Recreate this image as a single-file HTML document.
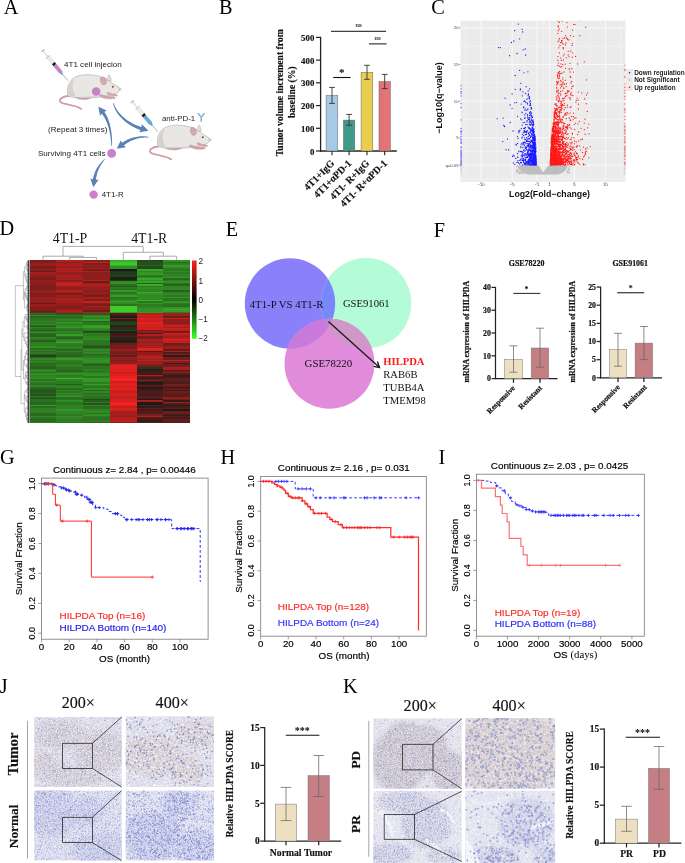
<!DOCTYPE html>
<html><head><meta charset="utf-8"><style>
html,body{margin:0;padding:0;background:#fff;overflow:hidden;}
svg{display:block;will-change:transform;}
</style></head><body>
<svg width="685" height="863" viewBox="0 0 685 863">
<rect width="685" height="863" fill="#fff"/>
<text x="3.8" y="13.7" font-family="Liberation Serif" font-size="20.3">A</text>
<text x="219" y="13.5" font-family="Liberation Serif" font-size="20.3">B</text>
<text x="431.3" y="13.6" font-family="Liberation Serif" font-size="20.3">C</text>
<text x="-0.6" y="235.2" font-family="Liberation Serif" font-size="20.3">D</text>
<text x="225.8" y="235.7" font-family="Liberation Serif" font-size="20.3">E</text>
<text x="433.7" y="236.5" font-family="Liberation Serif" font-size="20.3">F</text>
<text x="0" y="463.6" font-family="Liberation Serif" font-size="20.3">G</text>
<text x="220.4" y="463.8" font-family="Liberation Serif" font-size="20.3">H</text>
<text x="438.6" y="463.6" font-family="Liberation Serif" font-size="20.3">I</text>
<text x="-0.3" y="692.6" font-family="Liberation Serif" font-size="20.3">J</text>
<text x="343" y="692.8" font-family="Liberation Serif" font-size="20.3">K</text>
<g transform="translate(42.2 49.9) rotate(50.2) scale(0.999)">
<ellipse cx="1" cy="0" rx="0.9" ry="2.3" fill="#c4c4c4"/>
<rect x="1.5" y="-0.5" width="8" height="1.0" fill="#d2d2d2"/>
<rect x="8.6" y="-2.7" width="1.0" height="5.4" fill="#c8c8c8"/>
<rect x="9.4" y="-1.7" width="9" height="3.4" fill="#efefef" stroke="#b4b4b4" stroke-width="0.3"/>
<path d="M11.5 -1.7v1.2M13.5 -1.7v1.2M15.5 -1.7v1.2" stroke="#c8c8c8" stroke-width="0.3"/>
<rect x="17.3" y="-1.75" width="2.6" height="3.5" fill="#1a1a1a"/>
<path d="M19.9 -1.7 H29 L29.8 -1.1 V1.1 L29 1.7 H19.9 Z" fill="#c97fcb" stroke="#8a6a8a" stroke-width="0.25"/>
<rect x="29.8" y="-0.9" width="1.9" height="1.8" rx="0.5" fill="#3d9be0"/>
<line x1="31.6" y1="0" x2="40" y2="0" stroke="#666" stroke-width="0.45"/>
</g>
<g transform="translate(67 74.5) scale(0.97)">
<path d="M2 22 C-5 22.5 -9 26 -6.5 28.5 C-3 31.5 9 31 14.5 35.5" fill="none" stroke="#c48a96" stroke-width="1.7" stroke-linecap="round"/>
<path d="M2 22 C-5 22.5 -9 26 -6.5 28.5 C-3 31.5 9 31 14.5 35.5" fill="none" stroke="#e2b4bc" stroke-width="0.7" stroke-linecap="round"/>
<path d="M6 21 C8 25 14 26.5 21 25.5 C24 25 26 24 25 22 Z" fill="#d7a2ab" stroke="#a87a84" stroke-width="0.35"/>
<path d="M1 22 C-1 14 2 6 8 3 C13 0 22 -0.5 30 1 C36 2 40 4 44 7 C48 10 52 12 54.5 14 C55.5 16 53.5 18 51 19.5 C47 21 42 22 38 22.8 C30 24.2 20 24.4 10 23.8 C6 23.6 3 23.2 1 22 Z" fill="#e9e7e4" stroke="#8e8e8e" stroke-width="0.45"/>
<path d="M1.5 21.5 C0 14 3 7 8 4 C5 9 5 16 9 22.5 C6 23 3 22.8 1.5 21.5 Z" fill="#d6d1cd"/>
<path d="M10 23.5 C20 23 30 22.5 38 21.5 C30 23.6 20 24.2 10 23.8 Z" fill="#d0cac6"/>
<path d="M33 21.5 C36 24.5 41 25.5 45 25 L50 24.6 L48.5 23 L44 22.6 C41 22.4 37 21.6 35 20.5 Z" fill="#d7a2ab" stroke="#a87a84" stroke-width="0.35"/>
<path d="M41 19.5 C44 21.5 48 22.5 51 22.3 L52.5 21.3 L49 20.4 C46.5 20 44 19 42.5 18 Z" fill="#d9a7ae" stroke="#a87a84" stroke-width="0.3"/>
<path d="M40.5 6 L43.2 0 C44.5 1.5 45.5 4 45.5 6.5 Z" fill="#e3dedb" stroke="#8e8e8e" stroke-width="0.35"/>
<ellipse cx="37.4" cy="6.6" rx="2.9" ry="4.2" transform="rotate(-18 37.4 6.6)" fill="#d8aaac" stroke="#9a8282" stroke-width="0.35"/>
<circle cx="47.2" cy="12.7" r="1.05" fill="#b0402f"/>
<circle cx="54.6" cy="14.6" r="0.55" fill="#c08a90"/>
<path d="M53 15.5 l4 -1.5 M53 16 l4 0.5" stroke="#9a9a9a" stroke-width="0.25"/>
</g>
<circle cx="96.2" cy="91.5" r="4.3" fill="#c97fc9"/>
<text x="64" y="67" font-family="Liberation Sans" font-size="8.05" fill="#222">4T1 cell injecion</text>
<g transform="translate(131.6 100.9) rotate(49.7) scale(1.013)">
<ellipse cx="1" cy="0" rx="0.9" ry="2.3" fill="#c4c4c4"/>
<rect x="1.5" y="-0.5" width="8" height="1.0" fill="#d2d2d2"/>
<rect x="8.6" y="-2.7" width="1.0" height="5.4" fill="#c8c8c8"/>
<rect x="9.4" y="-1.7" width="9" height="3.4" fill="#efefef" stroke="#b4b4b4" stroke-width="0.3"/>
<path d="M11.5 -1.7v1.2M13.5 -1.7v1.2M15.5 -1.7v1.2" stroke="#c8c8c8" stroke-width="0.3"/>
<rect x="17.3" y="-1.75" width="2.6" height="3.5" fill="#1a1a1a"/>
<path d="M19.9 -1.7 H29 L29.8 -1.1 V1.1 L29 1.7 H19.9 Z" fill="#5aaee6" stroke="#8a6a8a" stroke-width="0.25"/>
<rect x="29.8" y="-0.9" width="1.9" height="1.8" rx="0.5" fill="#3d9be0"/>
<line x1="31.6" y1="0" x2="40" y2="0" stroke="#666" stroke-width="0.45"/>
</g>
<g transform="translate(157 125) scale(0.97)">
<path d="M2 22 C-5 22.5 -9 26 -6.5 28.5 C-3 31.5 9 31 14.5 35.5" fill="none" stroke="#c48a96" stroke-width="1.7" stroke-linecap="round"/>
<path d="M2 22 C-5 22.5 -9 26 -6.5 28.5 C-3 31.5 9 31 14.5 35.5" fill="none" stroke="#e2b4bc" stroke-width="0.7" stroke-linecap="round"/>
<path d="M6 21 C8 25 14 26.5 21 25.5 C24 25 26 24 25 22 Z" fill="#d7a2ab" stroke="#a87a84" stroke-width="0.35"/>
<path d="M1 22 C-1 14 2 6 8 3 C13 0 22 -0.5 30 1 C36 2 40 4 44 7 C48 10 52 12 54.5 14 C55.5 16 53.5 18 51 19.5 C47 21 42 22 38 22.8 C30 24.2 20 24.4 10 23.8 C6 23.6 3 23.2 1 22 Z" fill="#e9e7e4" stroke="#8e8e8e" stroke-width="0.45"/>
<path d="M1.5 21.5 C0 14 3 7 8 4 C5 9 5 16 9 22.5 C6 23 3 22.8 1.5 21.5 Z" fill="#d6d1cd"/>
<path d="M10 23.5 C20 23 30 22.5 38 21.5 C30 23.6 20 24.2 10 23.8 Z" fill="#d0cac6"/>
<path d="M33 21.5 C36 24.5 41 25.5 45 25 L50 24.6 L48.5 23 L44 22.6 C41 22.4 37 21.6 35 20.5 Z" fill="#d7a2ab" stroke="#a87a84" stroke-width="0.35"/>
<path d="M41 19.5 C44 21.5 48 22.5 51 22.3 L52.5 21.3 L49 20.4 C46.5 20 44 19 42.5 18 Z" fill="#d9a7ae" stroke="#a87a84" stroke-width="0.3"/>
<path d="M40.5 6 L43.2 0 C44.5 1.5 45.5 4 45.5 6.5 Z" fill="#e3dedb" stroke="#8e8e8e" stroke-width="0.35"/>
<ellipse cx="37.4" cy="6.6" rx="2.9" ry="4.2" transform="rotate(-18 37.4 6.6)" fill="#d8aaac" stroke="#9a8282" stroke-width="0.35"/>
<circle cx="47.2" cy="12.7" r="1.05" fill="#b0402f"/>
<circle cx="54.6" cy="14.6" r="0.55" fill="#c08a90"/>
<path d="M53 15.5 l4 -1.5 M53 16 l4 0.5" stroke="#9a9a9a" stroke-width="0.25"/>
</g>
<text x="162" y="120.5" font-family="Liberation Sans" font-size="7.85" fill="#222">anti-PD-1</text>
<path d="M198.2 113.6 L201.2 117.2 L204.2 113.6 M201.2 117.2 L201.2 121.3" fill="none" stroke="#7fb3e0" stroke-width="1.5" stroke-linecap="round"/>
<path d="M113.11 103.17 L113.33 104.47 L113.67 105.78 L114.12 107.10 L114.67 108.43 L115.31 109.76 L116.04 111.09 L116.85 112.42 L117.75 113.73 L118.74 115.03 L119.80 116.32 L120.93 117.58 L122.14 118.82 L123.42 120.03 L124.76 121.20 L126.18 122.34 L127.65 123.44 L129.18 124.49 L130.78 125.49 L132.42 126.44 L134.12 127.33 L135.87 128.16 L137.67 128.93 L139.51 129.63 L141.33 130.23 L142.27 127.17 L140.42 126.65 L138.68 126.08 L136.96 125.44 L135.29 124.73 L133.65 123.97 L132.05 123.15 L130.50 122.28 L129.00 121.36 L127.55 120.39 L126.16 119.38 L124.82 118.34 L123.54 117.26 L122.32 116.15 L121.16 115.01 L120.08 113.85 L119.06 112.68 L118.12 111.48 L117.25 110.28 L116.46 109.07 L115.74 107.86 L115.11 106.64 L114.56 105.43 L114.09 104.22 L113.69 103.03Z" fill="#5b80b6"/>
<path d="M148.49 130.75 L139.42 132.36 Q141.61 128.64 141.89 124.33Z" fill="#5b80b6"/>
<path d="M148.84 137.00 L147.73 136.76 L146.60 136.58 L145.46 136.44 L144.31 136.36 L143.14 136.31 L141.97 136.31 L140.79 136.35 L139.61 136.43 L138.42 136.55 L137.23 136.72 L136.04 136.92 L134.85 137.17 L133.66 137.46 L132.48 137.79 L131.31 138.16 L130.14 138.57 L128.98 139.02 L127.84 139.52 L126.70 140.06 L125.59 140.63 L124.48 141.25 L123.40 141.92 L122.33 142.62 L121.33 143.33 L123.27 145.87 L124.22 145.09 L125.15 144.38 L126.09 143.71 L127.07 143.07 L128.06 142.46 L129.06 141.89 L130.09 141.35 L131.13 140.84 L132.19 140.38 L133.26 139.94 L134.34 139.54 L135.43 139.18 L136.52 138.85 L137.63 138.56 L138.74 138.31 L139.85 138.09 L140.97 137.91 L142.09 137.76 L143.21 137.65 L144.32 137.58 L145.44 137.54 L146.55 137.53 L147.66 137.56 L148.76 137.60Z" fill="#5b80b6"/>
<path d="M116.74 148.85 L120.71 140.53 Q122.46 144.48 125.80 147.21Z" fill="#5b80b6"/>
<path d="M112.00 146.00 L112.07 144.24 L112.09 142.51 L112.07 140.79 L112.01 139.09 L111.92 137.40 L111.79 135.74 L111.63 134.11 L111.43 132.49 L111.21 130.90 L110.95 129.34 L110.66 127.81 L110.33 126.31 L109.98 124.84 L109.59 123.40 L109.16 122.00 L108.71 120.63 L108.22 119.30 L107.70 118.01 L107.14 116.76 L106.55 115.55 L105.92 114.39 L105.26 113.26 L104.56 112.19 L103.87 111.22 L101.33 113.18 L102.09 114.09 L102.78 115.00 L103.44 115.96 L104.09 116.98 L104.70 118.05 L105.30 119.17 L105.87 120.34 L106.41 121.56 L106.93 122.82 L107.42 124.13 L107.88 125.48 L108.32 126.87 L108.72 128.29 L109.10 129.76 L109.46 131.25 L109.78 132.78 L110.08 134.34 L110.34 135.93 L110.58 137.55 L110.79 139.20 L110.98 140.87 L111.14 142.56 L111.27 144.27 L111.40 146.00Z" fill="#5b80b6"/>
<path d="M98.33 106.65 L106.66 110.59 Q102.72 112.36 100.00 115.71Z" fill="#5b80b6"/>
<path d="M104.49 159.09 L103.70 159.75 L102.96 160.44 L102.24 161.15 L101.54 161.88 L100.87 162.63 L100.22 163.39 L99.59 164.18 L98.98 164.98 L98.40 165.80 L97.84 166.63 L97.31 167.49 L96.80 168.35 L96.31 169.24 L95.85 170.14 L95.41 171.06 L95.00 171.99 L94.62 172.94 L94.26 173.91 L93.94 174.89 L93.63 175.89 L93.36 176.90 L93.11 177.93 L92.90 178.97 L92.71 179.98 L95.89 180.42 L95.98 179.39 L96.10 178.42 L96.24 177.46 L96.41 176.51 L96.61 175.57 L96.83 174.65 L97.07 173.73 L97.34 172.82 L97.64 171.91 L97.96 171.02 L98.31 170.14 L98.68 169.27 L99.07 168.41 L99.49 167.56 L99.94 166.71 L100.40 165.88 L100.89 165.06 L101.40 164.24 L101.94 163.43 L102.50 162.64 L103.08 161.85 L103.68 161.07 L104.29 160.29 L104.91 159.51Z" fill="#5b80b6"/>
<path d="M93.35 187.14 L90.30 178.44 Q94.33 180.00 98.62 179.58Z" fill="#5b80b6"/>
<circle cx="111.6" cy="153.4" r="4.4" fill="#c97fc9"/>
<circle cx="93.6" cy="194.6" r="4.2" fill="#c97fc9"/>
<text x="48" y="132" font-family="Liberation Sans" font-size="8.05" fill="#222">(Repeat 3 times)</text>
<text x="105.5" y="156.3" font-family="Liberation Sans" font-size="8.05" text-anchor="end" fill="#222">Surviving 4T1 cells</text>
<text x="101.7" y="197.3" font-family="Liberation Sans" font-size="7.9" fill="#222">4T1-R</text>
<line x1="320.6" y1="36.8" x2="320.6" y2="151.6" stroke="#222" stroke-width="1.3"/>
<line x1="320" y1="151" x2="396.8" y2="151" stroke="#222" stroke-width="1.3"/>
<line x1="316" y1="151" x2="320.6" y2="151" stroke="#222" stroke-width="1.2"/>
<text x="314.3" y="154.6" font-family="Liberation Serif" font-size="8.8" font-weight="bold" text-anchor="end" fill="#111" stroke="#111" stroke-width="0.15">0</text>
<line x1="316" y1="128.3" x2="320.6" y2="128.3" stroke="#222" stroke-width="1.2"/>
<text x="314.3" y="131.9" font-family="Liberation Serif" font-size="8.8" font-weight="bold" text-anchor="end" fill="#111" stroke="#111" stroke-width="0.15">100</text>
<line x1="316" y1="105.6" x2="320.6" y2="105.6" stroke="#222" stroke-width="1.2"/>
<text x="314.3" y="109.2" font-family="Liberation Serif" font-size="8.8" font-weight="bold" text-anchor="end" fill="#111" stroke="#111" stroke-width="0.15">200</text>
<line x1="316" y1="82.8" x2="320.6" y2="82.8" stroke="#222" stroke-width="1.2"/>
<text x="314.3" y="86.4" font-family="Liberation Serif" font-size="8.8" font-weight="bold" text-anchor="end" fill="#111" stroke="#111" stroke-width="0.15">300</text>
<line x1="316" y1="60.1" x2="320.6" y2="60.1" stroke="#222" stroke-width="1.2"/>
<text x="314.3" y="63.7" font-family="Liberation Serif" font-size="8.8" font-weight="bold" text-anchor="end" fill="#111" stroke="#111" stroke-width="0.15">400</text>
<line x1="316" y1="37.4" x2="320.6" y2="37.4" stroke="#222" stroke-width="1.2"/>
<text x="314.3" y="41" font-family="Liberation Serif" font-size="8.8" font-weight="bold" text-anchor="end" fill="#111" stroke="#111" stroke-width="0.15">500</text>
<rect x="326.1" y="95.4" width="11.7" height="55.6" fill="#a6c9e6" stroke="#666" stroke-width="0.5"/>
<line x1="332" y1="87.4" x2="332" y2="103.4" stroke="#333" stroke-width="0.9"/>
<line x1="329.1" y1="87.4" x2="334.9" y2="87.4" stroke="#333" stroke-width="0.9"/>
<line x1="329.1" y1="103.4" x2="334.9" y2="103.4" stroke="#333" stroke-width="0.9"/>
<line x1="332" y1="151" x2="332" y2="155.3" stroke="#222" stroke-width="1.1"/>
<text x="335" y="163.9" font-family="Liberation Serif" font-size="9.85" font-weight="bold" text-anchor="end" fill="#111" stroke="#111" stroke-width="0.15" transform="rotate(-45 335 163.9)">4T1+IgG</text>
<rect x="343.4" y="120.1" width="11.4" height="30.9" fill="#3f9a89" stroke="#666" stroke-width="0.5"/>
<line x1="349.1" y1="114.4" x2="349.1" y2="125.2" stroke="#333" stroke-width="0.9"/>
<line x1="346.2" y1="114.4" x2="352" y2="114.4" stroke="#333" stroke-width="0.9"/>
<line x1="346.2" y1="125.2" x2="352" y2="125.2" stroke="#333" stroke-width="0.9"/>
<line x1="349.1" y1="151" x2="349.1" y2="155.3" stroke="#222" stroke-width="1.1"/>
<text x="352.1" y="163.9" font-family="Liberation Serif" font-size="9.85" font-weight="bold" text-anchor="end" fill="#111" stroke="#111" stroke-width="0.15" transform="rotate(-45 352.1 163.9)">4T1+αPD-1</text>
<rect x="361.1" y="72.3" width="11.7" height="78.7" fill="#e9cf4f" stroke="#666" stroke-width="0.5"/>
<line x1="367" y1="65.3" x2="367" y2="79.3" stroke="#333" stroke-width="0.9"/>
<line x1="364.1" y1="65.3" x2="369.9" y2="65.3" stroke="#333" stroke-width="0.9"/>
<line x1="364.1" y1="79.3" x2="369.9" y2="79.3" stroke="#333" stroke-width="0.9"/>
<line x1="367" y1="151" x2="367" y2="155.3" stroke="#222" stroke-width="1.1"/>
<text x="370" y="163.9" font-family="Liberation Serif" font-size="9.85" font-weight="bold" text-anchor="end" fill="#111" stroke="#111" stroke-width="0.15" transform="rotate(-45 370 163.9)">4T1- R+IgG</text>
<rect x="379" y="81.6" width="11.4" height="69.4" fill="#e37377" stroke="#666" stroke-width="0.5"/>
<line x1="384.7" y1="74.4" x2="384.7" y2="88.6" stroke="#333" stroke-width="0.9"/>
<line x1="381.8" y1="74.4" x2="387.6" y2="74.4" stroke="#333" stroke-width="0.9"/>
<line x1="381.8" y1="88.6" x2="387.6" y2="88.6" stroke="#333" stroke-width="0.9"/>
<line x1="384.7" y1="151" x2="384.7" y2="155.3" stroke="#222" stroke-width="1.1"/>
<text x="387.7" y="163.9" font-family="Liberation Serif" font-size="9.85" font-weight="bold" text-anchor="end" fill="#111" stroke="#111" stroke-width="0.15" transform="rotate(-45 387.7 163.9)">4T1- R+αPD-1</text>
<line x1="333.2" y1="77.5" x2="350.6" y2="77.5" stroke="#111" stroke-width="1.1"/>
<text x="341.8" y="76.4" font-family="Liberation Serif" font-size="11" font-weight="bold" text-anchor="middle">*</text>
<line x1="331" y1="31.3" x2="386" y2="31.3" stroke="#111" stroke-width="1.0"/>
<text x="358.5" y="27" font-family="Liberation Serif" font-size="7" text-anchor="middle" fill="#333" stroke="#333" stroke-width="0.15">ns</text>
<line x1="369" y1="43.9" x2="386.5" y2="43.9" stroke="#111" stroke-width="1.0"/>
<text x="377.7" y="39.6" font-family="Liberation Serif" font-size="7" text-anchor="middle" fill="#333" stroke="#333" stroke-width="0.15">ns</text>
<text x="283.5" y="92.7" font-family="Liberation Serif" font-size="9.66" font-weight="bold" text-anchor="middle" fill="#111" stroke="#111" stroke-width="0.15" transform="rotate(-90 283.5 92.7)">Tumor volume increment from</text>
<text x="295.2" y="92.2" font-family="Liberation Serif" font-size="9.66" font-weight="bold" text-anchor="middle" fill="#111" stroke="#111" stroke-width="0.15" transform="rotate(-90 295.2 92.2)">baseline (%)</text>
<defs><clipPath id="cclip"><rect x="460.5" y="20.7" width="165.0" height="161.10000000000002"/></clipPath></defs>
<rect x="460.5" y="20.7" width="165" height="161.1" fill="#ebebeb"/>
<path d="M465.5 20.7V181.8M496.6 20.7V181.8M524.5 20.7V181.8M543.2 20.7V181.8M561.9 20.7V181.8M589.9 20.7V181.8M621 20.7V181.8M460.5 151.5H625.5M460.5 119.5H625.5M460.5 82.8H625.5M460.5 46.2H625.5M460.5 179H625.5" stroke="#f6f6f6" stroke-width="0.5" fill="none"/>
<path d="M481 20.7V181.8M512.1 20.7V181.8M537 20.7V181.8M549.4 20.7V181.8M574.3 20.7V181.8M605.4 20.7V181.8M460.5 165.1H625.5M460.5 137.9H625.5M460.5 101.2H625.5M460.5 64.5H625.5M460.5 27.8H625.5" stroke="#fbfbfb" stroke-width="0.9" fill="none"/>
<g clip-path="url(#cclip)">
<path d="M519.6 165.1 L520.5 165.1 L521.4 165.1 L522.3 165.1 L523.2 165.1 L524.2 165.1 L525.1 165.1 L526 165.1 L526.9 165.1 L527.8 165.1 L528.7 165.1 L529.7 165.1 L530.6 165.1 L531.5 165.1 L532.4 165.1 L533.3 165.1 L534.2 165.1 L535.2 165.1 L536.1 165.1 L537 165.1 L537.9 165.1 L537.9 165.1 L543.2 172.4 L549.1 165.1 L549.1 165.1 L550 165.1 L550.9 165.1 L551.8 165.1 L552.7 165.1 L553.6 165.1 L554.5 165.1 L555.4 165.1 L556.3 165.1 L557.2 165.1 L558.1 165.1 L559 165.1 L559.9 165.1 L560.8 165.1 L561.7 165.1 L562.6 165.1 L563.5 165.1 L564.4 165.1 L565.3 165.1 L566.2 165.1 L567.1 165.1 L567.1 167.6 L565.6 169.6 L564 171.2 L562.4 172.6 L560.8 173.6 L559.2 174.2 L557.6 174.6 L556 174.6 L554.5 174.6 L552.9 174.6 L551.3 174.6 L549.7 174.6 L548.1 174.6 L546.5 174.6 L544.9 174.6 L543.4 174.6 L541.8 174.6 L540.2 174.6 L538.6 174.6 L537 174.6 L535.4 174.6 L533.8 174.6 L532.3 174.6 L530.7 174.6 L529.1 174.6 L527.5 174.3 L525.9 173.7 L524.3 172.8 L522.7 171.5 L521.2 169.9 L519.6 168Z" fill="#bebebe"/>
<path d="M534 172.5h0M551.7 173.2h0M545.5 170.6h0M519.6 169.4h0M518.5 170h0M520.2 173.1h0M523.2 171.9h0M550.4 165.5h0M547.7 170.4h0M569.3 173.5h0M562.9 171.3h0M524.3 172.8h0M533.1 166.7h0M526.2 168.7h0M551 170.6h0M546.1 173.3h0M519.7 172.1h0M553.3 170.1h0M533.5 168.7h0M541 171.2h0M559.4 167.7h0M529.7 168.8h0M555.9 171.3h0M569.5 172.8h0M539.1 167.2h0M524.7 169.6h0M518.6 168h0M557.8 168.8h0M563.8 171.1h0M554.1 168.6h0M547.8 169.8h0M561.9 165.5h0M519.7 167.7h0M551.5 165.1h0M560.9 171.4h0M537.3 168h0M517.7 169.8h0M525.5 172.8h0M519.6 167.1h0M523.5 171.7h0M537.6 166.2h0M520.8 169.9h0M560.8 166.3h0M531.5 170.2h0M535.9 166.1h0M568.3 172.5h0M526 171.8h0M529.1 169.6h0M548.3 171.6h0M516.7 170.2h0M536.4 168.9h0M568 167.8h0M553 173.4h0M565.1 167h0M563.8 166.8h0M537.7 170.4h0M522.1 168.3h0M519.8 173.3h0M527.8 172.4h0M534.9 173.4h0M516.5 172.5h0M521.9 170.7h0M517.8 166.2h0M549.7 172.6h0M530.1 170.8h0M536.2 172.8h0M562.4 165.1h0M521.1 173h0M535 171.5h0M561.3 172.4h0M517.7 165.5h0M545 172.6h0M545.8 173.6h0M563.2 167.7h0M530.6 170.6h0M525.5 167.1h0M534.3 171.9h0M560.4 165.2h0M562.6 166.8h0M560.7 167.3h0M528.7 169.3h0M535.7 173.6h0M518 171.4h0M530.5 167.8h0M568.2 169.9h0M567.2 165.2h0M568.1 170.7h0M528.4 171.9h0M527.1 172.1h0M550.2 165.9h0M561.9 169.6h0M551.8 166.8h0M521 168h0M565.7 167h0M557 169.7h0M526.1 166.9h0M534.4 166.8h0M569 170.4h0M555.7 172.4h0M523.3 172.5h0M565.4 166.8h0M524.4 166.6h0M569.5 168.1h0M535.4 169h0M523.5 173.7h0M569 168.1h0M561.2 172h0M530.1 171.3h0M529.5 168.7h0M530.5 170.2h0M523.5 165.9h0M535.6 169.8h0M544.8 173.7h0M540.3 172.3h0M516.7 166.8h0M525.8 169.7h0M555.7 169h0M534.1 169.3h0M522.2 168.9h0M529.9 171.4h0M558.2 169.4h0M565.8 170h0M549.6 169.4h0M554.3 166.1h0M567.4 171.6h0M561.9 172.7h0M523 170h0M520.4 171.7h0M520.4 168h0M558.9 166h0M524.8 167.6h0M552.2 172.6h0M564.2 165.3h0M528.3 165.5h0M538 169.6h0M570 166.5h0M525.2 170.1h0M527 171.1h0M555.5 173.7h0M546.4 170h0M517.4 170.9h0M550.2 169.4h0M519.9 165.2h0M559.1 165.3h0M522.1 171.5h0M518.6 167h0M531.1 172.7h0M560.8 171.6h0M524.5 165.8h0M547.3 167.7h0M521.3 173.4h0M553.7 170.1h0M520.4 165.6h0M550.8 166.8h0M521 166.3h0M520.1 166.3h0M541 170.9h0M530.9 172.7h0M545 171.8h0M522.4 172.4h0M519.2 172.1h0M533.3 171.2h0M557.6 171.3h0M543.5 172.3h0M535.2 173.7h0M530 173.7h0M556.1 169h0M526.7 169.7h0M567 172.9h0M560.8 170.1h0M537.7 169.4h0M553.7 165.2h0M535 166.5h0M554.7 168.3h0M538.4 170.8h0M519.4 172.7h0M520.3 167.3h0M530.3 172.4h0M521 166.5h0M563.6 168h0M531.7 171.7h0M532.3 169.8h0M525 169.9h0M530.7 165.4h0M569.1 169h0M529.7 165.4h0M533.2 170.7h0M516.5 170.5h0M527.3 169.4h0M516.7 171.5h0M521.3 170.3h0M518.7 173.7h0M532.9 171.8h0M548.1 169.2h0M557.1 168.1h0M460.9 167.8h0M625.1 167.8h0M460.9 166.2h0M625.1 166.2h0M460.9 170.9h0M625.1 170.9h0M460.9 171.5h0M625.1 171.5h0M460.9 165.2h0M625.1 165.2h0M460.9 173.2h0M625.1 173.2h0M460.9 167.7h0M625.1 167.7h0M460.9 168.5h0M625.1 168.5h0M460.9 174.2h0M625.1 174.2h0M460.9 166.6h0M625.1 166.6h0M460.9 166.1h0M625.1 166.1h0M460.9 168.6h0M625.1 168.6h0M460.9 167.6h0M625.1 167.6h0M460.9 166.8h0M625.1 166.8h0M460.9 173.3h0M625.1 173.3h0M460.9 169.6h0M625.1 169.6h0" stroke="#bebebe" stroke-width="1.3" stroke-linecap="round" fill="none"/>
<path d="M527.6 151.1h0M526.6 132.7h0M525.4 147.7h0M530.1 142.3h0M536.2 159.9h0M534.3 162.2h0M528 162.9h0M531.3 148.9h0M530.4 145.6h0M536 151.7h0M528.4 133.4h0M532.4 151.2h0M535.3 143.7h0M534.1 138.6h0M535 163.5h0M534.4 139.2h0M518.1 138.4h0M533.7 151.6h0M530.6 152.1h0M530.7 136.2h0M535.3 144.7h0M535 161.9h0M533.7 138.1h0M535.8 148.4h0M535 163.8h0M530.1 143h0M534 142.7h0M533 150.7h0M535.4 152.6h0M532.1 120.6h0M515.2 89.3h0M533.7 164.7h0M518.5 131.1h0M534.6 153.2h0M522.8 160.4h0M532.3 160.4h0M533 162h0M530.5 104.6h0M531.3 131.1h0M527 121.9h0M525.7 159.8h0M535.9 151.9h0M533.4 165h0M534.4 153.2h0M534.5 162.1h0M527.7 157.5h0M530.1 165h0M533.6 128.8h0M525.8 113.4h0M531.3 119.1h0M533.8 155.8h0M522.7 31.9h0M533.6 156.2h0M536.1 158.7h0M528.1 162.9h0M523.5 158.4h0M534.9 159.4h0M535 150.9h0M521.6 155.8h0M524.7 122.3h0M524.3 145.3h0M527.6 109.1h0M535.3 139.9h0M532.7 138.9h0M530.5 137.4h0M536 158.4h0M531.6 113.2h0M534.1 152.4h0M530 158.1h0M528.2 90.9h0M534 143.9h0M533.5 148.9h0M535.6 161.4h0M525.3 160.4h0M534.8 151.4h0M503.1 118.1h0M535.4 153.2h0M535.9 160.8h0M535.8 156.8h0M534.9 159.6h0M525.7 148.3h0M532.9 137.6h0M532.6 154.5h0M534.2 155.7h0M535 163.8h0M529.6 97h0M531.3 151.2h0M532.6 125.7h0M535 158.8h0M533.4 154.9h0M521.2 104.1h0M533.6 124.2h0M530.8 164.4h0M529.8 120.3h0M535.8 147.5h0M523.9 155.2h0M524.3 130.4h0M528.5 94h0M535.7 162.8h0M530.6 150.4h0M525 108.8h0M528.9 144.4h0M532.3 152.9h0M529.4 164.3h0M524.6 159.8h0M534 144.5h0M535.1 162.3h0M530.1 145h0M536.1 162.7h0M531.9 150.3h0M535 155.3h0M535.7 146.8h0M533.4 157.9h0M525.5 101.8h0M530.1 122.4h0M535 159.8h0M524.4 101h0M536.1 157.8h0M530.7 151.4h0M534.7 154.3h0M523.6 143.2h0M536.2 160h0M533.7 156.9h0M534.6 142.3h0M528.6 133.5h0M534.9 151.1h0M528.2 95.7h0M533.4 131.1h0M529.7 160.1h0M522.1 158.1h0M535 151.5h0M533.8 160h0M521.8 143.4h0M534.1 161.9h0M519.3 160.3h0M536.2 162h0M534.2 163.8h0M521.8 119.8h0M507.5 138.9h0M530.1 111.9h0M523.6 161h0M535.3 137.9h0M533.4 143.4h0M534.3 155.8h0M536.4 161.4h0M534.3 158.6h0M530.4 103.4h0M529.4 99h0M528.1 156.3h0M531.9 130.9h0M533.5 164.1h0M524.4 155.8h0M534.3 160.8h0M533 120h0M528.3 154.6h0M535 136.2h0M536.2 164.4h0M531 115h0M524.7 137.8h0M534.7 156.9h0M525.9 102.4h0M530.4 159h0M534.7 157.5h0M530 165h0M527.4 115.9h0M531.6 108.2h0M533.3 159.8h0M514.8 102.8h0M534.8 155.4h0M532.9 153.9h0M531.3 112.9h0M528.5 132.9h0M527.6 130.8h0M533.9 146.5h0M534.1 157.4h0M534.7 134.8h0M529.8 160.7h0M536 159.4h0M532.8 164.4h0M517.9 157.2h0M510.2 122.5h0M535.9 159h0M533.2 163h0M532.8 140.5h0M533.8 159.8h0M530.5 145.9h0M526.6 137.7h0M535 143.4h0M532.4 128.6h0M533.7 148.5h0M534.4 138.5h0M535 159.4h0M526.4 161.8h0M534 147.9h0M513.3 155.1h0M534.7 151h0M529.8 132.3h0M527.9 71.8h0M528 152.3h0M521.3 128.7h0M534.9 164.2h0M535.5 162.5h0M525.4 93.5h0M529.8 112.3h0M530.7 125.2h0M529.3 159.1h0M531 107.3h0M531.3 147.1h0M534.2 160.2h0M535.4 162h0M532 159.2h0M534.6 144.2h0M534.7 164.8h0M534.7 142.6h0M535.2 157.6h0M531.2 133.6h0M536 163.8h0M532.4 155.1h0M535.3 144.9h0M530.9 161.5h0M534.6 154.6h0M522 157.8h0M532.3 157.6h0M533.7 156.3h0M503.8 125.5h0M535.2 156.1h0M534.4 139.3h0M525.7 164.9h0M528.1 154.1h0M526.1 154.7h0M535.2 152.8h0M532.8 164.8h0M524.5 144.8h0M531.9 163.2h0M532.9 155.9h0M534.9 161.9h0M523.8 150.5h0M533.3 162.8h0M518.9 132.7h0M535.7 160.7h0M512.1 108.3h0M535.8 152h0M529.8 113.4h0M527.9 118.6h0M533.7 130.6h0M533.8 134.5h0M527.4 154.8h0M533.4 130h0M534 160.2h0M533.7 150.6h0M535.1 162.5h0M524.9 139.5h0M532.7 164.2h0M535.1 137h0M533.7 129h0M532.1 146.9h0M534 145.5h0M532 154.3h0M531.1 154.1h0M533.4 153.3h0M532 164.6h0M534.7 151.7h0M528.2 136.5h0M535.1 152.9h0M535.5 152.4h0M533.8 162.3h0M533.7 163.2h0M535.8 150.9h0M535.3 145h0M528.5 138.9h0M535.7 150.9h0M533.8 151.2h0M530.6 105.3h0M504.7 126.5h0M527.6 139h0M517.7 160.8h0M521.4 151.6h0M531.7 116h0M522.5 134.3h0M534.5 163.7h0M534.5 137.1h0M531.5 120.1h0M533.9 131.5h0M524.2 151.2h0M534.9 160.4h0M534.2 151.1h0M535.6 164.3h0M523.5 161.6h0M525.1 142.5h0M529.2 161.4h0M532.9 162.6h0M533.6 145h0M529.4 124.2h0M525.8 147.9h0M513.3 162.9h0M533.4 145.4h0M533.4 133.4h0M524 72.8h0M529.4 156.2h0M535.2 153.5h0M535.2 138.1h0M533.2 131.1h0M516.4 144.9h0M530.7 147.6h0M536.2 157.6h0M535.8 164.4h0M533.1 146.1h0M525.4 150.8h0M535.2 162.3h0M535.6 144.1h0M534.5 165h0M534.4 162.8h0M532.3 160h0M534.8 147.4h0M532.7 145.7h0M523.6 162.2h0M535.6 159.5h0M531.7 163.1h0M525.7 124.4h0M534.7 154.9h0M531.7 164.8h0M533.9 148.7h0M533 144.5h0M525 110.2h0M525.4 159.4h0M533 164.2h0M534.9 154.7h0M529.5 163.9h0M532.8 164.8h0M531 109h0M532 160.6h0M531.2 151h0M533.8 131.8h0M534.6 157.7h0M526.2 164.1h0M529.2 134.8h0M527.9 164.9h0M532.5 138h0M532.6 138.2h0M535.8 160h0M536.1 159.8h0M529.8 157h0M526.9 141.5h0M534.1 140.4h0M533.2 149.1h0M531.5 134.3h0M531.5 158.9h0M529.2 98.5h0M533.5 123h0M535 159.1h0M521.9 138.1h0M533.6 137.9h0M531.5 123h0M525.2 159.6h0M530.2 145.3h0M517.6 143.4h0M527.5 152.5h0M526.5 141.4h0M530.1 153.7h0M534.1 148.3h0M531.8 160.3h0M525.2 163.5h0M536.3 162h0M524.1 162.8h0M535.5 156.7h0M536.3 164.5h0M530.9 141.7h0M529.3 141.4h0M532.3 163.7h0M528.2 156.1h0M524.2 131.1h0M527 163.7h0M517.5 116.3h0M535.4 162.8h0M536.3 162.7h0M525.3 127.8h0M527.6 145.1h0M534.1 145.3h0M536 163h0M534.2 137h0M533.7 157.4h0M535.1 164.6h0M530.4 158.5h0M534.4 156h0M526.9 99.2h0M529 127.3h0M534 164.4h0M529.2 153.7h0M530.5 156.6h0M534.8 149.8h0M533.4 125.8h0M533.7 131.1h0M535.5 165h0M517.5 136.6h0M533.4 165h0M528.6 151.7h0M533.2 161h0M527.9 156.6h0M522.9 159.1h0M535.1 158.4h0M532.3 141.2h0M531.7 162.8h0M529.2 163.4h0M528.4 141.4h0M533.7 145.5h0M533.8 154.9h0M532.9 121.2h0M533.3 121.6h0M534.9 160.5h0M529.4 119.2h0M526.1 155.6h0M533.4 159.8h0M529.4 150h0M530.5 137.3h0M534.3 156.6h0M527.8 161.7h0M529.3 143.6h0M533.7 161.4h0M531.1 135.6h0M533.5 162.4h0M532 122.2h0M534.7 160.8h0M526.9 141h0M535.6 161.7h0M534.5 159.4h0M535.1 150.4h0M535.2 157.2h0M523 91.8h0M521.2 162.9h0M534.2 162.9h0M520.9 83.3h0M532.8 138.9h0M531.6 160.7h0M535.4 162.8h0M536 155.3h0M528.8 155h0M532.3 141.6h0M532.8 145.2h0M532.1 162h0M529.8 154.8h0M530 117.8h0M529.4 148.1h0M534.9 154.2h0M525.6 139.7h0M529.5 135.6h0M528.1 127.1h0M532.9 144.7h0M531.6 157.6h0M533.9 163h0M529.2 134.8h0M534.4 145.4h0M533.3 154.1h0M533.3 145.8h0M523.2 142.8h0M531.4 161.1h0M532.8 135.2h0M518.9 151.7h0M532.9 164.3h0M529.3 161.6h0M528 109.1h0M532.5 162.9h0M530 149.6h0M531.2 150.8h0M530.6 130.1h0M522.3 154.6h0M531 160.4h0M529.4 155.2h0M517 162.5h0M535.9 156.4h0M533.9 158.7h0M534 164.8h0M530.5 154.2h0M534.8 156.5h0M530 160h0M527.9 109.3h0M528.8 160.2h0M535 155.2h0M529.4 162.3h0M530 132.2h0M532.2 152.5h0M520.8 160h0M531.4 156.4h0M526.7 131.2h0M534.4 152.5h0M535.3 149.3h0M532.1 129.5h0M532.5 127.4h0M534.8 155.7h0M535.1 154.1h0M530.6 165h0M535 158.5h0M533.2 157.9h0M531.4 154h0M533.6 143.7h0M522.1 112.7h0M528.3 163.9h0M524.9 118.2h0M528.1 162.1h0M535.7 145.2h0M522.4 164.8h0M534.3 143.9h0M535.7 162.9h0M529.3 159.8h0M535.4 156.6h0M524.7 118.6h0M526 161.4h0M528.7 146.5h0M525.2 143.2h0M526.5 134.3h0M530.9 160.7h0M529.6 150.1h0M526.1 153.6h0M534.4 149h0M535.6 159.8h0M535.7 151.6h0M535.3 152.6h0M532.8 151.7h0M526.6 149.7h0M528 164.9h0M532.2 152.6h0M527.1 143.4h0M533.6 155.7h0M530.4 101h0M531 145h0M532.1 164.5h0M523.1 142.3h0M517.5 157.1h0M532.9 150.9h0M533 119.9h0M530.9 140h0M527 156.9h0M533.2 156h0M529.1 150.3h0M533.7 160.4h0M532.3 154.2h0M532.7 130.3h0M531.7 130.2h0M534.5 151.2h0M518.8 151.1h0M528.4 144h0M534.4 157.1h0M532.1 158h0M528.6 145.1h0M530.5 164.2h0M529.3 122.1h0M534.8 164h0M535.6 164.9h0M527.6 114.6h0M528.4 143.8h0M527.9 117.4h0M531.2 146.1h0M531.3 141.4h0M534.5 142.4h0M532.8 143.3h0M534.8 136.6h0M536.2 161.1h0M523.7 135.5h0M533.5 143.9h0M527.3 130.8h0M534.5 148.7h0M533.7 157.9h0M533.6 157.5h0M523 144.7h0M532.6 163.9h0M535.9 164.3h0M530.7 132.1h0M529.5 115.3h0M534.2 164.8h0M522.9 147.3h0M526.1 86.7h0M535.6 154.5h0M534.6 144.6h0M536.3 161.8h0M531.2 165h0M520.6 162.5h0M527 163.2h0M536.3 162.3h0M534.2 139.9h0M534.5 138.8h0M529.6 164h0M526.5 140.3h0M535.1 139.1h0M530 145.4h0M523.5 152.8h0M520.8 159.2h0M535.5 140h0M531.6 164.8h0M534.2 131.4h0M530.1 157.7h0M527.2 161.5h0M535.7 151.9h0M532.2 156h0M530.8 153.6h0M529 162h0M531.3 156.1h0M533.2 145.4h0M528.9 155.4h0M523.5 107.6h0M534.2 148.5h0M519.5 163.8h0M527.4 141h0M531.9 157.1h0M520.3 89.9h0M534.1 146.8h0M525.9 154h0M530.8 155.7h0M525.2 146.8h0M533.2 132.4h0M535.1 165h0M532 154.2h0M524.4 131.5h0M528.2 164.2h0M525.3 132h0M534.4 148.2h0M525.4 127.3h0M524.2 142.2h0M535.8 156.6h0M528.4 149.1h0M529.9 160.6h0M530.8 111.9h0M530.5 146.6h0M535 152.7h0M529.8 159.2h0M532.1 134h0M528.8 163.2h0M533.9 135.7h0M525.2 147.9h0M529.6 122.2h0M531.9 152.2h0M535.4 160.9h0M530.7 161.1h0M532.3 156.1h0M532.7 154.9h0M536.2 161.9h0M525.2 49h0M531.8 162.8h0M534.2 134.4h0M533.8 147h0M535.8 150.5h0M514.8 164.4h0M530.3 125.2h0M534.4 148.5h0M532.5 135.1h0M523.9 107h0M519.2 131.2h0M536.1 159.3h0M535.4 160.6h0M536.2 163.3h0M526.3 148.9h0M522.3 152.9h0M532.5 117.4h0M533.4 147h0M521.5 162.5h0M532.4 159.2h0M521.1 144.8h0M533.3 143.1h0M535.2 153.3h0M505.1 98.2h0M536.2 160.1h0M534.3 159.2h0M520.6 118.9h0M534.1 129.1h0M529.2 134.5h0M516 144.4h0M535.8 163.9h0M522.3 137.2h0M534 142.7h0M529.2 147.3h0M534.6 162.9h0M535.7 159.2h0M535.1 152h0M535.6 159.7h0M535.6 142.6h0M534.5 140h0M524.3 164.3h0M523.7 160.1h0M522.2 125.1h0M533.7 162.1h0M524.1 163h0M529 128.5h0M534.1 153.1h0M531.5 130.7h0M535 145.5h0M536.1 160.1h0M531.8 140.3h0M526.9 162h0M533.8 158.9h0M534.9 161.7h0M532.1 128.8h0M533.2 161.4h0M525.3 157.5h0M518.5 162.7h0M526 163.9h0M534.5 143.2h0M534.4 152.2h0M535.3 159.1h0M514.2 156.1h0M513.8 41h0M534.9 163h0M532.9 120.2h0M533.9 139.4h0M529.6 88.8h0M532.8 132.5h0M536.4 162.1h0M530.5 129.7h0M533.7 161h0M531.5 116.9h0M535.2 148.3h0M529.5 161.1h0M534.5 140.4h0M536.1 163.4h0M532.6 146.5h0M535.2 158.7h0M530 146.3h0M530.6 132h0M536 160.6h0M533 138.9h0M535.2 139.7h0M532.8 132.1h0M523.7 128.5h0M535.9 151.6h0M529.4 117.3h0M532.1 124.3h0M528.1 161h0M535.3 156h0M532 155.9h0M533.1 165h0M532.7 153.4h0M530.6 162.5h0M525.3 131.5h0M530.4 157.4h0M529.7 155.5h0M526.9 163.8h0M527.6 104h0M532.4 150.8h0M535.8 149.8h0M529 97.2h0M535.9 161.1h0M528.4 159.3h0M536 164.5h0M534.6 141.3h0M532.3 164.7h0M532.4 148h0M535 141h0M527.1 124.7h0M535.9 164.1h0M532.7 151.6h0M535.7 158.6h0M535.4 154.7h0M526.6 147.3h0M532.4 161.9h0M534.6 137.9h0M519.8 130.4h0M533.6 155.3h0M530.3 128.8h0M522.9 155.1h0M533.2 135.3h0M534.4 159.6h0M517.5 153.7h0M523.4 132.7h0M525.9 131.6h0M533.1 164h0M516.6 102.3h0M533.8 159.4h0M533.6 145.2h0M535.6 150.1h0M532.8 153.8h0M535.8 164.6h0M522.3 95.8h0M526.7 110.3h0M524.7 132.2h0M533.3 122.3h0M534.3 144.7h0M534.1 142.6h0M523.9 149.6h0M534.4 145.8h0M533.3 150.5h0M529.6 105.3h0M531.4 157.8h0M532.2 162.5h0M527.3 103.1h0M533.4 158.9h0M535.2 149.9h0M535.8 162.4h0M533.8 158.2h0M535 158.3h0M532.8 163.2h0M529.3 128.8h0M531 148.3h0M530.6 160.6h0M532.3 152.8h0M532.8 146.3h0M534.9 157.7h0M533 160.1h0M532 155.5h0M534.5 164.8h0M532.5 125.8h0M532.7 148.9h0M515.8 158.4h0M529.4 158.1h0M536.1 161.6h0M530.7 124.4h0M534.2 163.8h0M529.9 153.6h0M535.3 162.8h0M523.8 101.6h0M534.5 161.7h0M530.9 156.4h0M526.9 146.1h0M531.2 130.9h0M529.1 138.5h0M532.3 136.8h0M529.3 134.6h0M532 116.3h0M533.7 124.5h0M531.1 136.3h0M520.6 151.4h0M533.3 148.2h0M525.4 134.7h0M533.6 146.5h0M533.2 153.1h0M533.9 139.6h0M532.4 155.2h0M534.3 155.4h0M526.2 134.4h0M533.2 151.3h0M534.7 161h0M532.4 162h0M535.4 147.8h0M530.5 115h0M524.6 128.3h0M529.7 101.9h0M524.8 154h0M536.3 164.8h0M532.7 148.6h0M524.7 114.9h0M506.1 149.7h0M532.6 150.6h0M533.3 142.2h0M532 156.3h0M522.4 156.5h0M532.1 142.7h0M534.3 163h0M532.3 154.9h0M526 148.1h0M527.1 98.9h0M531.5 153.6h0M525.6 55h0M528 150.1h0M534.6 161.3h0M520.4 89h0M535.4 150.8h0M527.1 120.5h0M513 131h0M530.5 121.6h0M534.8 161.7h0M532.7 150.9h0M535.4 160.9h0M531.4 145.3h0M512.5 156.4h0M535.5 145h0M528.9 154.6h0M530.8 157.8h0M534.8 165h0M529.6 128.5h0M534.6 143.2h0M532.2 151.4h0M531.4 158.9h0M508.7 150h0M533.4 148.1h0M535.6 162.5h0M534.8 136.8h0M535.6 163h0M527.9 150.4h0M528.1 146.2h0M536.4 163.8h0M533.4 135.9h0M533.5 140.1h0M534.9 161.4h0M525.5 163h0M533.8 147.8h0M533.8 153.2h0M526.2 163.9h0M520.9 147.7h0M531.6 153.6h0M536.1 159.4h0M522 112.1h0M525.5 157.6h0M532.9 131.5h0M520.8 146.8h0M522 151.5h0M534 159.5h0M534.3 139.9h0M526.5 157.7h0M528.7 151.9h0M535.4 159.5h0M535.2 156.3h0M528.3 94.5h0M535.3 148.7h0M533.6 149.9h0M535.8 154.8h0M528.3 162.5h0M534.9 156.5h0M534.8 160.9h0M536.2 159.7h0M533.7 143.4h0M530.7 161.7h0M535 163.1h0M533.6 129.3h0M527.6 153.4h0M534 132.7h0M530.2 156.4h0M521.3 155.7h0M522.3 160.4h0M534.8 151.1h0M535.4 153.1h0M534.1 140.8h0M528.5 119.5h0M534.9 156h0M534.7 146.5h0M533 124.3h0M532.3 150.8h0M529.4 158.8h0M531.1 155.4h0M534.1 148.4h0M535.7 155.3h0M527.5 161.2h0M531.2 157.4h0M532.6 162.8h0M532.9 156.2h0M535.9 158.1h0M535 157.7h0M530.6 162.4h0M533.9 158.5h0M525 117.6h0M523.1 122.6h0M534.9 162.2h0M531.2 164.5h0M533.6 143.5h0M531.1 154.5h0M534.2 141.2h0M531.9 127.9h0M534.8 145.4h0M525.1 162.6h0M529.6 138.8h0M536.3 164.2h0M535.4 161.6h0M534 157.9h0M534.8 164.3h0M534.8 144.9h0M498.4 47.6h0M500.3 47.6h0M509.6 55.7h0M497.2 118.8h0M502.8 141.6h0M514.6 30.7h0M518.3 24.1h0M522.1 29.3h0M519.6 38.8h0M517.1 53.5h0M523.3 49.8h0M527 18.3h0M512.1 93.9h0M510.2 104.9h0M515.2 75.5h0M519.6 70.4h0M511.5 42.5h0M460.9 136.4h0M460.9 143.3h0M460.9 154h0M460.9 165h0M460.9 131.8h0M460.9 164.4h0M460.9 93.5h0M460.9 161.1h0M460.9 152.3h0M460.9 150.3h0M460.9 147h0M460.9 140.2h0M460.9 130.7h0M460.9 163.6h0M460.9 103.6h0M460.9 88.8h0M460.9 130.6h0M460.9 138.9h0M460.9 153.8h0M460.9 156.8h0M460.9 119.9h0M460.9 147.9h0M460.9 131.2h0M460.9 156.2h0M460.9 91.8h0M460.9 161h0M460.9 159.3h0M460.9 161.8h0M460.9 162.9h0M460.9 134.1h0M460.9 161.2h0M460.9 157.9h0M460.9 107.5h0M460.9 150.8h0M460.9 156h0M460.9 151.9h0M460.9 152.8h0M460.9 154.3h0M460.9 157.6h0M460.9 130.6h0M460.9 160.4h0M460.9 161.7h0M460.9 160.5h0M460.9 153.7h0M460.9 163.2h0M460.9 157.5h0M460.9 162.3h0M460.9 164.9h0M460.9 85.6h0M460.9 153.5h0M460.9 95.9h0M460.9 157.2h0M460.9 162h0M460.9 164.9h0M460.9 91.4h0M460.9 128.3h0M460.9 143.4h0M460.9 162.8h0M460.9 152.6h0M460.9 142.4h0M460.9 154.8h0M460.9 128.5h0M460.9 152.4h0M460.9 132.6h0M460.9 162.1h0M460.9 141.9h0M460.9 156.2h0M460.9 151.6h0M460.9 164.4h0M460.9 154.9h0" stroke="#1a1aff" stroke-width="1.3" stroke-linecap="round" fill="none"/>
<path d="M560.5 129.8h0M573.5 116.6h0M555.9 151h0M552.9 161.5h0M551.5 147.2h0M552.4 141.1h0M576.7 153h0M550.4 163.1h0M552.2 153.2h0M551.3 138.7h0M565.7 127.3h0M555.6 133.3h0M558.4 158.2h0M554.8 150.2h0M554.7 156.6h0M563 142.5h0M554.8 116.9h0M554.7 157.9h0M554 148h0M550.9 160.6h0M555 157h0M578.4 92.1h0M577.9 123.8h0M564.7 97.9h0M552.5 130.8h0M557.5 141.9h0M556.7 157.8h0M561.3 102.3h0M553.5 143.6h0M566.6 156.4h0M551.6 164.5h0M555.2 141.7h0M558.2 163.2h0M557 155.5h0M556.2 154h0M554.6 148h0M551.6 162.6h0M558.7 119.7h0M564.9 162.6h0M551.1 159h0M552.9 149.5h0M556.7 151.2h0M556.6 159.8h0M555.5 162.6h0M551.5 146.8h0M551.1 154.3h0M565.4 153.2h0M560.2 148.6h0M552.3 136h0M569.2 69h0M563.4 162.8h0M551.9 154.8h0M563.3 98.9h0M552.7 134.4h0M552.1 134.3h0M553.8 159.5h0M556.8 164.7h0M552.9 160.1h0M555 139.8h0M559.9 119.9h0M558.6 122.8h0M567.9 113.8h0M560.4 161.3h0M561.2 156.5h0M563.1 141.6h0M553.6 162.4h0M571.6 137.6h0M551.6 138.8h0M551.7 146h0M562.9 148.7h0M569.5 162.6h0M553.1 141.9h0M554.7 160.6h0M558.4 127.6h0M550.3 162.6h0M562.2 162.7h0M556.3 160.8h0M559 158h0M551.7 155.2h0M558.3 122.3h0M562.4 141h0M555.1 104h0M551.7 156.4h0M566.1 150.7h0M552.2 131.9h0M563 160.9h0M554.5 141.7h0M551.9 151.8h0M555.9 126.7h0M559.4 122.6h0M553.1 163.4h0M567 160h0M551.2 146.8h0M553.6 161.2h0M557.1 152.1h0M553.8 155h0M556.5 164.9h0M550.6 156.7h0M582.7 152.4h0M551.3 164.1h0M553.3 142.2h0M555.5 158.5h0M556.6 158.8h0M574.2 149.6h0M557.8 65.4h0M561.8 148.2h0M563.1 122.7h0M557.9 144.5h0M552.9 155.8h0M566 132.5h0M565.3 107.7h0M561.1 157.6h0M556.2 137.4h0M553.9 144.3h0M554.7 148.6h0M553.2 163.8h0M583.7 157h0M554.1 151.6h0M552.3 159.3h0M551.5 156.2h0M565.3 164.9h0M555 152.7h0M553.5 147.8h0M550.7 161.3h0M553.1 157.7h0M556.7 138.4h0M558.4 108.1h0M560 112.8h0M551.6 163.3h0M583.5 147.2h0M561.6 156h0M565.7 153.6h0M555.1 163.6h0M555.7 117.9h0M550.5 158.9h0M552.5 161.4h0M552.9 140h0M552.2 154.6h0M565.8 146.1h0M552.5 143.6h0M573.9 137.9h0M551.5 146.2h0M566.3 131h0M551.5 156.5h0M556 160.8h0M560 122.2h0M555.7 112.4h0M560.7 156.9h0M554.6 143.5h0M553.9 141.7h0M554.1 163.8h0M557.4 164.1h0M555.5 156.7h0M553.1 146.3h0M550.7 152.3h0M559.8 111.7h0M557.5 75h0M560.6 145.5h0M551.2 156.9h0M551.4 161.6h0M552.2 135.1h0M555.9 130.5h0M557.4 149.2h0M558.8 148.4h0M553.9 146.1h0M553.4 137.3h0M561.1 139.5h0M554.2 134.3h0M577.6 134.6h0M553 152.7h0M571.9 149.8h0M550.2 162.2h0M558.6 151.8h0M554.7 134.5h0M559.6 71.4h0M552.1 136h0M551.1 164.5h0M555.3 163.8h0M552.3 148.4h0M558.9 107.3h0M551.7 161.7h0M568.7 137.6h0M550.4 161.4h0M553.6 134.1h0M563.1 82.1h0M553.9 144.3h0M556.2 131.9h0M567.9 157h0M560 162.7h0M557.8 163.7h0M565.4 154.5h0M556.3 163.8h0M569.3 154.2h0M564 105.5h0M552.4 159.8h0M554.6 158.8h0M552 159.6h0M558.6 135.8h0M589 157.8h0M556.6 160h0M565 161.6h0M555 123.2h0M563.3 136.4h0M553.4 158.2h0M567.2 151.4h0M558.8 161.4h0M555.4 146.3h0M566.9 147.3h0M566.3 160.2h0M561.8 155.9h0M554.2 124.2h0M588.8 124.1h0M550.6 157.8h0M577.5 162.6h0M568.2 164.9h0M560.1 161.7h0M551.5 162.9h0M551.8 141.5h0M569.1 156.5h0M565.8 139.2h0M556.8 85h0M562 159.6h0M551.4 141h0M552.7 150.6h0M551.4 153.5h0M585 164.6h0M566.1 157.2h0M555.2 162.4h0M554.4 162.1h0M558.9 161h0M560.2 161.8h0M551.6 150.8h0M555.6 156.1h0M556.9 113.5h0M575.8 160.1h0M562.1 120.9h0M551.8 158.5h0M550.9 158.7h0M555.4 164.2h0M556.6 154.3h0M550.5 155.8h0M558.4 141.1h0M556.7 148.9h0M578.8 141h0M561.6 122.5h0M553.4 154.6h0M577.5 153.9h0M554.1 155h0M551.7 154.2h0M557.9 33.3h0M570.4 145.8h0M557.4 159h0M552.5 155.3h0M551.2 160.5h0M563 127h0M554 115.9h0M553.8 140.7h0M556.5 143.7h0M577 157.3h0M560.3 165h0M557.5 125.6h0M590.1 146.6h0M557.7 159.6h0M554.6 137.1h0M554.6 139.5h0M557.8 149.7h0M553.8 141.8h0M556.3 144.7h0M557.4 159.9h0M568.2 158.7h0M560.2 151.9h0M555.6 149.9h0M551.4 159.9h0M559.4 111.2h0M556.3 149.8h0M554 130.6h0M563.1 161.2h0M558.3 152.4h0M567.6 128.9h0M553.2 123.5h0M563.8 155.2h0M553 130.1h0M552.4 161.6h0M553.4 162.8h0M557 131.6h0M551.3 152.7h0M555.2 140.7h0M562.6 151.7h0M552.6 135.8h0M554.2 141.6h0M552.8 149.9h0M553.6 155.5h0M550.6 155.2h0M556.6 160.5h0M551.6 163.8h0M553.4 139h0M552.5 157h0M553 128.1h0M564.4 144.3h0M554.4 160.4h0M558.4 132.8h0M550.8 155.5h0M554 153h0M553.6 139.4h0M558.3 154.3h0M555 130.8h0M557 155.1h0M555.6 111.9h0M567.7 92h0M558.7 155.5h0M551 156.8h0M554.8 136.1h0M555.9 149.7h0M563.2 117.5h0M556.8 164.5h0M555.3 152.3h0M556.1 127.4h0M567.1 151.9h0M555.6 153.1h0M563.7 150.3h0M560.3 142.2h0M550.8 154.5h0M556.6 141.7h0M561.7 134.9h0M552 162.5h0M562.8 163.4h0M550.8 162.9h0M557.1 136.3h0M558.6 163.9h0M555.7 139.5h0M558.9 163.9h0M557.1 153.9h0M573.7 36.3h0M554 122.8h0M555.9 156.7h0M583.5 164.9h0M552.6 158.5h0M552.6 157.3h0M558.3 124.8h0M554.8 150.4h0M552.8 164h0M563.9 123.6h0M554.7 125.1h0M550.7 160.4h0M554.3 149.2h0M555.6 152.2h0M554.3 147h0M553.5 131.8h0M559.5 113.3h0M552.9 164h0M554.7 149.4h0M553.7 148h0M562.2 158.5h0M559.6 158h0M558.1 131.7h0M571 152.6h0M566.3 153h0M554.3 163.8h0M551.3 144.1h0M553.3 124.3h0M552.4 146.4h0M559.7 112.5h0M556.7 131.9h0M558.8 142h0M552.1 157.9h0M553.5 127.6h0M555.5 113.7h0M550.9 162.9h0M572.4 133.5h0M558.6 154.1h0M568 158.9h0M552.3 141.3h0M559 163.9h0M563.6 164.2h0M552.3 157.9h0M553.7 147.1h0M552.1 148.2h0M556.5 115.1h0M553.6 127.2h0M578.7 132h0M550.8 154.8h0M558.1 155.2h0M556.2 159.9h0M554.8 163h0M555.1 138.3h0M551.9 141.7h0M553.2 128.8h0M561.6 107.4h0M553.6 158h0M556.1 136.5h0M555 110.5h0M565.6 151.4h0M556.7 146.3h0M551.3 163.2h0M567 158.6h0M554.3 126.7h0M554.4 111.9h0M576.4 146.3h0M572 156.4h0M551.4 143.1h0M554.9 156.7h0M560.4 159.2h0M561.8 161h0M550.9 157.8h0M551.6 148.2h0M562.4 148.6h0M555.5 146.5h0M555.5 164.4h0M557.9 163h0M556.6 162.1h0M554 156.1h0M552.3 142.7h0M571.4 161.2h0M564.2 156.8h0M557.4 122.6h0M550.9 161.7h0M553.9 121.6h0M556.4 151h0M554.9 162.5h0M555.9 161.4h0M554.1 150.5h0M554.1 160.5h0M551.3 160.4h0M565.6 159.4h0M567.2 150.7h0M571.5 164.7h0M562.4 151.3h0M559.6 147.7h0M560.6 159.7h0M552.5 161.6h0M553.8 164.4h0M553.3 150.1h0M553.9 119.6h0M552.8 147.3h0M562.3 146.5h0M551.6 139.6h0M557.1 159.3h0M557 81.4h0M559.7 145.3h0M555 130.4h0M556.3 130.9h0M554.1 112.9h0M559.6 107.1h0M551.2 154.3h0M560.2 159.3h0M552.2 141.7h0M551.6 156.4h0M552.1 160.5h0M578.3 156.8h0M572.4 43.6h0M555.8 151.6h0M568 134h0M558.4 136.4h0M557.6 160.5h0M563.1 126.6h0M559.6 163.1h0M551.8 156.2h0M566.3 95.7h0M552.4 136.9h0M571.2 128.8h0M563 116.7h0M563.4 128.3h0M555.1 146.7h0M562.7 129.2h0M555.3 123h0M562.7 98.4h0M556 105.1h0M570.5 94h0M563.9 159.1h0M551.9 159.6h0M552.6 152.5h0M568.5 151.1h0M559.6 141.3h0M561.9 154.8h0M559.7 132.6h0M571 106.6h0M551.2 154.3h0M563.4 143.3h0M557.2 156.5h0M563.2 127.9h0M555.1 165h0M550.9 164.7h0M555.8 130.7h0M555.5 146h0M552.2 156.7h0M564.3 156.1h0M553.3 145.2h0M552.5 163.2h0M555.2 140.2h0M562.3 142.8h0M558.7 162.4h0M563 164.2h0M552.6 160.9h0M559.6 100h0M566.7 159.8h0M567.7 145.7h0M555.7 154.8h0M561.9 101h0M559 73.2h0M553.5 128.6h0M550.7 149.7h0M571.9 161.1h0M563 152.6h0M553.6 159.1h0M556.1 162.9h0M557.7 124.3h0M570.2 155.3h0M560.9 119h0M557.4 163.4h0M574.2 153h0M558.5 155.8h0M554.2 144.5h0M559.2 149.9h0M558.4 116.2h0M578.4 155.8h0M563.5 163.9h0M556.7 141.4h0M561 152.9h0M562.2 119.5h0M551.7 136.6h0M551.5 157h0M575.9 102.2h0M556.8 161.8h0M551.2 147.4h0M560.8 154.8h0M553.3 144h0M553.9 135.5h0M554.9 148.9h0M566.2 86.5h0M559.7 131.5h0M575.1 155.2h0M559.2 139.6h0M551.7 158.4h0M563.9 147.5h0M554.8 132.6h0M555.6 162h0M554.2 121.9h0M552.6 137.5h0M550.8 157.4h0M554 157.8h0M586.5 95h0M553 160.8h0M556.8 105.9h0M554.7 157.1h0M552.4 162.7h0M554.1 154.8h0M558.7 97h0M568.1 160.4h0M564.1 152.8h0M561.3 144.2h0M551.6 157.3h0M555.8 136h0M559.1 148.2h0M553.7 136.3h0M569.1 155.8h0M553.3 149.6h0M553 144.6h0M551.9 134.7h0M558 129h0M571.4 156.1h0M552.4 158.7h0M556 163.6h0M559.2 136.3h0M562.9 154.1h0M552.9 162.6h0M574.4 143.8h0M559 144.4h0M555.1 134.4h0M567.3 107.1h0M554.2 156.5h0M554.9 131.4h0M565.6 160.8h0M556.3 149.5h0M566.9 142.3h0M553.3 162.1h0M554.1 163.7h0M565 150.7h0M557 142.4h0M556.9 154.4h0M564.2 158.5h0M564.3 133.1h0M558.5 161.7h0M556.2 136.2h0M569.1 118.1h0M563.1 137.1h0M565.5 143.5h0M559.3 162.2h0M557.7 140.1h0M550.9 158.4h0M563.9 146.1h0M552.1 158.5h0M551 159.8h0M576.3 141.9h0M555 131.8h0M551.7 140.4h0M555.1 127.6h0M557.5 165h0M552.6 162h0M554.5 163.8h0M563.1 148.4h0M563.2 164.2h0M552 162.7h0M553.8 144.7h0M556.7 156.8h0M562 160h0M563.9 160.2h0M557.3 131.1h0M561.3 164.4h0M555.3 164.5h0M551 153.7h0M559.8 144.6h0M554.7 147h0M557.3 150.3h0M565.4 159.8h0M572.9 53.1h0M559.4 98.2h0M557.6 77h0M551.7 151.7h0M559.2 152.6h0M555.4 139.7h0M552 156.5h0M553 154.5h0M560.2 160.6h0M555 150.1h0M559.3 160.5h0M552.6 160.6h0M559.8 148.2h0M569 90.8h0M578.5 104.2h0M559.9 138.7h0M551.8 163.7h0M564.9 164.8h0M558.1 138.7h0M553.6 158.8h0M557.7 161.4h0M560.8 67.1h0M551.5 164.1h0M567.6 156h0M556.1 131.5h0M551 162.8h0M561.4 161.6h0M585.5 152h0M564.6 115.2h0M563.5 151.8h0M551 162.2h0M556.1 148h0M552.4 160.2h0M567.9 164.6h0M571.1 139.6h0M561.9 84.1h0M554.6 138h0M564.7 130.7h0M550.3 162.1h0M556.8 160.1h0M550.6 155.3h0M562.9 128.6h0M551 152.3h0M558.5 119.9h0M553 163.5h0M565.8 144.9h0M558.3 151.4h0M552.3 160.3h0M556.9 116.5h0M556.8 162.8h0M551.8 162.3h0M557.2 152.5h0M559.4 144.3h0M551.1 153.2h0M551.6 138.6h0M554.5 152h0M559.7 142.1h0M558.1 159.4h0M555.5 140.9h0M568.1 161.9h0M551.4 146.3h0M582.6 159.5h0M554 159.7h0M563.7 133.2h0M560.2 144.4h0M550.8 164.3h0M571.5 88.3h0M550.5 164.3h0M570.2 159.4h0M558.6 160h0M561.3 110.3h0M556.1 113.3h0M550.3 161.6h0M552.2 136h0M567.7 90.7h0M562.5 160.8h0M555.6 161.4h0M561.7 162.8h0M570.2 119.8h0M564.3 165h0M563.7 148.4h0M557.9 150.7h0M562.9 146.5h0M550.5 163.4h0M553.4 148.9h0M550.6 154.7h0M551.6 137h0M563.7 128.7h0M551.6 152.5h0M552.6 143.5h0M551.4 153.5h0M563.7 88h0M551.2 156.1h0M564.2 138.1h0M553.3 126.3h0M553.2 155.6h0M552.6 135.5h0M579.6 145.9h0M551.7 135h0M551 163.5h0M557.4 140.8h0M555.3 150h0M557.6 154.3h0M568 143.6h0M562.2 137.9h0M566.2 114.9h0M551.4 139.1h0M564.1 141.6h0M566.3 153.5h0M571.6 161h0M559.7 153.1h0M553 159.1h0M553.4 156.3h0M554.5 163h0M566.4 83.7h0M564.2 109.7h0M587.7 127.8h0M553.6 136.3h0M554.3 159.2h0M552 164.6h0M570.6 120.4h0M561.4 156.9h0M566.8 134.4h0M557.1 132.5h0M563.2 162.8h0M557.8 157.3h0M556.2 155.7h0M557.5 95.8h0M558.6 149.5h0M571.5 149.2h0M568.8 154.3h0M574.6 141h0M551.9 163.1h0M568.1 158.1h0M552.3 164.8h0M582.5 139.2h0M554.5 161.1h0M559.2 141.2h0M561 136.9h0M552.5 159.2h0M558.8 164.5h0M552.5 160.2h0M565.4 96.6h0M558.9 146.7h0M559.8 146.3h0M550.9 157.6h0M550.2 163.6h0M551.6 155.8h0M555.2 162.6h0M566.9 93.3h0M561.3 158.5h0M551 161h0M554.3 157.6h0M555.2 141h0M552 138.3h0M557.2 109.7h0M552.5 128.4h0M554 128.8h0M563.8 125.4h0M553.3 142.2h0M551.6 164.9h0M554.8 116.7h0M557.1 142.9h0M552.4 142.8h0M551 161.9h0M561.1 81.7h0M556.8 143.4h0M550.8 159.9h0M564.3 164.8h0M574.8 162.2h0M560 155.8h0M561.8 162h0M553.7 159.1h0M551.6 149.8h0M562.2 159.2h0M553.9 158.2h0M553.3 135.3h0M552.1 160.6h0M553.9 155.1h0M555.4 144h0M553.3 123.2h0M563.5 142.7h0M550.5 159.6h0M551.5 153.2h0M559.9 152.4h0M551.1 163h0M552.1 151.6h0M554.6 159.7h0M550.7 162.5h0M555.2 155.8h0M562.1 108.4h0M552 163.5h0M557 137h0M575.4 123.1h0M553.5 125h0M561.7 105.9h0M551.7 159.4h0M554.4 124h0M552.4 163.3h0M558.3 112.1h0M551.8 138h0M553.5 152.7h0M558.4 160.3h0M551.4 155.8h0M562.9 79.8h0M550.3 161h0M556 143.3h0M554.8 164.5h0M556.6 137.3h0M555.5 159.6h0M558.8 146h0M562.3 161.8h0M567.4 105.2h0M555.8 125h0M554.9 117.2h0M557.1 159.8h0M554.1 117.4h0M550.5 160h0M551.7 153.2h0M560.6 160.7h0M571.8 147.1h0M559 154.5h0M572.2 164.8h0M555.1 159.6h0M572.8 150.3h0M586.6 151.1h0M552.6 145.1h0M553.9 128.2h0M552.5 152.5h0M559.3 98.3h0M553.7 154.3h0M551.2 142.4h0M551.8 155.4h0M552.3 128.9h0M553.1 145.8h0M556.8 152.6h0M552.2 139.5h0M551.3 159.4h0M557.1 98.8h0M555.7 162h0M567.1 147.2h0M552.1 163.9h0M556.8 161.3h0M554.5 152.7h0M560.7 120h0M574.3 124.6h0M571.6 158.6h0M550.9 154.3h0M554.6 114.4h0M552.6 164.7h0M575.8 158h0M556.6 123.1h0M564.9 149.6h0M559.3 131.2h0M551.6 150.3h0M558.3 159.3h0M562.9 146.9h0M575.9 118h0M550.8 160.7h0M559.2 118.2h0M559 160.9h0M552.3 159h0M556 155.7h0M551.6 141.8h0M558.1 137.3h0M559 151.9h0M552 132h0M559.1 151.8h0M558.3 139.7h0M574 161h0M553.6 133.4h0M574.2 153.5h0M554.2 160.3h0M577.1 98.1h0M560.2 159.6h0M558.6 155.9h0M552.5 135.1h0M552.1 159.9h0M550.6 158.7h0M554.1 162.1h0M551.2 153.8h0M572.2 147.1h0M554.1 147.4h0M555.1 140h0M555.1 161.1h0M558.5 164.7h0M553.7 161.5h0M569.3 97.6h0M559.4 128h0M559.3 144.4h0M558 95.4h0M554 135.2h0M563.2 159h0M565.1 146.2h0M559.1 122.3h0M550.4 160.5h0M560.4 149.3h0M550.9 158.5h0M551.5 165h0M551.2 140.6h0M552.6 159.7h0M581 139.5h0M551 164.7h0M578.4 109h0M553.2 161.8h0M553.6 149.9h0M555.4 154h0M550.7 158.9h0M551.4 163.3h0M557.4 163.1h0M553.3 140.5h0M560.8 132.8h0M555.5 156.5h0M570 160.8h0M551.2 148.2h0M559 161.6h0M559.9 155.1h0M562.2 159.7h0M552.6 131.8h0M552.5 146.9h0M562.4 139.8h0M553.6 132.9h0M558.3 163h0M551.9 147.9h0M556.8 160.7h0M557.7 162.7h0M552.5 159.4h0M556.2 153.7h0M551.5 138.6h0M553 138.6h0M558 158h0M557.7 140.9h0M555.1 117.4h0M558.5 157.4h0M551.6 158.8h0M561.3 159.8h0M560.9 129h0M570.2 99.6h0M553.2 157.4h0M551.6 138.8h0M551.6 145.7h0M555.5 164h0M570.2 161.7h0M557.3 121.9h0M551.2 160.5h0M556.2 150.5h0M559.9 155.8h0M561.9 149.6h0M550.7 162.8h0M555.4 155h0M558.6 159.1h0M553.1 159.9h0M560 151.7h0M554.8 134.8h0M570.2 152.9h0M561 109.2h0M554.7 162.8h0M553.2 144.2h0M579.7 164.3h0M554.7 115.6h0M557.8 152.2h0M550.9 157.7h0M561.5 136.5h0M551.3 153.2h0M551.3 154.8h0M556.3 97h0M561.3 158.1h0M551 162.1h0M551.4 163.6h0M564.1 149.5h0M551.6 161.3h0M555.4 135.3h0M551.4 156.6h0M576.9 159.3h0M552.4 162.5h0M566.6 137.3h0M558 116.8h0M564 100.7h0M555 158.1h0M560.3 139.2h0M551.8 162.2h0M556.5 99.8h0M554.9 130.6h0M552.5 159.2h0M585.4 152h0M564.6 161.8h0M551.8 157.1h0M554.2 137h0M554.3 160.8h0M565.8 129.6h0M550.9 147.5h0M557.9 135.4h0M574.3 117.9h0M564.5 156.9h0M554.3 129.9h0M554 155.7h0M554 156.1h0M552.1 162.7h0M557.3 115.7h0M565.9 144.3h0M553.4 136.1h0M565.1 113.3h0M569.4 69h0M562.9 136.2h0M558.3 159.1h0M564.2 155.2h0M556 162.1h0M563.3 156.6h0M564.3 156.4h0M567 126.4h0M571 162h0M559.1 137h0M551.4 143.3h0M558.3 123.1h0M553.7 152.6h0M562.2 133.7h0M554.6 123.2h0M552.6 156.5h0M553.1 162.9h0M562 164.5h0M550.8 159.8h0M560.2 163.6h0M554.9 160.5h0M562.6 154.5h0M558.7 101.7h0M566.4 144.5h0M567.8 152h0M553.8 137.9h0M558.8 122.5h0M556.8 162.8h0M557.3 128.7h0M554.7 151.5h0M560.6 121.4h0M553.6 160.3h0M574.2 155.8h0M552.1 140.6h0M554.1 114.6h0M555.1 146.7h0M555.1 139.1h0M555.7 163.1h0M562.8 129.8h0M552.3 156h0M562.5 137h0M566.3 160h0M562.8 64.7h0M559.7 155.2h0M555.8 110.5h0M553.4 157.7h0M552.7 138h0M556 148.8h0M552.1 142.4h0M562.7 148.1h0M568.2 160.9h0M561.4 148.6h0M556 123.4h0M555.7 112.1h0M555.3 164.6h0M569.3 118h0M562 101.3h0M560 109.6h0M557.6 161.9h0M555.7 131.6h0M553.1 146.1h0M554.4 158.4h0M555.4 150.3h0M550.2 163.1h0M559.9 156.5h0M553.3 136.7h0M555.7 159h0M557.1 161.1h0M555.1 116.9h0M560.4 147h0M559.9 136.6h0M553.4 139.6h0M570.1 127.6h0M571.6 163.9h0M551.3 153h0M562 163.6h0M552.2 141.8h0M558.2 152.4h0M561.6 41h0M553.5 135.2h0M551.6 160.5h0M557.7 154.2h0M551.7 157.6h0M550.9 160h0M553.1 160.6h0M552.2 150.6h0M555 151.6h0M562.4 90.8h0M560.8 105.5h0M556.9 160.5h0M551.6 161.8h0M559.1 163.5h0M560.8 95h0M554.6 156.1h0M559.2 156.1h0M551.7 154.8h0M558.6 124h0M564.2 164.9h0M554.3 138.3h0M568.3 144.6h0M554.8 154.5h0M556.4 157.8h0M560.2 142.7h0M556.5 103.8h0M564.7 155.7h0M557.9 132.9h0M554 141.8h0M562.3 105.5h0M552 154.5h0M567.2 162.5h0M552.1 131.9h0M555.3 157h0M554.1 151h0M556.3 118.7h0M570.5 149.5h0M555.4 144.1h0M554.1 156.7h0M562.4 145.8h0M553.8 158.9h0M553.9 155h0M559.1 114.9h0M553.4 158.4h0M553.4 129.6h0M551.3 141h0M550.7 160.6h0M553.1 131.4h0M550.7 159.7h0M560.2 158.8h0M567.7 138.9h0M562.4 104.7h0M554.7 112.6h0M558 111.8h0M560.5 160.7h0M556.1 124.9h0M565.5 163h0M557.7 136.3h0M556.7 87.7h0M551.1 163.9h0M559.3 164.6h0M551.8 144.6h0M551.7 161.4h0M559.3 145.7h0M560.2 93.3h0M561.8 85.7h0M552.7 154.9h0M577.7 159.6h0M569 56.6h0M551.7 161.1h0M553.4 161.7h0M551.7 137.6h0M559.3 149.5h0M554.4 164.4h0M557.7 132.9h0M566.5 152.7h0M554 146.2h0M571.9 154.7h0M569.6 124.7h0M552 148.1h0M553.8 161.1h0M551.2 140.9h0M562.5 131.8h0M550.8 150.2h0M555.6 132.2h0M556.9 142.3h0M554.9 138.3h0M584.6 98.9h0M560.8 110.7h0M553.9 157.2h0M567.8 158.6h0M562.5 132.8h0M584.3 129.7h0M553.8 141.1h0M553.6 135.9h0M552.2 145.7h0M557.3 125h0M569.5 158.4h0M570 163.3h0M552.6 136h0M557.4 135.6h0M559.7 116.2h0M570.8 153.6h0M561.3 163.2h0M552.6 162.8h0M565.5 162.6h0M560.3 153.1h0M560.1 159h0M551.7 143.6h0M560.2 151.1h0M558.2 160.1h0M553.8 158.4h0M573.6 113.2h0M563 38.3h0M563.2 147.6h0M555.7 135.9h0M556.3 124.1h0M561 103.5h0M560.5 162.5h0M558.7 161.8h0M583.3 163.9h0M560.8 149.1h0M557.7 162.2h0M552.6 155.3h0M552.3 130.4h0M551.3 151.7h0M567.9 125.9h0M554.7 164.3h0M560.1 152h0M554.1 138.2h0M555.8 109.6h0M562.8 162h0M551.7 162.4h0M553.8 150.8h0M570 161.4h0M562.1 151.9h0M568.5 159.1h0M568 159.9h0M577.4 145.6h0M558.4 134.7h0M565.2 149.4h0M551.4 153h0M565 114.7h0M560.5 141.5h0M554.9 159.6h0M574.6 129.5h0M555.3 112.3h0M556.7 141.4h0M551.9 154.4h0M554.9 162h0M553 151.1h0M556.5 155.6h0M557.6 135.6h0M566.4 161.4h0M574.5 155.6h0M558 82.9h0M576.3 147.1h0M556.4 155.1h0M550.6 157.3h0M551.2 160.4h0M557.8 158.2h0M572.9 148h0M554.2 141.3h0M564.4 103.7h0M565.6 149h0M554.1 142.3h0M553.6 146h0M558.7 93.5h0M556.8 90.9h0M556.1 164.9h0M555.5 160.3h0M563.7 162.5h0M559 142.3h0M587.3 111.4h0M559.7 141.8h0M550.4 165h0M576.5 153.6h0M556.7 157.3h0M554.1 164.9h0M559.6 117.2h0M552.3 129.3h0M551.7 160.4h0M553.1 128.4h0M556.5 109.8h0M558.1 121.4h0M575.7 157h0M559.5 154.4h0M563.4 163.6h0M557.6 83.4h0M553.6 136.9h0M553.6 161.8h0M572.1 142.8h0M558.2 145h0M559.9 161.4h0M554.1 148.6h0M555.5 117.7h0M551.5 161.9h0M556.8 161.7h0M553.1 131.9h0M557.1 150.7h0M554.8 148.2h0M550.9 148.9h0M554.2 163.8h0M560.9 159.5h0M563.3 159.4h0M551 159.4h0M554.3 151.7h0M561.2 156.7h0M558.6 159.9h0M556.5 128.1h0M569.9 150.7h0M552.4 146h0M550.7 163.6h0M551.1 156.8h0M554.8 143.6h0M555.7 157.5h0M557.1 108.4h0M552.9 161.6h0M568.4 157h0M555 139.9h0M550.6 161.3h0M564.2 162.4h0M552.2 143.6h0M551.4 144.9h0M553.8 150.5h0M560.3 162.8h0M556.1 139.1h0M558.5 161.3h0M558.7 153.4h0M567.5 163.1h0M551.9 165h0M552.2 154.6h0M558.8 163.2h0M561.4 60.4h0M558.6 158.7h0M554.1 159.9h0M555 141.1h0M550.7 161.6h0M585.6 149h0M554.7 113.2h0M555.7 150.7h0M558.5 160.6h0M563 151h0M570.6 158h0M556.5 130.4h0M555.1 161.9h0M558.8 162.3h0M557.1 140.5h0M556.7 88.1h0M562.3 139.2h0M553.1 162.6h0M556.6 163.9h0M554.2 138.7h0M554.3 140.6h0M553.4 139.5h0M561.8 86.5h0M550.8 165h0M564.9 138.4h0M552.2 144.2h0M561.6 122.8h0M553.7 162.5h0M551.1 142.2h0M553.3 164.2h0M568.3 157.2h0M565.5 133.4h0M576.9 146.8h0M571.2 143.8h0M552.5 147.9h0M555.7 150h0M553.9 156.6h0M557.3 150.4h0M552.7 159.9h0M555.9 150.7h0M558.7 153.9h0M555.9 160.8h0M561.3 158.4h0M561.6 140.1h0M552.9 150.1h0M559.1 111.7h0M553 155.4h0M559.7 154.5h0M556.7 130h0M552.9 138.1h0M553.9 152.7h0M553.7 157.5h0M560.5 136.2h0M552.2 160.3h0M559 133.5h0M558 141.9h0M553.3 140.8h0M553.4 163.8h0M574.5 164.4h0M559 149.8h0M571.2 95.2h0M553.4 159.7h0M562 162.7h0M555.9 137.6h0M552.8 155.6h0M560 151.3h0M566.3 118.7h0M556.8 123.5h0M553.4 153.8h0M558.1 89.9h0M552.7 161.5h0M567.2 112.6h0M564.7 156.8h0M557.1 119.6h0M561.3 160.7h0M551.4 155.4h0M557.5 117.2h0M557.3 154.6h0M550.5 159h0M554.1 154.9h0M553.5 164.8h0M554.3 135.6h0M557.8 141.7h0M550.4 160.8h0M557.6 142h0M552 157.9h0M569.1 125.3h0M556.9 159.6h0M553.7 147.5h0M553 164.3h0M557.3 143.8h0M551.7 150.4h0M553.1 160.1h0M553.9 154h0M554.4 117.3h0M559.5 76.7h0M554.6 125.1h0M554.4 146.9h0M562 164.3h0M554.2 130.9h0M556.1 134.3h0M557.5 75.8h0M552.4 155.2h0M561.3 144.9h0M557.9 127.1h0M562.5 155h0M552.4 162.8h0M555.4 136.3h0M558.4 63.1h0M552.4 152.3h0M550.8 165h0M553.6 163.1h0M555.9 153.4h0M559.4 158h0M580.6 150.1h0M555.6 161.2h0M554.2 151.1h0M554.4 124.5h0M556.1 121.9h0M557.5 156.7h0M553.3 148h0M573.3 163.2h0M551.4 155.6h0M556.2 143.1h0M553.4 156.9h0M555.3 126.7h0M574 154h0M554.3 155.9h0M558.3 161.4h0M555.1 142.6h0M552.5 154.4h0M556 133h0M555.5 128.4h0M551.5 137.9h0M574.4 160h0M558.8 141.5h0M555.5 150.9h0M551.7 160.5h0M559.1 143.8h0M558 158.9h0M557.3 162h0M555.5 161.2h0M556.4 157.3h0M555.1 162.1h0M552 145.4h0M558.9 157.5h0M557.9 148.8h0M557.5 133.9h0M554.6 159.9h0M558 128.6h0M554.6 136.3h0M576.7 152.8h0M559.4 129.6h0M557.2 162.7h0M570.4 164.4h0M568.3 91.5h0M564.3 158.7h0M563.4 161h0M550.9 149.9h0M557.3 119.6h0M560.3 128.6h0M565.6 149.4h0M567.3 160.4h0M550.6 156.6h0M550.9 156.6h0M557.4 163.5h0M551.5 162.4h0M552.8 157.9h0M570.1 113.1h0M584.3 123.1h0M562.4 153.1h0M569.8 158.3h0M561.1 130.9h0M551 159.7h0M559.6 111.8h0M565.7 145.6h0M559.2 161.9h0M562.1 152.2h0M552.2 152.5h0M558.4 100.7h0M563.6 137h0M559.2 159.2h0M552.4 154.7h0M573.3 160h0M555.8 155.6h0M550.9 150.8h0M560.8 136.3h0M556 122.2h0M553.4 160.2h0M558.6 138h0M556.1 154.4h0M568.9 161.6h0M555.9 151.9h0M553.3 133.3h0M554.2 138.7h0M552.8 130.7h0M557.9 158.4h0M554.2 151.5h0M552.7 147.3h0M550.6 153.2h0M553.9 132.1h0M557.8 128.6h0M558.2 146.1h0M561.4 162.3h0M565.2 158h0M559.5 133.3h0M556 130.4h0M572 142.1h0M551 160.8h0M555.9 154.1h0M552.1 161.7h0M556.2 123.7h0M551.7 161.7h0M552.4 147.4h0M556.4 151.8h0M555.8 153.2h0M552.5 127.8h0M555.8 110.4h0M561 164.3h0M556.6 147.7h0M561.6 160h0M560.1 157.5h0M556.6 159.7h0M554.2 143.6h0M551.2 151.6h0M559.1 143.9h0M556.2 161.6h0M552 137.9h0M566.4 127.5h0M552.2 164h0M552.3 163.3h0M555.1 163.2h0M553 159.1h0M554.1 152.3h0M560.6 133.1h0M552 162.6h0M553 164.9h0M559.1 162.7h0M589.2 133.9h0M550.5 160.2h0M555.1 136h0M557.7 110.1h0M551 157.4h0M561.7 104.3h0M554.9 153.1h0M563.8 135h0M552.1 151.8h0M567.1 154.3h0M558.6 154.3h0M555.4 148.2h0M552.9 147.5h0M565.7 148.3h0M553.6 163.3h0M579.3 121.4h0M557.4 164.8h0M563.7 144.5h0M551.7 152h0M559.7 157.7h0M552.8 138.3h0M558.3 143.9h0M551.2 143h0M553.5 153.1h0M554 146.4h0M558.5 162.2h0M562 158.1h0M556.3 157.6h0M552.9 131.1h0M551.8 138.1h0M554.7 108.5h0M554.4 138.6h0M554 161h0M554.7 150.8h0M555.7 162.4h0M575.9 157.7h0M554.8 155.1h0M576.2 159.7h0M558.2 157.1h0M555.8 128.3h0M553.7 136.1h0M550.5 162.7h0M566.1 152.8h0M554.6 160.4h0M553.8 135.5h0M555.7 161.7h0M571.4 153.7h0M555.3 118.3h0M554.8 148.1h0M554.5 164.4h0M556.3 114.2h0M560.1 146.9h0M569.4 163.7h0M552.8 162.7h0M551.4 139.2h0M551.5 155.4h0M550.8 151.9h0M552.1 161.7h0M550.8 163.3h0M555.7 160.6h0M563 162h0M552.7 154h0M564 159.4h0M560.2 164.1h0M571.7 162.9h0M557.3 154.3h0M553.5 124.2h0M558.9 163.7h0M560.4 146.9h0M555.5 158.4h0M554.5 160.8h0M556.9 158.3h0M552.8 157.8h0M551.6 143.9h0M556.6 131.9h0M551.2 159.7h0M555.9 150.4h0M554.4 138.9h0M567.2 154.1h0M579.9 158.5h0M585 119.2h0M557.5 106.1h0M558.6 130.5h0M562.4 143.6h0M551.4 148.3h0M554.1 124.2h0M557.5 158.9h0M554.9 160.6h0M551.9 139.4h0M551.8 142.8h0M558.5 151.8h0M551.4 141.2h0M574.3 160.7h0M554.6 154.9h0M559.4 155.4h0M558.5 137.3h0M556.8 154.5h0M552.3 150.2h0M586.3 103.7h0M585.2 134.2h0M564.3 152.2h0M560.4 159.4h0M570.3 139.3h0M566.8 128.2h0M561.9 158.7h0M553.4 151.8h0M562.4 155.6h0M565.2 127h0M552.4 142.3h0M556.5 161.6h0M553.3 160.2h0M551.4 162.8h0M553 139.1h0M555.3 126.4h0M555 126.2h0M554.1 158.7h0M554.3 164.8h0M550.6 155.2h0M556 124.4h0M574.1 165h0M552.5 159.7h0M550.8 164.6h0M557.2 139.6h0M552.8 150.6h0M576.6 158.1h0M584.5 155.5h0M554.1 120.3h0M552.7 126.3h0M562.6 139.5h0M556.6 140.6h0M553.2 130.6h0M553.1 149.1h0M552.1 154.6h0M557 139.7h0M558.5 134h0M569.9 146.3h0M557.8 130.7h0M570 156.9h0M551.3 155.5h0M559.6 156.7h0M561.4 110h0M570 142.7h0M555.7 134.1h0M561.3 152.3h0M551.3 157.2h0M562.3 145.2h0M558.9 159.2h0M554.3 119.2h0M555.2 162.1h0M572.7 156.7h0M563.2 47.6h0M558.7 132.7h0M576.9 161.1h0M550.8 161.1h0M550.7 152.7h0M554.6 151.6h0M560.2 101.6h0M562.9 126.1h0M552.9 146.9h0M555.4 157.6h0M558.3 154.7h0M553.6 150.6h0M553.3 160.4h0M550.8 164.8h0M554.2 163.9h0M560.6 127.8h0M572.9 95.5h0M557.4 146.9h0M553.7 164.8h0M557.6 158.8h0M555.9 163.7h0M555.5 155.4h0M551.3 154.4h0M562.3 138h0M551.8 146.3h0M566.2 146.3h0M570.2 76.4h0M565.8 164.1h0M553.3 142.6h0M566 113.1h0M555.3 118.7h0M554.4 147.4h0M561.1 157.8h0M554 145.4h0M570.5 149h0M569.1 147.9h0M587.1 147.9h0M554.7 164.5h0M560.5 148.5h0M565.1 93.8h0M558.2 151.7h0M559.9 149.4h0M555.1 104.7h0M566 157.1h0M561.8 163.8h0M557.9 164.4h0M553.8 131.9h0M552.4 155.2h0M556.3 140h0M553.9 145.9h0M573.9 146.9h0M572.5 134h0M555.7 159.2h0M553.7 155h0M553.3 131.6h0M561.9 148.3h0M554.6 108.7h0M555.4 158.6h0M556.2 108.4h0M555.9 127.3h0M570.4 148.7h0M553.1 163.7h0M551.3 161.6h0M559.4 157.6h0M551.8 147.2h0M556.8 131.8h0M563 161.9h0M553.9 129.7h0M570.1 107.4h0M550.3 159.7h0M564.8 123.5h0M561 162.9h0M558.5 134.6h0M581 128.3h0M563.8 156.9h0M556.6 112.9h0M559 141.4h0M558.3 126.2h0M552.5 158.4h0M551.9 149h0M567.8 124.7h0M559.2 159.4h0M552 142.1h0M561.7 134.1h0M551.2 157.5h0M561.4 158.3h0M563.2 152.1h0M551 161.5h0M566.3 156.2h0M550.8 161.4h0M552.1 136.3h0M551.7 142.4h0M558.4 159.2h0M556.6 122.6h0M550.8 152.8h0M552.5 156.5h0M560.4 133.1h0M557 133.5h0M552.1 140.4h0M553.1 155.1h0M560.4 158.2h0M553.2 160.1h0M565.2 158.2h0M555.5 144.1h0M569.5 155.2h0M560.2 107.4h0M565.6 147.9h0M552.6 159h0M555.3 162.8h0M552.8 135h0M585.4 153.4h0M554.3 151.6h0M567.7 127.5h0M551.5 155.4h0M560.2 144.3h0M561.5 112.3h0M555.8 157.5h0M554.8 158.1h0M568.8 152.1h0M571.5 116.5h0M575.5 151.7h0M569.1 162h0M565.1 144h0M585.6 154.1h0M564.1 164.5h0M555.4 129.9h0M553.9 128.8h0M555.8 136.4h0M552.2 154.2h0M560.9 132h0M578.6 163.1h0M553.8 159.9h0M557 154.1h0M573.1 119.6h0M554.1 144.4h0M556.8 92.2h0M566.3 57.8h0M561.7 66.6h0M559.3 66.2h0M566.9 22.6h0M563.1 55.8h0M560.5 80.3h0M563.4 59.9h0M566.3 19.3h0M557.1 83.9h0M560.5 87.9h0M579.8 35.7h0M571.7 81.4h0M565.2 64.2h0M558 56.6h0M566.9 95.7h0M562.5 43.5h0M575.1 24.3h0M557.6 75.9h0M568.2 54.9h0M557 82.4h0M557.9 60.4h0M567.6 39.6h0M562.7 77.8h0M558.7 81.7h0M573.2 86h0M570 63.3h0M573.5 72.1h0M568.2 51.3h0M565.5 68.3h0M565.3 45h0M558.8 47.8h0M559.7 73.2h0M558 30.7h0M577.7 64h0M570.5 35.7h0M559.6 76h0M561.3 42.3h0M562.1 40.7h0M566.3 37.6h0M576.3 100.4h0M563.4 98.7h0M571.9 68.7h0M559.3 74.8h0M565.8 35.6h0M564.5 38h0M570.3 98.1h0M562.9 82.9h0M558.3 101.2h0M572.1 45.5h0M563.5 47.9h0M568.8 39.9h0M564.1 84h0M570.7 51.2h0M560.2 84.7h0M558.1 72.5h0M570.1 72h0M559.5 52.9h0M559 40h0M559.4 38.3h0M558.9 93.1h0M560.7 58.1h0M585.7 27.2h0M570.6 77.5h0M566 43h0M586.5 79.9h0M558.2 21.2h0M560.9 73.6h0M562.1 84.6h0M558.2 26h0M561.6 31.3h0M578.3 100.1h0M559.2 78.4h0M560.7 91.4h0M558.1 91.2h0M565.3 80.3h0M561.1 63.9h0M572.4 57.2h0M562 40.6h0M573.6 24.4h0M564.1 54.2h0M558.5 73.6h0M567.3 27.1h0M581.9 92.9h0M558.3 27h0M560.5 42.6h0M575.5 56.4h0M564 71.9h0M559.9 45.5h0M563.2 48.8h0M560.1 19h0M558.2 41.7h0M558.1 78.3h0M563.8 88.7h0M572.2 86.6h0M565.8 93.1h0M559.3 29.2h0M571 83h0M584.3 61.9h0M562.1 72.9h0M562.2 21.1h0M580.1 20.3h0M564.4 84.4h0M559.3 22.4h0M572.7 30.2h0M567 38.5h0M587.7 92.8h0M571.3 92.6h0M561.6 40.7h0M563 43.9h0M625.1 123.6h0M625.1 103.9h0M625.1 98.8h0M625.1 108.7h0M625.1 164.1h0M625.1 162h0M625.1 86.9h0M625.1 127.2h0M625.1 70.7h0M625.1 137.7h0M625.1 141.5h0M625.1 129.1h0M625.1 141.9h0M625.1 110.2h0M625.1 129.1h0M625.1 163.5h0M625.1 126.4h0M625.1 156.9h0M625.1 130.1h0M625.1 142.4h0M625.1 149h0M625.1 126h0M625.1 162.8h0M625.1 65.1h0M625.1 77.4h0M625.1 163.4h0M625.1 145.9h0M625.1 159.4h0M625.1 133.9h0M625.1 131h0M625.1 154.7h0M625.1 147.2h0M625.1 142.9h0M625.1 96.5h0M625.1 126.6h0M625.1 164.4h0M625.1 152.9h0M625.1 148.8h0M625.1 129.2h0M625.1 130.9h0M625.1 136.7h0M625.1 108.7h0M625.1 157h0M625.1 141.9h0M625.1 116.4h0M625.1 133h0M625.1 69.4h0M625.1 156.9h0M625.1 136.9h0M625.1 139.8h0M625.1 96.2h0M625.1 129.2h0M625.1 139.5h0M625.1 145.8h0M625.1 93h0M625.1 148.5h0M625.1 148.2h0M625.1 151h0M625.1 148.5h0M625.1 127.2h0M625.1 164.4h0M625.1 149.7h0M625.1 142h0M625.1 155.8h0M625.1 131.1h0M625.1 109.6h0M625.1 152.5h0M625.1 130.3h0M625.1 112.2h0M625.1 137.9h0M625.1 98.9h0M625.1 156h0M625.1 76.1h0M625.1 119.5h0M625.1 126.7h0M625.1 147.2h0M625.1 162.7h0M625.1 162.4h0M625.1 87.6h0M625.1 130.4h0M625.1 90.4h0M625.1 142.2h0M625.1 155.3h0M625.1 83.8h0M625.1 156.2h0" stroke="#ff1a1a" stroke-width="1.3" stroke-linecap="round" fill="none"/>
</g>
<line x1="481" y1="181.8" x2="481" y2="183.3" stroke="#444" stroke-width="0.5"/>
<text x="481" y="186.4" font-family="Liberation Sans" font-size="4.2" text-anchor="middle" fill="#444">−10</text>
<line x1="512.1" y1="181.8" x2="512.1" y2="183.3" stroke="#444" stroke-width="0.5"/>
<text x="512.1" y="186.4" font-family="Liberation Sans" font-size="4.2" text-anchor="middle" fill="#444">−5</text>
<line x1="537" y1="181.8" x2="537" y2="183.3" stroke="#444" stroke-width="0.5"/>
<text x="537" y="186.4" font-family="Liberation Sans" font-size="4.2" text-anchor="middle" fill="#444">−1</text>
<line x1="549.4" y1="181.8" x2="549.4" y2="183.3" stroke="#444" stroke-width="0.5"/>
<text x="549.4" y="186.4" font-family="Liberation Sans" font-size="4.2" text-anchor="middle" fill="#444">1</text>
<line x1="574.3" y1="181.8" x2="574.3" y2="183.3" stroke="#444" stroke-width="0.5"/>
<text x="574.3" y="186.4" font-family="Liberation Sans" font-size="4.2" text-anchor="middle" fill="#444">5</text>
<line x1="605.4" y1="181.8" x2="605.4" y2="183.3" stroke="#444" stroke-width="0.5"/>
<text x="605.4" y="186.4" font-family="Liberation Sans" font-size="4.2" text-anchor="middle" fill="#444">10</text>
<line x1="459" y1="165.1" x2="460.5" y2="165.1" stroke="#444" stroke-width="0.5"/>
<text x="458.5" y="166.6" font-family="Liberation Sans" font-size="4.2" text-anchor="end" fill="#444">q=0.05</text>
<line x1="459" y1="137.9" x2="460.5" y2="137.9" stroke="#444" stroke-width="0.5"/>
<text x="458.5" y="139.4" font-family="Liberation Sans" font-size="4.2" text-anchor="end" fill="#444">5</text>
<line x1="459" y1="101.2" x2="460.5" y2="101.2" stroke="#444" stroke-width="0.5"/>
<text x="458.5" y="102.7" font-family="Liberation Sans" font-size="4.2" text-anchor="end" fill="#444">10</text>
<line x1="459" y1="64.5" x2="460.5" y2="64.5" stroke="#444" stroke-width="0.5"/>
<text x="458.5" y="66" font-family="Liberation Sans" font-size="4.2" text-anchor="end" fill="#444">15</text>
<line x1="459" y1="27.8" x2="460.5" y2="27.8" stroke="#444" stroke-width="0.5"/>
<text x="458.5" y="29.3" font-family="Liberation Sans" font-size="4.2" text-anchor="end" fill="#444">20</text>
<text x="549.5" y="196.6" font-family="Liberation Sans" font-size="8.75" font-weight="bold" text-anchor="middle" fill="#111">Log2(Fold−change)</text>
<text x="441.5" y="98" font-family="Liberation Sans" font-size="9.0" font-weight="bold" text-anchor="middle" fill="#111" transform="rotate(-90 441.5 98)">−Log10(q−value)</text>
<rect x="626" y="69.1" width="7" height="7.2" fill="#ebebeb"/>
<circle cx="629.5" cy="72.7" r="0.8" fill="#1a1aff"/>
<text x="634.2" y="75" font-family="Liberation Sans" font-size="6.45" font-weight="bold" fill="#222">Down regulation</text>
<rect x="626" y="76.4" width="7" height="7.2" fill="#ebebeb"/>
<circle cx="629.5" cy="80" r="0.8" fill="#bdbdbd"/>
<text x="634.2" y="82.2" font-family="Liberation Sans" font-size="6.45" font-weight="bold" fill="#222">Not Significant</text>
<rect x="626" y="83.6" width="7" height="7.2" fill="#ebebeb"/>
<circle cx="629.5" cy="87.2" r="0.8" fill="#ff1a1a"/>
<text x="634.2" y="89.5" font-family="Liberation Sans" font-size="6.45" font-weight="bold" fill="#222">Up regulation</text>
<g shape-rendering="crispEdges">
<rect x="29.6" y="260.3" width="27" height="1.8" fill="#771d1b"/>
<rect x="56.3" y="260.3" width="27" height="1.8" fill="#af1f1d"/>
<rect x="83.1" y="260.3" width="27" height="1.8" fill="#891e1c"/>
<rect x="109.8" y="260.3" width="27" height="1.8" fill="#37b028"/>
<rect x="136.5" y="260.3" width="27" height="1.8" fill="#24481b"/>
<rect x="163.3" y="260.3" width="27" height="1.8" fill="#318f24"/>
<rect x="29.6" y="261.8" width="27" height="1.8" fill="#831e1c"/>
<rect x="56.3" y="261.8" width="27" height="1.8" fill="#8b1e1c"/>
<rect x="83.1" y="261.8" width="27" height="1.8" fill="#d1211f"/>
<rect x="109.8" y="261.8" width="27" height="1.8" fill="#3bc62b"/>
<rect x="136.5" y="261.8" width="27" height="1.8" fill="#26561d"/>
<rect x="163.3" y="261.8" width="27" height="1.8" fill="#2a6b1f"/>
<rect x="29.6" y="263.3" width="27" height="1.8" fill="#981e1c"/>
<rect x="56.3" y="263.3" width="27" height="1.8" fill="#a71f1d"/>
<rect x="83.1" y="263.3" width="27" height="1.8" fill="#7c1d1b"/>
<rect x="109.8" y="263.3" width="27" height="1.8" fill="#3cc72b"/>
<rect x="136.5" y="263.3" width="27" height="1.8" fill="#254e1c"/>
<rect x="163.3" y="263.3" width="27" height="1.8" fill="#2e7f22"/>
<rect x="29.6" y="264.8" width="27" height="1.8" fill="#9b1f1d"/>
<rect x="56.3" y="264.8" width="27" height="1.8" fill="#ac1f1d"/>
<rect x="83.1" y="264.8" width="27" height="1.8" fill="#a01f1d"/>
<rect x="109.8" y="264.8" width="27" height="1.8" fill="#38b228"/>
<rect x="136.5" y="264.8" width="27" height="1.8" fill="#29651f"/>
<rect x="163.3" y="264.8" width="27" height="1.8" fill="#34a126"/>
<rect x="29.6" y="266.3" width="27" height="1.8" fill="#751d1b"/>
<rect x="56.3" y="266.3" width="27" height="1.8" fill="#9a1e1c"/>
<rect x="83.1" y="266.3" width="27" height="1.8" fill="#841e1c"/>
<rect x="109.8" y="266.3" width="27" height="1.8" fill="#318d24"/>
<rect x="136.5" y="266.3" width="27" height="1.8" fill="#244a1b"/>
<rect x="163.3" y="266.3" width="27" height="1.8" fill="#318f24"/>
<rect x="29.6" y="267.8" width="27" height="1.8" fill="#851e1c"/>
<rect x="56.3" y="267.8" width="27" height="1.8" fill="#af1f1d"/>
<rect x="83.1" y="267.8" width="27" height="1.8" fill="#a31f1d"/>
<rect x="109.8" y="267.8" width="27" height="1.8" fill="#308b23"/>
<rect x="136.5" y="267.8" width="27" height="1.8" fill="#24481b"/>
<rect x="163.3" y="267.8" width="27" height="1.8" fill="#2d7a21"/>
<rect x="29.6" y="269.3" width="27" height="1.8" fill="#8b1e1c"/>
<rect x="56.3" y="269.3" width="27" height="1.8" fill="#ab1f1d"/>
<rect x="83.1" y="269.3" width="27" height="1.8" fill="#741d1b"/>
<rect x="109.8" y="269.3" width="27" height="1.8" fill="#1c1a18"/>
<rect x="136.5" y="269.3" width="27" height="1.8" fill="#36a627"/>
<rect x="163.3" y="269.3" width="27" height="1.8" fill="#2d7721"/>
<rect x="29.6" y="270.8" width="27" height="1.8" fill="#681c1a"/>
<rect x="56.3" y="270.8" width="27" height="1.8" fill="#ae1f1d"/>
<rect x="83.1" y="270.8" width="27" height="1.8" fill="#ac1f1d"/>
<rect x="109.8" y="270.8" width="27" height="1.8" fill="#203519"/>
<rect x="136.5" y="270.8" width="27" height="1.8" fill="#2f8623"/>
<rect x="163.3" y="270.8" width="27" height="1.8" fill="#308b23"/>
<rect x="29.6" y="272.4" width="27" height="1.8" fill="#a21f1d"/>
<rect x="56.3" y="272.4" width="27" height="1.8" fill="#981e1c"/>
<rect x="83.1" y="272.4" width="27" height="1.8" fill="#8c1e1c"/>
<rect x="109.8" y="272.4" width="27" height="1.8" fill="#213a19"/>
<rect x="136.5" y="272.4" width="27" height="1.8" fill="#329525"/>
<rect x="163.3" y="272.4" width="27" height="1.8" fill="#2d7921"/>
<rect x="29.6" y="273.9" width="27" height="1.8" fill="#971e1c"/>
<rect x="56.3" y="273.9" width="27" height="1.8" fill="#901e1c"/>
<rect x="83.1" y="273.9" width="27" height="1.8" fill="#8d1e1c"/>
<rect x="109.8" y="273.9" width="27" height="1.8" fill="#223c1a"/>
<rect x="136.5" y="273.9" width="27" height="1.8" fill="#35a126"/>
<rect x="163.3" y="273.9" width="27" height="1.8" fill="#2f8623"/>
<rect x="29.6" y="275.4" width="27" height="1.8" fill="#901e1c"/>
<rect x="56.3" y="275.4" width="27" height="1.8" fill="#aa1f1d"/>
<rect x="83.1" y="275.4" width="27" height="1.8" fill="#891e1c"/>
<rect x="109.8" y="275.4" width="27" height="1.8" fill="#223e1a"/>
<rect x="136.5" y="275.4" width="27" height="1.8" fill="#2c7421"/>
<rect x="163.3" y="275.4" width="27" height="1.8" fill="#2f8322"/>
<rect x="29.6" y="276.9" width="27" height="1.8" fill="#7f1d1b"/>
<rect x="56.3" y="276.9" width="27" height="1.8" fill="#9e1f1d"/>
<rect x="83.1" y="276.9" width="27" height="1.8" fill="#951e1c"/>
<rect x="109.8" y="276.9" width="27" height="1.8" fill="#1c2016"/>
<rect x="136.5" y="276.9" width="27" height="1.8" fill="#308823"/>
<rect x="163.3" y="276.9" width="27" height="1.8" fill="#339a25"/>
<rect x="29.6" y="278.4" width="27" height="1.8" fill="#7f1d1b"/>
<rect x="56.3" y="278.4" width="27" height="1.8" fill="#a71f1d"/>
<rect x="83.1" y="278.4" width="27" height="1.8" fill="#911e1c"/>
<rect x="109.8" y="278.4" width="27" height="1.8" fill="#1c1f16"/>
<rect x="136.5" y="278.4" width="27" height="1.8" fill="#36a827"/>
<rect x="163.3" y="278.4" width="27" height="1.8" fill="#2a661f"/>
<rect x="29.6" y="279.9" width="27" height="1.8" fill="#8f1e1c"/>
<rect x="56.3" y="279.9" width="27" height="1.8" fill="#7f1d1b"/>
<rect x="83.1" y="279.9" width="27" height="1.8" fill="#b21f1d"/>
<rect x="109.8" y="279.9" width="27" height="1.8" fill="#213b19"/>
<rect x="136.5" y="279.9" width="27" height="1.8" fill="#318f24"/>
<rect x="163.3" y="279.9" width="27" height="1.8" fill="#2e8022"/>
<rect x="29.6" y="281.4" width="27" height="1.8" fill="#8f1e1c"/>
<rect x="56.3" y="281.4" width="27" height="1.8" fill="#a71f1d"/>
<rect x="83.1" y="281.4" width="27" height="1.8" fill="#671c1a"/>
<rect x="109.8" y="281.4" width="27" height="1.8" fill="#308b23"/>
<rect x="136.5" y="281.4" width="27" height="1.8" fill="#35a627"/>
<rect x="163.3" y="281.4" width="27" height="1.8" fill="#318e24"/>
<rect x="29.6" y="282.9" width="27" height="1.8" fill="#8a1e1c"/>
<rect x="56.3" y="282.9" width="27" height="1.8" fill="#cf211f"/>
<rect x="83.1" y="282.9" width="27" height="1.8" fill="#961e1c"/>
<rect x="109.8" y="282.9" width="27" height="1.8" fill="#339925"/>
<rect x="136.5" y="282.9" width="27" height="1.8" fill="#285d1e"/>
<rect x="163.3" y="282.9" width="27" height="1.8" fill="#2c7320"/>
<rect x="29.6" y="284.4" width="27" height="1.8" fill="#851e1c"/>
<rect x="56.3" y="284.4" width="27" height="1.8" fill="#bf201e"/>
<rect x="83.1" y="284.4" width="27" height="1.8" fill="#b11f1d"/>
<rect x="109.8" y="284.4" width="27" height="1.8" fill="#2b6c20"/>
<rect x="136.5" y="284.4" width="27" height="1.8" fill="#37ad28"/>
<rect x="163.3" y="284.4" width="27" height="1.8" fill="#29631e"/>
<rect x="29.6" y="285.9" width="27" height="1.8" fill="#841e1c"/>
<rect x="56.3" y="285.9" width="27" height="1.8" fill="#a31f1d"/>
<rect x="83.1" y="285.9" width="27" height="1.8" fill="#a41f1d"/>
<rect x="109.8" y="285.9" width="27" height="1.8" fill="#275a1d"/>
<rect x="136.5" y="285.9" width="27" height="1.8" fill="#2d7721"/>
<rect x="163.3" y="285.9" width="27" height="1.8" fill="#308723"/>
<rect x="29.6" y="287.4" width="27" height="1.8" fill="#7f1d1b"/>
<rect x="56.3" y="287.4" width="27" height="1.8" fill="#8d1e1c"/>
<rect x="83.1" y="287.4" width="27" height="1.8" fill="#941e1c"/>
<rect x="109.8" y="287.4" width="27" height="1.8" fill="#2d7921"/>
<rect x="136.5" y="287.4" width="27" height="1.8" fill="#318e24"/>
<rect x="163.3" y="287.4" width="27" height="1.8" fill="#2f8423"/>
<rect x="29.6" y="288.9" width="27" height="1.8" fill="#771d1b"/>
<rect x="56.3" y="288.9" width="27" height="1.8" fill="#901e1c"/>
<rect x="83.1" y="288.9" width="27" height="1.8" fill="#a01f1d"/>
<rect x="109.8" y="288.9" width="27" height="1.8" fill="#2b6c20"/>
<rect x="136.5" y="288.9" width="27" height="1.8" fill="#2f8623"/>
<rect x="163.3" y="288.9" width="27" height="1.8" fill="#308a23"/>
<rect x="29.6" y="290.4" width="27" height="1.8" fill="#971e1c"/>
<rect x="56.3" y="290.4" width="27" height="1.8" fill="#b11f1d"/>
<rect x="83.1" y="290.4" width="27" height="1.8" fill="#851e1c"/>
<rect x="109.8" y="290.4" width="27" height="1.8" fill="#339b25"/>
<rect x="136.5" y="290.4" width="27" height="1.8" fill="#2f8222"/>
<rect x="163.3" y="290.4" width="27" height="1.8" fill="#285f1e"/>
<rect x="29.6" y="291.9" width="27" height="1.8" fill="#911e1c"/>
<rect x="56.3" y="291.9" width="27" height="1.8" fill="#a21f1d"/>
<rect x="83.1" y="291.9" width="27" height="1.8" fill="#971e1c"/>
<rect x="109.8" y="291.9" width="27" height="1.8" fill="#2a671f"/>
<rect x="136.5" y="291.9" width="27" height="1.8" fill="#37ad28"/>
<rect x="163.3" y="291.9" width="27" height="1.8" fill="#2e8022"/>
<rect x="29.6" y="293.4" width="27" height="1.8" fill="#801d1b"/>
<rect x="56.3" y="293.4" width="27" height="1.8" fill="#751d1b"/>
<rect x="83.1" y="293.4" width="27" height="1.8" fill="#8f1e1c"/>
<rect x="109.8" y="293.4" width="27" height="1.8" fill="#2f8222"/>
<rect x="136.5" y="293.4" width="27" height="1.8" fill="#329224"/>
<rect x="163.3" y="293.4" width="27" height="1.8" fill="#308723"/>
<rect x="29.6" y="294.9" width="27" height="1.8" fill="#811d1b"/>
<rect x="56.3" y="294.9" width="27" height="1.8" fill="#a41f1d"/>
<rect x="83.1" y="294.9" width="27" height="1.8" fill="#721d1b"/>
<rect x="109.8" y="294.9" width="27" height="1.8" fill="#349d26"/>
<rect x="136.5" y="294.9" width="27" height="1.8" fill="#308823"/>
<rect x="163.3" y="294.9" width="27" height="1.8" fill="#2d7721"/>
<rect x="29.6" y="296.5" width="27" height="1.8" fill="#9b1e1c"/>
<rect x="56.3" y="296.5" width="27" height="1.8" fill="#841e1c"/>
<rect x="83.1" y="296.5" width="27" height="1.8" fill="#b41f1d"/>
<rect x="109.8" y="296.5" width="27" height="1.8" fill="#2b6c20"/>
<rect x="136.5" y="296.5" width="27" height="1.8" fill="#318e24"/>
<rect x="163.3" y="296.5" width="27" height="1.8" fill="#339725"/>
<rect x="29.6" y="298" width="27" height="1.8" fill="#991e1c"/>
<rect x="56.3" y="298" width="27" height="1.8" fill="#b11f1d"/>
<rect x="83.1" y="298" width="27" height="1.8" fill="#901e1c"/>
<rect x="109.8" y="298" width="27" height="1.8" fill="#2d7821"/>
<rect x="136.5" y="298" width="27" height="1.8" fill="#308923"/>
<rect x="163.3" y="298" width="27" height="1.8" fill="#2c7220"/>
<rect x="29.6" y="299.5" width="27" height="1.8" fill="#961e1c"/>
<rect x="56.3" y="299.5" width="27" height="1.8" fill="#a81f1d"/>
<rect x="83.1" y="299.5" width="27" height="1.8" fill="#771d1b"/>
<rect x="109.8" y="299.5" width="27" height="1.8" fill="#318d24"/>
<rect x="136.5" y="299.5" width="27" height="1.8" fill="#38b128"/>
<rect x="163.3" y="299.5" width="27" height="1.8" fill="#2b6f20"/>
<rect x="29.6" y="301" width="27" height="1.8" fill="#981e1c"/>
<rect x="56.3" y="301" width="27" height="1.8" fill="#a41f1d"/>
<rect x="83.1" y="301" width="27" height="1.8" fill="#c4201e"/>
<rect x="109.8" y="301" width="27" height="1.8" fill="#339725"/>
<rect x="136.5" y="301" width="27" height="1.8" fill="#2c7621"/>
<rect x="163.3" y="301" width="27" height="1.8" fill="#329425"/>
<rect x="29.6" y="302.5" width="27" height="1.8" fill="#601c1a"/>
<rect x="56.3" y="302.5" width="27" height="1.8" fill="#941e1c"/>
<rect x="83.1" y="302.5" width="27" height="1.8" fill="#8a1e1c"/>
<rect x="109.8" y="302.5" width="27" height="1.8" fill="#308923"/>
<rect x="136.5" y="302.5" width="27" height="1.8" fill="#329425"/>
<rect x="163.3" y="302.5" width="27" height="1.8" fill="#2d7a21"/>
<rect x="29.6" y="304" width="27" height="1.8" fill="#951e1c"/>
<rect x="56.3" y="304" width="27" height="1.8" fill="#901e1c"/>
<rect x="83.1" y="304" width="27" height="1.8" fill="#7b1d1b"/>
<rect x="109.8" y="304" width="27" height="1.8" fill="#2c7320"/>
<rect x="136.5" y="304" width="27" height="1.8" fill="#2d7a21"/>
<rect x="163.3" y="304" width="27" height="1.8" fill="#2c7120"/>
<rect x="29.6" y="305.5" width="27" height="1.8" fill="#921e1c"/>
<rect x="56.3" y="305.5" width="27" height="1.8" fill="#7c1d1b"/>
<rect x="83.1" y="305.5" width="27" height="1.8" fill="#a61f1d"/>
<rect x="109.8" y="305.5" width="27" height="1.8" fill="#3dcc2c"/>
<rect x="136.5" y="305.5" width="27" height="1.8" fill="#2e7f22"/>
<rect x="163.3" y="305.5" width="27" height="1.8" fill="#2a691f"/>
<rect x="29.6" y="307" width="27" height="1.8" fill="#7f1d1b"/>
<rect x="56.3" y="307" width="27" height="1.8" fill="#8a1e1c"/>
<rect x="83.1" y="307" width="27" height="1.8" fill="#8e1e1c"/>
<rect x="109.8" y="307" width="27" height="1.8" fill="#3dcc2c"/>
<rect x="136.5" y="307" width="27" height="1.8" fill="#308923"/>
<rect x="163.3" y="307" width="27" height="1.8" fill="#339725"/>
<rect x="29.6" y="308.5" width="27" height="1.8" fill="#8e1e1c"/>
<rect x="56.3" y="308.5" width="27" height="1.8" fill="#8c1e1c"/>
<rect x="83.1" y="308.5" width="27" height="1.8" fill="#891e1c"/>
<rect x="109.8" y="308.5" width="27" height="1.8" fill="#3ccb2b"/>
<rect x="136.5" y="308.5" width="27" height="1.8" fill="#329525"/>
<rect x="163.3" y="308.5" width="27" height="1.8" fill="#37ad28"/>
<rect x="29.6" y="310" width="27" height="1.8" fill="#721d1b"/>
<rect x="56.3" y="310" width="27" height="1.8" fill="#b11f1d"/>
<rect x="83.1" y="310" width="27" height="1.8" fill="#6c1d1b"/>
<rect x="109.8" y="310" width="27" height="1.8" fill="#3cca2b"/>
<rect x="136.5" y="310" width="27" height="1.8" fill="#329224"/>
<rect x="163.3" y="310" width="27" height="1.8" fill="#349d26"/>
<rect x="29.6" y="311.5" width="27" height="1.8" fill="#7b1d1b"/>
<rect x="56.3" y="311.5" width="27" height="1.8" fill="#a61f1d"/>
<rect x="83.1" y="311.5" width="27" height="1.8" fill="#b8201e"/>
<rect x="109.8" y="311.5" width="27" height="1.8" fill="#34a026"/>
<rect x="136.5" y="311.5" width="27" height="1.8" fill="#339625"/>
<rect x="163.3" y="311.5" width="27" height="1.8" fill="#2e7c22"/>
<rect x="29.6" y="313" width="27" height="1.8" fill="#2a681f"/>
<rect x="56.3" y="313" width="27" height="1.8" fill="#26551d"/>
<rect x="83.1" y="313" width="27" height="1.8" fill="#285c1e"/>
<rect x="109.8" y="313" width="27" height="1.8" fill="#521c1a"/>
<rect x="136.5" y="313" width="27" height="1.8" fill="#b5201e"/>
<rect x="163.3" y="313" width="27" height="1.8" fill="#a31f1d"/>
<rect x="29.6" y="314.5" width="27" height="1.8" fill="#308923"/>
<rect x="56.3" y="314.5" width="27" height="1.8" fill="#2e8022"/>
<rect x="83.1" y="314.5" width="27" height="1.8" fill="#2f8322"/>
<rect x="109.8" y="314.5" width="27" height="1.8" fill="#401b19"/>
<rect x="136.5" y="314.5" width="27" height="1.8" fill="#d6211f"/>
<rect x="163.3" y="314.5" width="27" height="1.8" fill="#a31f1d"/>
<rect x="29.6" y="316" width="27" height="1.8" fill="#2a671f"/>
<rect x="56.3" y="316" width="27" height="1.8" fill="#2a691f"/>
<rect x="83.1" y="316" width="27" height="1.8" fill="#319024"/>
<rect x="109.8" y="316" width="27" height="1.8" fill="#1c1d16"/>
<rect x="136.5" y="316" width="27" height="1.8" fill="#bd201e"/>
<rect x="163.3" y="316" width="27" height="1.8" fill="#681d1b"/>
<rect x="29.6" y="317.5" width="27" height="1.8" fill="#2c7521"/>
<rect x="56.3" y="317.5" width="27" height="1.8" fill="#2d7b21"/>
<rect x="83.1" y="317.5" width="27" height="1.8" fill="#2d7921"/>
<rect x="109.8" y="317.5" width="27" height="1.8" fill="#791d1b"/>
<rect x="136.5" y="317.5" width="27" height="1.8" fill="#dc211f"/>
<rect x="163.3" y="317.5" width="27" height="1.8" fill="#c9201e"/>
<rect x="29.6" y="319.1" width="27" height="1.8" fill="#2d7621"/>
<rect x="56.3" y="319.1" width="27" height="1.8" fill="#2f8523"/>
<rect x="83.1" y="319.1" width="27" height="1.8" fill="#34a126"/>
<rect x="109.8" y="319.1" width="27" height="1.8" fill="#391b19"/>
<rect x="136.5" y="319.1" width="27" height="1.8" fill="#ce201e"/>
<rect x="163.3" y="319.1" width="27" height="1.8" fill="#8b1e1c"/>
<rect x="29.6" y="320.6" width="27" height="1.8" fill="#2f8623"/>
<rect x="56.3" y="320.6" width="27" height="1.8" fill="#2d7a21"/>
<rect x="83.1" y="320.6" width="27" height="1.8" fill="#285e1e"/>
<rect x="109.8" y="320.6" width="27" height="1.8" fill="#203619"/>
<rect x="136.5" y="320.6" width="27" height="1.8" fill="#c7201e"/>
<rect x="163.3" y="320.6" width="27" height="1.8" fill="#931e1c"/>
<rect x="29.6" y="322.1" width="27" height="1.8" fill="#2d7a21"/>
<rect x="56.3" y="322.1" width="27" height="1.8" fill="#318e24"/>
<rect x="83.1" y="322.1" width="27" height="1.8" fill="#2d7721"/>
<rect x="109.8" y="322.1" width="27" height="1.8" fill="#23411a"/>
<rect x="136.5" y="322.1" width="27" height="1.8" fill="#e5211f"/>
<rect x="163.3" y="322.1" width="27" height="1.8" fill="#8b1e1c"/>
<rect x="29.6" y="323.6" width="27" height="1.8" fill="#318d24"/>
<rect x="56.3" y="323.6" width="27" height="1.8" fill="#2c7521"/>
<rect x="83.1" y="323.6" width="27" height="1.8" fill="#2c7421"/>
<rect x="109.8" y="323.6" width="27" height="1.8" fill="#24471b"/>
<rect x="136.5" y="323.6" width="27" height="1.8" fill="#d0211f"/>
<rect x="163.3" y="323.6" width="27" height="1.8" fill="#a91f1d"/>
<rect x="29.6" y="325.1" width="27" height="1.8" fill="#29611e"/>
<rect x="56.3" y="325.1" width="27" height="1.8" fill="#308b23"/>
<rect x="83.1" y="325.1" width="27" height="1.8" fill="#349e26"/>
<rect x="109.8" y="325.1" width="27" height="1.8" fill="#1e2817"/>
<rect x="136.5" y="325.1" width="27" height="1.8" fill="#d9211f"/>
<rect x="163.3" y="325.1" width="27" height="1.8" fill="#c1201e"/>
<rect x="29.6" y="326.6" width="27" height="1.8" fill="#2e7f22"/>
<rect x="56.3" y="326.6" width="27" height="1.8" fill="#339925"/>
<rect x="83.1" y="326.6" width="27" height="1.8" fill="#35a326"/>
<rect x="109.8" y="326.6" width="27" height="1.8" fill="#4d1b19"/>
<rect x="136.5" y="326.6" width="27" height="1.8" fill="#ca201e"/>
<rect x="163.3" y="326.6" width="27" height="1.8" fill="#a31f1d"/>
<rect x="29.6" y="328.1" width="27" height="1.8" fill="#2c7220"/>
<rect x="56.3" y="328.1" width="27" height="1.8" fill="#2d7721"/>
<rect x="83.1" y="328.1" width="27" height="1.8" fill="#308a23"/>
<rect x="109.8" y="328.1" width="27" height="1.8" fill="#203519"/>
<rect x="136.5" y="328.1" width="27" height="1.8" fill="#cc201e"/>
<rect x="163.3" y="328.1" width="27" height="1.8" fill="#cc201e"/>
<rect x="29.6" y="329.6" width="27" height="1.8" fill="#26561d"/>
<rect x="56.3" y="329.6" width="27" height="1.8" fill="#2a6b1f"/>
<rect x="83.1" y="329.6" width="27" height="1.8" fill="#2b7020"/>
<rect x="109.8" y="329.6" width="27" height="1.8" fill="#23461b"/>
<rect x="136.5" y="329.6" width="27" height="1.8" fill="#7d1d1b"/>
<rect x="163.3" y="329.6" width="27" height="1.8" fill="#b31f1d"/>
<rect x="29.6" y="331.1" width="27" height="1.8" fill="#2f8423"/>
<rect x="56.3" y="331.1" width="27" height="1.8" fill="#2f8423"/>
<rect x="83.1" y="331.1" width="27" height="1.8" fill="#25501c"/>
<rect x="109.8" y="331.1" width="27" height="1.8" fill="#261a18"/>
<rect x="136.5" y="331.1" width="27" height="1.8" fill="#8e1e1c"/>
<rect x="163.3" y="331.1" width="27" height="1.8" fill="#721d1b"/>
<rect x="29.6" y="332.6" width="27" height="1.8" fill="#2b6f20"/>
<rect x="56.3" y="332.6" width="27" height="1.8" fill="#2d7821"/>
<rect x="83.1" y="332.6" width="27" height="1.8" fill="#2e8122"/>
<rect x="109.8" y="332.6" width="27" height="1.8" fill="#3b1b19"/>
<rect x="136.5" y="332.6" width="27" height="1.8" fill="#471b19"/>
<rect x="163.3" y="332.6" width="27" height="1.8" fill="#d4211f"/>
<rect x="29.6" y="334.1" width="27" height="1.8" fill="#29611e"/>
<rect x="56.3" y="334.1" width="27" height="1.8" fill="#349e26"/>
<rect x="83.1" y="334.1" width="27" height="1.8" fill="#2d7921"/>
<rect x="109.8" y="334.1" width="27" height="1.8" fill="#421b19"/>
<rect x="136.5" y="334.1" width="27" height="1.8" fill="#ae1f1d"/>
<rect x="163.3" y="334.1" width="27" height="1.8" fill="#ae1f1d"/>
<rect x="29.6" y="335.6" width="27" height="1.8" fill="#29631e"/>
<rect x="56.3" y="335.6" width="27" height="1.8" fill="#2c7521"/>
<rect x="83.1" y="335.6" width="27" height="1.8" fill="#2f8423"/>
<rect x="109.8" y="335.6" width="27" height="1.8" fill="#541c1a"/>
<rect x="136.5" y="335.6" width="27" height="1.8" fill="#701d1b"/>
<rect x="163.3" y="335.6" width="27" height="1.8" fill="#9b1e1c"/>
<rect x="29.6" y="337.1" width="27" height="1.8" fill="#2e8022"/>
<rect x="56.3" y="337.1" width="27" height="1.8" fill="#29631e"/>
<rect x="83.1" y="337.1" width="27" height="1.8" fill="#2f8623"/>
<rect x="109.8" y="337.1" width="27" height="1.8" fill="#1e2917"/>
<rect x="136.5" y="337.1" width="27" height="1.8" fill="#741d1b"/>
<rect x="163.3" y="337.1" width="27" height="1.8" fill="#b01f1d"/>
<rect x="29.6" y="338.6" width="27" height="1.8" fill="#2d7921"/>
<rect x="56.3" y="338.6" width="27" height="1.8" fill="#2d7721"/>
<rect x="83.1" y="338.6" width="27" height="1.8" fill="#329324"/>
<rect x="109.8" y="338.6" width="27" height="1.8" fill="#371b19"/>
<rect x="136.5" y="338.6" width="27" height="1.8" fill="#ae1f1d"/>
<rect x="163.3" y="338.6" width="27" height="1.8" fill="#e2211f"/>
<rect x="29.6" y="340.1" width="27" height="1.8" fill="#285e1e"/>
<rect x="56.3" y="340.1" width="27" height="1.8" fill="#329124"/>
<rect x="83.1" y="340.1" width="27" height="1.8" fill="#2c7320"/>
<rect x="109.8" y="340.1" width="27" height="1.8" fill="#1c2116"/>
<rect x="136.5" y="340.1" width="27" height="1.8" fill="#a11f1d"/>
<rect x="163.3" y="340.1" width="27" height="1.8" fill="#c0201e"/>
<rect x="29.6" y="341.6" width="27" height="1.8" fill="#2d7b21"/>
<rect x="56.3" y="341.6" width="27" height="1.8" fill="#36aa27"/>
<rect x="83.1" y="341.6" width="27" height="1.8" fill="#2d7a21"/>
<rect x="109.8" y="341.6" width="27" height="1.8" fill="#321a18"/>
<rect x="136.5" y="341.6" width="27" height="1.8" fill="#851e1c"/>
<rect x="163.3" y="341.6" width="27" height="1.8" fill="#c1201e"/>
<rect x="29.6" y="343.2" width="27" height="1.8" fill="#2e7f22"/>
<rect x="56.3" y="343.2" width="27" height="1.8" fill="#2e8022"/>
<rect x="83.1" y="343.2" width="27" height="1.8" fill="#2c7320"/>
<rect x="109.8" y="343.2" width="27" height="1.8" fill="#691d1b"/>
<rect x="136.5" y="343.2" width="27" height="1.8" fill="#ad1f1d"/>
<rect x="163.3" y="343.2" width="27" height="1.8" fill="#701d1b"/>
<rect x="29.6" y="344.7" width="27" height="1.8" fill="#2d7b21"/>
<rect x="56.3" y="344.7" width="27" height="1.8" fill="#2c7220"/>
<rect x="83.1" y="344.7" width="27" height="1.8" fill="#29651f"/>
<rect x="109.8" y="344.7" width="27" height="1.8" fill="#751d1b"/>
<rect x="136.5" y="344.7" width="27" height="1.8" fill="#9b1e1c"/>
<rect x="163.3" y="344.7" width="27" height="1.8" fill="#761d1b"/>
<rect x="29.6" y="346.2" width="27" height="1.8" fill="#329324"/>
<rect x="56.3" y="346.2" width="27" height="1.8" fill="#2f8222"/>
<rect x="83.1" y="346.2" width="27" height="1.8" fill="#26521c"/>
<rect x="109.8" y="346.2" width="27" height="1.8" fill="#761d1b"/>
<rect x="136.5" y="346.2" width="27" height="1.8" fill="#ad1f1d"/>
<rect x="163.3" y="346.2" width="27" height="1.8" fill="#961e1c"/>
<rect x="29.6" y="347.7" width="27" height="1.8" fill="#29621e"/>
<rect x="56.3" y="347.7" width="27" height="1.8" fill="#2e7c22"/>
<rect x="83.1" y="347.7" width="27" height="1.8" fill="#2b6f20"/>
<rect x="109.8" y="347.7" width="27" height="1.8" fill="#771d1b"/>
<rect x="136.5" y="347.7" width="27" height="1.8" fill="#df211f"/>
<rect x="163.3" y="347.7" width="27" height="1.8" fill="#8f1e1c"/>
<rect x="29.6" y="349.2" width="27" height="1.8" fill="#2d7921"/>
<rect x="56.3" y="349.2" width="27" height="1.8" fill="#2a671f"/>
<rect x="83.1" y="349.2" width="27" height="1.8" fill="#308a23"/>
<rect x="109.8" y="349.2" width="27" height="1.8" fill="#961e1c"/>
<rect x="136.5" y="349.2" width="27" height="1.8" fill="#da211f"/>
<rect x="163.3" y="349.2" width="27" height="1.8" fill="#5f1c1a"/>
<rect x="29.6" y="350.7" width="27" height="1.8" fill="#2b6e20"/>
<rect x="56.3" y="350.7" width="27" height="1.8" fill="#2f8423"/>
<rect x="83.1" y="350.7" width="27" height="1.8" fill="#2d7a21"/>
<rect x="109.8" y="350.7" width="27" height="1.8" fill="#781d1b"/>
<rect x="136.5" y="350.7" width="27" height="1.8" fill="#561c1a"/>
<rect x="163.3" y="350.7" width="27" height="1.8" fill="#ad1f1d"/>
<rect x="29.6" y="352.2" width="27" height="1.8" fill="#2d7821"/>
<rect x="56.3" y="352.2" width="27" height="1.8" fill="#2b6c20"/>
<rect x="83.1" y="352.2" width="27" height="1.8" fill="#308723"/>
<rect x="109.8" y="352.2" width="27" height="1.8" fill="#731d1b"/>
<rect x="136.5" y="352.2" width="27" height="1.8" fill="#8a1e1c"/>
<rect x="163.3" y="352.2" width="27" height="1.8" fill="#4f1c1a"/>
<rect x="29.6" y="353.7" width="27" height="1.8" fill="#27571d"/>
<rect x="56.3" y="353.7" width="27" height="1.8" fill="#2a671f"/>
<rect x="83.1" y="353.7" width="27" height="1.8" fill="#29631e"/>
<rect x="109.8" y="353.7" width="27" height="1.8" fill="#8e1e1c"/>
<rect x="136.5" y="353.7" width="27" height="1.8" fill="#8c1e1c"/>
<rect x="163.3" y="353.7" width="27" height="1.8" fill="#921e1c"/>
<rect x="29.6" y="355.2" width="27" height="1.8" fill="#23411a"/>
<rect x="56.3" y="355.2" width="27" height="1.8" fill="#29611e"/>
<rect x="83.1" y="355.2" width="27" height="1.8" fill="#2c7621"/>
<rect x="109.8" y="355.2" width="27" height="1.8" fill="#621c1a"/>
<rect x="136.5" y="355.2" width="27" height="1.8" fill="#ac1f1d"/>
<rect x="163.3" y="355.2" width="27" height="1.8" fill="#271a18"/>
<rect x="29.6" y="356.7" width="27" height="1.8" fill="#29641f"/>
<rect x="56.3" y="356.7" width="27" height="1.8" fill="#2f8423"/>
<rect x="83.1" y="356.7" width="27" height="1.8" fill="#2e7f22"/>
<rect x="109.8" y="356.7" width="27" height="1.8" fill="#9b1e1c"/>
<rect x="136.5" y="356.7" width="27" height="1.8" fill="#c7201e"/>
<rect x="163.3" y="356.7" width="27" height="1.8" fill="#7b1d1b"/>
<rect x="29.6" y="358.2" width="27" height="1.8" fill="#308823"/>
<rect x="56.3" y="358.2" width="27" height="1.8" fill="#339625"/>
<rect x="83.1" y="358.2" width="27" height="1.8" fill="#318e24"/>
<rect x="109.8" y="358.2" width="27" height="1.8" fill="#8e1e1c"/>
<rect x="136.5" y="358.2" width="27" height="1.8" fill="#a21f1d"/>
<rect x="163.3" y="358.2" width="27" height="1.8" fill="#6e1d1b"/>
<rect x="29.6" y="359.7" width="27" height="1.8" fill="#2c7521"/>
<rect x="56.3" y="359.7" width="27" height="1.8" fill="#2e7e22"/>
<rect x="83.1" y="359.7" width="27" height="1.8" fill="#329224"/>
<rect x="109.8" y="359.7" width="27" height="1.8" fill="#751d1b"/>
<rect x="136.5" y="359.7" width="27" height="1.8" fill="#c0201e"/>
<rect x="163.3" y="359.7" width="27" height="1.8" fill="#c2201e"/>
<rect x="29.6" y="361.2" width="27" height="1.8" fill="#2f8222"/>
<rect x="56.3" y="361.2" width="27" height="1.8" fill="#2d7821"/>
<rect x="83.1" y="361.2" width="27" height="1.8" fill="#319024"/>
<rect x="109.8" y="361.2" width="27" height="1.8" fill="#8e1e1c"/>
<rect x="136.5" y="361.2" width="27" height="1.8" fill="#941e1c"/>
<rect x="163.3" y="361.2" width="27" height="1.8" fill="#831e1c"/>
<rect x="29.6" y="362.7" width="27" height="1.8" fill="#28601e"/>
<rect x="56.3" y="362.7" width="27" height="1.8" fill="#2b6e20"/>
<rect x="83.1" y="362.7" width="27" height="1.8" fill="#2c7220"/>
<rect x="109.8" y="362.7" width="27" height="1.8" fill="#8b1e1c"/>
<rect x="136.5" y="362.7" width="27" height="1.8" fill="#ab1f1d"/>
<rect x="163.3" y="362.7" width="27" height="1.8" fill="#3f1b19"/>
<rect x="29.6" y="364.2" width="27" height="1.8" fill="#2b6f20"/>
<rect x="56.3" y="364.2" width="27" height="1.8" fill="#2f8222"/>
<rect x="83.1" y="364.2" width="27" height="1.8" fill="#285e1e"/>
<rect x="109.8" y="364.2" width="27" height="1.8" fill="#d9211f"/>
<rect x="136.5" y="364.2" width="27" height="1.8" fill="#7e1d1b"/>
<rect x="163.3" y="364.2" width="27" height="1.8" fill="#6e1d1b"/>
<rect x="29.6" y="365.8" width="27" height="1.8" fill="#29651f"/>
<rect x="56.3" y="365.8" width="27" height="1.8" fill="#2d7a21"/>
<rect x="83.1" y="365.8" width="27" height="1.8" fill="#2d7a21"/>
<rect x="109.8" y="365.8" width="27" height="1.8" fill="#ed2220"/>
<rect x="136.5" y="365.8" width="27" height="1.8" fill="#6c1d1b"/>
<rect x="163.3" y="365.8" width="27" height="1.8" fill="#7f1d1b"/>
<rect x="29.6" y="367.3" width="27" height="1.8" fill="#285f1e"/>
<rect x="56.3" y="367.3" width="27" height="1.8" fill="#2b7020"/>
<rect x="83.1" y="367.3" width="27" height="1.8" fill="#2c7220"/>
<rect x="109.8" y="367.3" width="27" height="1.8" fill="#df211f"/>
<rect x="136.5" y="367.3" width="27" height="1.8" fill="#213b19"/>
<rect x="163.3" y="367.3" width="27" height="1.8" fill="#a81f1d"/>
<rect x="29.6" y="368.8" width="27" height="1.8" fill="#2e7e22"/>
<rect x="56.3" y="368.8" width="27" height="1.8" fill="#2b6f20"/>
<rect x="83.1" y="368.8" width="27" height="1.8" fill="#2f8623"/>
<rect x="109.8" y="368.8" width="27" height="1.8" fill="#da211f"/>
<rect x="136.5" y="368.8" width="27" height="1.8" fill="#261a18"/>
<rect x="163.3" y="368.8" width="27" height="1.8" fill="#a11f1d"/>
<rect x="29.6" y="370.3" width="27" height="1.8" fill="#2f8623"/>
<rect x="56.3" y="370.3" width="27" height="1.8" fill="#29621e"/>
<rect x="83.1" y="370.3" width="27" height="1.8" fill="#2d7821"/>
<rect x="109.8" y="370.3" width="27" height="1.8" fill="#df211f"/>
<rect x="136.5" y="370.3" width="27" height="1.8" fill="#381b19"/>
<rect x="163.3" y="370.3" width="27" height="1.8" fill="#651c1a"/>
<rect x="29.6" y="371.8" width="27" height="1.8" fill="#2b7020"/>
<rect x="56.3" y="371.8" width="27" height="1.8" fill="#2e7f22"/>
<rect x="83.1" y="371.8" width="27" height="1.8" fill="#2e7c22"/>
<rect x="109.8" y="371.8" width="27" height="1.8" fill="#c1201e"/>
<rect x="136.5" y="371.8" width="27" height="1.8" fill="#471b19"/>
<rect x="163.3" y="371.8" width="27" height="1.8" fill="#8f1e1c"/>
<rect x="29.6" y="373.3" width="27" height="1.8" fill="#318e24"/>
<rect x="56.3" y="373.3" width="27" height="1.8" fill="#318d24"/>
<rect x="83.1" y="373.3" width="27" height="1.8" fill="#318f24"/>
<rect x="109.8" y="373.3" width="27" height="1.8" fill="#db211f"/>
<rect x="136.5" y="373.3" width="27" height="1.8" fill="#401b19"/>
<rect x="163.3" y="373.3" width="27" height="1.8" fill="#541c1a"/>
<rect x="29.6" y="374.8" width="27" height="1.8" fill="#2f8222"/>
<rect x="56.3" y="374.8" width="27" height="1.8" fill="#2d7721"/>
<rect x="83.1" y="374.8" width="27" height="1.8" fill="#329124"/>
<rect x="109.8" y="374.8" width="27" height="1.8" fill="#dd211f"/>
<rect x="136.5" y="374.8" width="27" height="1.8" fill="#b01f1d"/>
<rect x="163.3" y="374.8" width="27" height="1.8" fill="#3b1b19"/>
<rect x="29.6" y="376.3" width="27" height="1.8" fill="#308623"/>
<rect x="56.3" y="376.3" width="27" height="1.8" fill="#2e8022"/>
<rect x="83.1" y="376.3" width="27" height="1.8" fill="#2d7721"/>
<rect x="109.8" y="376.3" width="27" height="1.8" fill="#ed2220"/>
<rect x="136.5" y="376.3" width="27" height="1.8" fill="#521c1a"/>
<rect x="163.3" y="376.3" width="27" height="1.8" fill="#3d1b19"/>
<rect x="29.6" y="377.8" width="27" height="1.8" fill="#319024"/>
<rect x="56.3" y="377.8" width="27" height="1.8" fill="#38b429"/>
<rect x="83.1" y="377.8" width="27" height="1.8" fill="#349c26"/>
<rect x="109.8" y="377.8" width="27" height="1.8" fill="#ef2220"/>
<rect x="136.5" y="377.8" width="27" height="1.8" fill="#241a18"/>
<rect x="163.3" y="377.8" width="27" height="1.8" fill="#651c1a"/>
<rect x="29.6" y="379.3" width="27" height="1.8" fill="#2b7020"/>
<rect x="56.3" y="379.3" width="27" height="1.8" fill="#2f8423"/>
<rect x="83.1" y="379.3" width="27" height="1.8" fill="#339825"/>
<rect x="109.8" y="379.3" width="27" height="1.8" fill="#fc2220"/>
<rect x="136.5" y="379.3" width="27" height="1.8" fill="#701d1b"/>
<rect x="163.3" y="379.3" width="27" height="1.8" fill="#5e1c1a"/>
<rect x="29.6" y="380.8" width="27" height="1.8" fill="#329425"/>
<rect x="56.3" y="380.8" width="27" height="1.8" fill="#2d7821"/>
<rect x="83.1" y="380.8" width="27" height="1.8" fill="#339725"/>
<rect x="109.8" y="380.8" width="27" height="1.8" fill="#be201e"/>
<rect x="136.5" y="380.8" width="27" height="1.8" fill="#531c1a"/>
<rect x="163.3" y="380.8" width="27" height="1.8" fill="#521c1a"/>
<rect x="29.6" y="382.3" width="27" height="1.8" fill="#2c7320"/>
<rect x="56.3" y="382.3" width="27" height="1.8" fill="#2d7a21"/>
<rect x="83.1" y="382.3" width="27" height="1.8" fill="#2e7f22"/>
<rect x="109.8" y="382.3" width="27" height="1.8" fill="#da211f"/>
<rect x="136.5" y="382.3" width="27" height="1.8" fill="#221a18"/>
<rect x="163.3" y="382.3" width="27" height="1.8" fill="#4d1b19"/>
<rect x="29.6" y="383.8" width="27" height="1.8" fill="#2b6d20"/>
<rect x="56.3" y="383.8" width="27" height="1.8" fill="#285d1e"/>
<rect x="83.1" y="383.8" width="27" height="1.8" fill="#35a226"/>
<rect x="109.8" y="383.8" width="27" height="1.8" fill="#ec2220"/>
<rect x="136.5" y="383.8" width="27" height="1.8" fill="#341a18"/>
<rect x="163.3" y="383.8" width="27" height="1.8" fill="#751d1b"/>
<rect x="29.6" y="385.3" width="27" height="1.8" fill="#2f8523"/>
<rect x="56.3" y="385.3" width="27" height="1.8" fill="#2e7f22"/>
<rect x="83.1" y="385.3" width="27" height="1.8" fill="#2d7b21"/>
<rect x="109.8" y="385.3" width="27" height="1.8" fill="#d7211f"/>
<rect x="136.5" y="385.3" width="27" height="1.8" fill="#541c1a"/>
<rect x="163.3" y="385.3" width="27" height="1.8" fill="#6f1d1b"/>
<rect x="29.6" y="386.8" width="27" height="1.8" fill="#2a681f"/>
<rect x="56.3" y="386.8" width="27" height="1.8" fill="#308823"/>
<rect x="83.1" y="386.8" width="27" height="1.8" fill="#2b6d20"/>
<rect x="109.8" y="386.8" width="27" height="1.8" fill="#db211f"/>
<rect x="136.5" y="386.8" width="27" height="1.8" fill="#211a18"/>
<rect x="163.3" y="386.8" width="27" height="1.8" fill="#301a18"/>
<rect x="29.6" y="388.4" width="27" height="1.8" fill="#28601e"/>
<rect x="56.3" y="388.4" width="27" height="1.8" fill="#2a6a1f"/>
<rect x="83.1" y="388.4" width="27" height="1.8" fill="#318c24"/>
<rect x="109.8" y="388.4" width="27" height="1.8" fill="#e4211f"/>
<rect x="136.5" y="388.4" width="27" height="1.8" fill="#321a18"/>
<rect x="163.3" y="388.4" width="27" height="1.8" fill="#631c1a"/>
<rect x="29.6" y="389.9" width="27" height="1.8" fill="#25501c"/>
<rect x="56.3" y="389.9" width="27" height="1.8" fill="#2e7e22"/>
<rect x="83.1" y="389.9" width="27" height="1.8" fill="#29631e"/>
<rect x="109.8" y="389.9" width="27" height="1.8" fill="#cc201e"/>
<rect x="136.5" y="389.9" width="27" height="1.8" fill="#4e1b19"/>
<rect x="163.3" y="389.9" width="27" height="1.8" fill="#441b19"/>
<rect x="29.6" y="391.4" width="27" height="1.8" fill="#27571d"/>
<rect x="56.3" y="391.4" width="27" height="1.8" fill="#2c7521"/>
<rect x="83.1" y="391.4" width="27" height="1.8" fill="#308723"/>
<rect x="109.8" y="391.4" width="27" height="1.8" fill="#c5201e"/>
<rect x="136.5" y="391.4" width="27" height="1.8" fill="#491b19"/>
<rect x="163.3" y="391.4" width="27" height="1.8" fill="#6a1d1b"/>
<rect x="29.6" y="392.9" width="27" height="1.8" fill="#29641f"/>
<rect x="56.3" y="392.9" width="27" height="1.8" fill="#2f8523"/>
<rect x="83.1" y="392.9" width="27" height="1.8" fill="#2b6c20"/>
<rect x="109.8" y="392.9" width="27" height="1.8" fill="#da211f"/>
<rect x="136.5" y="392.9" width="27" height="1.8" fill="#4c1b19"/>
<rect x="163.3" y="392.9" width="27" height="1.8" fill="#5d1c1a"/>
<rect x="29.6" y="394.4" width="27" height="1.8" fill="#26521c"/>
<rect x="56.3" y="394.4" width="27" height="1.8" fill="#2e8022"/>
<rect x="83.1" y="394.4" width="27" height="1.8" fill="#2d7b21"/>
<rect x="109.8" y="394.4" width="27" height="1.8" fill="#d7211f"/>
<rect x="136.5" y="394.4" width="27" height="1.8" fill="#451b19"/>
<rect x="163.3" y="394.4" width="27" height="1.8" fill="#5b1c1a"/>
<rect x="29.6" y="395.9" width="27" height="1.8" fill="#2e7c22"/>
<rect x="56.3" y="395.9" width="27" height="1.8" fill="#339825"/>
<rect x="83.1" y="395.9" width="27" height="1.8" fill="#2c7421"/>
<rect x="109.8" y="395.9" width="27" height="1.8" fill="#be201e"/>
<rect x="136.5" y="395.9" width="27" height="1.8" fill="#581c1a"/>
<rect x="163.3" y="395.9" width="27" height="1.8" fill="#571c1a"/>
<rect x="29.6" y="397.4" width="27" height="1.8" fill="#275b1d"/>
<rect x="56.3" y="397.4" width="27" height="1.8" fill="#2a6b1f"/>
<rect x="83.1" y="397.4" width="27" height="1.8" fill="#2c7120"/>
<rect x="109.8" y="397.4" width="27" height="1.8" fill="#c8201e"/>
<rect x="136.5" y="397.4" width="27" height="1.8" fill="#5a1c1a"/>
<rect x="163.3" y="397.4" width="27" height="1.8" fill="#901e1c"/>
<rect x="29.6" y="398.9" width="27" height="1.8" fill="#2b6c20"/>
<rect x="56.3" y="398.9" width="27" height="1.8" fill="#2c7220"/>
<rect x="83.1" y="398.9" width="27" height="1.8" fill="#24491b"/>
<rect x="109.8" y="398.9" width="27" height="1.8" fill="#d9211f"/>
<rect x="136.5" y="398.9" width="27" height="1.8" fill="#1f1a18"/>
<rect x="163.3" y="398.9" width="27" height="1.8" fill="#6e1d1b"/>
<rect x="29.6" y="400.4" width="27" height="1.8" fill="#2b7020"/>
<rect x="56.3" y="400.4" width="27" height="1.8" fill="#319024"/>
<rect x="83.1" y="400.4" width="27" height="1.8" fill="#285d1e"/>
<rect x="109.8" y="400.4" width="27" height="1.8" fill="#d6211f"/>
<rect x="136.5" y="400.4" width="27" height="1.8" fill="#a61f1d"/>
<rect x="163.3" y="400.4" width="27" height="1.8" fill="#311a18"/>
<rect x="29.6" y="401.9" width="27" height="1.8" fill="#285e1e"/>
<rect x="56.3" y="401.9" width="27" height="1.8" fill="#2b6e20"/>
<rect x="83.1" y="401.9" width="27" height="1.8" fill="#2d7921"/>
<rect x="109.8" y="401.9" width="27" height="1.8" fill="#e6211f"/>
<rect x="136.5" y="401.9" width="27" height="1.8" fill="#1c1d16"/>
<rect x="163.3" y="401.9" width="27" height="1.8" fill="#a01f1d"/>
<rect x="29.6" y="403.4" width="27" height="1.8" fill="#29661f"/>
<rect x="56.3" y="403.4" width="27" height="1.8" fill="#2c7521"/>
<rect x="83.1" y="403.4" width="27" height="1.8" fill="#26511c"/>
<rect x="109.8" y="403.4" width="27" height="1.8" fill="#fc2220"/>
<rect x="136.5" y="403.4" width="27" height="1.8" fill="#1c1a18"/>
<rect x="163.3" y="403.4" width="27" height="1.8" fill="#551c1a"/>
<rect x="29.6" y="404.9" width="27" height="1.8" fill="#329525"/>
<rect x="56.3" y="404.9" width="27" height="1.8" fill="#2e7f22"/>
<rect x="83.1" y="404.9" width="27" height="1.8" fill="#2f8523"/>
<rect x="109.8" y="404.9" width="27" height="1.8" fill="#e6211f"/>
<rect x="136.5" y="404.9" width="27" height="1.8" fill="#521c1a"/>
<rect x="163.3" y="404.9" width="27" height="1.8" fill="#241a18"/>
<rect x="29.6" y="406.4" width="27" height="1.8" fill="#2b6c20"/>
<rect x="56.3" y="406.4" width="27" height="1.8" fill="#2f8423"/>
<rect x="83.1" y="406.4" width="27" height="1.8" fill="#2a6b1f"/>
<rect x="109.8" y="406.4" width="27" height="1.8" fill="#c4201e"/>
<rect x="136.5" y="406.4" width="27" height="1.8" fill="#331a18"/>
<rect x="163.3" y="406.4" width="27" height="1.8" fill="#461b19"/>
<rect x="29.6" y="407.9" width="27" height="1.8" fill="#2e7e22"/>
<rect x="56.3" y="407.9" width="27" height="1.8" fill="#2e7e22"/>
<rect x="83.1" y="407.9" width="27" height="1.8" fill="#2b6f20"/>
<rect x="109.8" y="407.9" width="27" height="1.8" fill="#e0211f"/>
<rect x="136.5" y="407.9" width="27" height="1.8" fill="#5c1c1a"/>
<rect x="163.3" y="407.9" width="27" height="1.8" fill="#5a1c1a"/>
<rect x="29.6" y="409.4" width="27" height="1.8" fill="#2e7d22"/>
<rect x="56.3" y="409.4" width="27" height="1.8" fill="#329525"/>
<rect x="83.1" y="409.4" width="27" height="1.8" fill="#2f8423"/>
<rect x="109.8" y="409.4" width="27" height="1.8" fill="#d1211f"/>
<rect x="136.5" y="409.4" width="27" height="1.8" fill="#481b19"/>
<rect x="163.3" y="409.4" width="27" height="1.8" fill="#1c1c16"/>
<rect x="29.6" y="410.9" width="27" height="1.8" fill="#2e8122"/>
<rect x="56.3" y="410.9" width="27" height="1.8" fill="#2f8322"/>
<rect x="83.1" y="410.9" width="27" height="1.8" fill="#318c24"/>
<rect x="109.8" y="410.9" width="27" height="1.8" fill="#a21f1d"/>
<rect x="136.5" y="410.9" width="27" height="1.8" fill="#511c1a"/>
<rect x="163.3" y="410.9" width="27" height="1.8" fill="#651c1a"/>
<rect x="29.6" y="412.5" width="27" height="1.8" fill="#2a671f"/>
<rect x="56.3" y="412.5" width="27" height="1.8" fill="#318c24"/>
<rect x="83.1" y="412.5" width="27" height="1.8" fill="#2c7220"/>
<rect x="109.8" y="412.5" width="27" height="1.8" fill="#a51f1d"/>
<rect x="136.5" y="412.5" width="27" height="1.8" fill="#501c1a"/>
<rect x="163.3" y="412.5" width="27" height="1.8" fill="#781d1b"/>
<rect x="29.6" y="414" width="27" height="1.8" fill="#2a6a1f"/>
<rect x="56.3" y="414" width="27" height="1.8" fill="#2d7721"/>
<rect x="83.1" y="414" width="27" height="1.8" fill="#318f24"/>
<rect x="109.8" y="414" width="27" height="1.8" fill="#a41f1d"/>
<rect x="136.5" y="414" width="27" height="1.8" fill="#7b1d1b"/>
<rect x="163.3" y="414" width="27" height="1.8" fill="#3e1b19"/>
<rect x="29.6" y="415.5" width="27" height="1.8" fill="#308723"/>
<rect x="56.3" y="415.5" width="27" height="1.8" fill="#318c24"/>
<rect x="83.1" y="415.5" width="27" height="1.8" fill="#2d7821"/>
<rect x="109.8" y="415.5" width="27" height="1.8" fill="#971e1c"/>
<rect x="136.5" y="415.5" width="27" height="1.8" fill="#b8201e"/>
<rect x="163.3" y="415.5" width="27" height="1.8" fill="#541c1a"/>
<rect x="29.6" y="417" width="27" height="1.8" fill="#2c7521"/>
<rect x="56.3" y="417" width="27" height="1.8" fill="#2f8423"/>
<rect x="83.1" y="417" width="27" height="1.8" fill="#2c7220"/>
<rect x="109.8" y="417" width="27" height="1.8" fill="#b41f1d"/>
<rect x="136.5" y="417" width="27" height="1.8" fill="#491b19"/>
<rect x="163.3" y="417" width="27" height="1.8" fill="#461b19"/>
<rect x="29.6" y="418.5" width="27" height="1.8" fill="#29631e"/>
<rect x="56.3" y="418.5" width="27" height="1.8" fill="#2d7921"/>
<rect x="83.1" y="418.5" width="27" height="1.8" fill="#2b6e20"/>
<rect x="109.8" y="418.5" width="27" height="1.8" fill="#ab1f1d"/>
<rect x="136.5" y="418.5" width="27" height="1.8" fill="#421b19"/>
<rect x="163.3" y="418.5" width="27" height="1.8" fill="#621c1a"/>
<rect x="29.6" y="420" width="27" height="1.8" fill="#2a6a1f"/>
<rect x="56.3" y="420" width="27" height="1.8" fill="#2d7b21"/>
<rect x="83.1" y="420" width="27" height="1.8" fill="#2d7b21"/>
<rect x="109.8" y="420" width="27" height="1.8" fill="#bc201e"/>
<rect x="136.5" y="420" width="27" height="1.8" fill="#371b19"/>
<rect x="163.3" y="420" width="27" height="1.8" fill="#621c1a"/>
<rect x="29.6" y="421.5" width="27" height="1.8" fill="#2d7921"/>
<rect x="56.3" y="421.5" width="27" height="1.8" fill="#2d7921"/>
<rect x="83.1" y="421.5" width="27" height="1.8" fill="#2b6c20"/>
<rect x="109.8" y="421.5" width="27" height="1.8" fill="#8e1e1c"/>
<rect x="136.5" y="421.5" width="27" height="1.8" fill="#511c1a"/>
<rect x="163.3" y="421.5" width="27" height="1.8" fill="#541c1a"/>
</g>
<defs><linearGradient id="hmk" x1="0" y1="0" x2="0" y2="1"><stop offset="0" stop-color="#ff2418"/><stop offset="0.5" stop-color="#000"/><stop offset="1" stop-color="#3cff24"/></linearGradient></defs>
<rect x="192" y="260.5" width="4.6" height="78.2" fill="url(#hmk)"/>
<text x="198.4" y="264.2" font-family="Liberation Sans" font-size="8.2" fill="#222">2</text>
<text x="198.4" y="283.5" font-family="Liberation Sans" font-size="8.2" fill="#222">1</text>
<text x="198.4" y="302.8" font-family="Liberation Sans" font-size="8.2" fill="#222">0</text>
<text x="198.4" y="322.1" font-family="Liberation Sans" font-size="8.2" fill="#222">−1</text>
<text x="198.4" y="341.4" font-family="Liberation Sans" font-size="8.2" fill="#222">−2</text>
<path d="M69.7 260.3V257.4H96.4V260.3M43 260.3V256.2H83.1V257.4M149.9 260.3V256.2H176.6V260.3M123.2 260.3V252.3H163.3V256.2M63 256.2V246.4H143.2V252.3" fill="none" stroke="#888" stroke-width="0.7"/>
<path d="M29.4 261.1H28.6V262.6H29.4M29.4 265.6H28.5V267.1H29.4M29.4 264.1H28V266.3H28.5M28.6 261.8H26.8V265.2H28M29.4 270.1H28.2V271.6H29.4M29.4 268.6H27.4V270.8H28.2M26.8 263.5H26.3V269.7H27.4M29.4 273.1H28.9V274.6H29.4M29.4 276.1H28.3V277.6H29.4M29.4 279.1H28.5V280.6H29.4M29.4 282.1H28V283.7H29.4M28.5 279.9H26.8V282.9H28M28.3 276.9H26.2V281.4H26.8M28.9 273.9H25.7V279.1H26.2M26.3 266.6H24.7V276.5H25.7M29.4 286.7H28.6V288.2H29.4M29.4 285.2H27.6V287.4H28.6M29.4 289.7H28.8V291.2H29.4M27.6 286.3H26.6V290.4H28.8M29.4 292.7H28.1V294.2H29.4M29.4 300.2H28.5V301.7H29.4M29.4 298.7H27.6V301H28.5M29.4 297.2H26.9V299.8H27.6M29.4 295.7H26.2V298.5H26.9M28.1 293.4H25.7V297.1H26.2M26.6 288.4H25.1V295.3H25.7M29.4 303.2H28.4V304.7H29.4M29.4 306.2H28.2V307.8H29.4M28.4 304H27.5V307H28.2M29.4 310.8H28.4V312.3H29.4M29.4 309.3H27.9V311.5H28.4M27.5 305.5H26.9V310.4H27.9M25.1 291.8H24.4V307.9H26.9M24.7 271.6H23.4V299.9H24.4M29.4 313.8H28.1V315.3H29.4M29.4 321.3H28.6V322.8H29.4M29.4 319.8H27.4V322.1H28.6M29.4 318.3H26.8V320.9H27.4M29.4 316.8H26.1V319.6H26.8M28.1 314.5H25.3V318.2H26.1M29.4 324.3H28.6V325.8H29.4M29.4 328.8H29V330.4H29.4M29.4 327.3H27.9V329.6H29M28.6 325.1H27.1V328.5H27.9M25.3 316.4H24.3V326.8H27.1M29.4 333.4H29V334.9H29.4M29.4 331.9H28.2V334.1H29M29.4 337.9H28.2V339.4H29.4M29.4 336.4H27.1V338.6H28.2M29.4 340.9H28.7V342.4H29.4M29.4 343.9H28.8V345.4H29.4M29.4 346.9H28.5V348.4H29.4M28.8 344.7H27.4V347.7H28.5M28.7 341.6H26.5V346.2H27.4M27.1 337.5H25.2V343.9H26.5M28.2 333H24.1V340.7H25.2M24.3 321.6H22.9V336.8H24.1M29.4 349.9H28.3V351.4H29.4M29.4 354.5H28.4V356H29.4M29.4 352.9H27.8V355.2H28.4M28.3 350.7H26.5V354.1H27.8M29.4 357.5H28.4V359H29.4M29.4 360.5H28.5V362H29.4M28.4 358.2H27.5V361.2H28.5M26.5 352.4H25.6V359.7H27.5M29.4 365H28.3V366.5H29.4M29.4 368H29V369.5H29.4M28.3 365.8H27.4V368.8H29M29.4 363.5H26.7V367.3H27.4M25.6 356.1H24.6V365.4H26.7M29.4 372.5H28.5V374H29.4M29.4 371H27.2V373.3H28.5M29.4 378.6H28.8V380.1H29.4M29.4 377.1H27.6V379.3H28.8M29.4 375.5H26.4V378.2H27.6M27.2 372.2H25.8V376.9H26.4M29.4 384.6H28.6V386.1H29.4M29.4 383.1H27.8V385.3H28.6M29.4 381.6H26.5V384.2H27.8M25.8 374.5H25.2V382.9H26.5M24.6 360.7H23.5V378.7H25.2M22.9 329.2H21.9V369.7H23.5M29.4 389.1H28.8V390.6H29.4M29.4 387.6H27.8V389.9H28.8M29.4 392.1H28.8V393.6H29.4M27.8 388.7H26.9V392.9H28.8M29.4 396.6H28.5V398.1H29.4M29.4 395.1H27.8V397.4H28.5M29.4 402.7H28.9V404.2H29.4M29.4 401.2H28V403.4H28.9M29.4 399.6H27.1V402.3H28M27.8 396.3H26.1V401H27.1M26.9 390.8H24.9V398.6H26.1M29.4 405.7H28.8V407.2H29.4M29.4 408.7H28.3V410.2H29.4M28.8 406.4H27.3V409.4H28.3M29.4 411.7H28.6V413.2H29.4M29.4 414.7H28.3V416.2H29.4M28.6 412.5H27.4V415.5H28.3M29.4 417.7H28.2V419.2H29.4M29.4 420.7H28.5V422.2H29.4M28.2 418.5H27.2V421.5H28.5M27.4 414H26.6V420H27.2M27.3 407.9H25.6V417H26.6M24.9 394.7H24.3V412.5H25.6M21.9 349.5H21V403.6H24.3M23.4 285.7H15.3V376.5H21" fill="none" stroke="#6a6a6a" stroke-width="0.4"/>
<rect x="27.6" y="260.3" width="1.9" height="162.7" fill="#111" opacity="0.75"/>
<text x="70" y="242.7" font-family="Liberation Serif" font-size="13.8" text-anchor="middle" fill="#111">4T1-P</text>
<text x="149.2" y="242.7" font-family="Liberation Serif" font-size="13.8" text-anchor="middle" fill="#111">4T1-R</text>
<defs><clipPath id="vb"><circle cx="290.0" cy="303.4" r="45.2"/></clipPath><clipPath id="vg"><circle cx="366.1" cy="303.2" r="45.2"/></clipPath></defs>
<circle cx="290.0" cy="303.4" r="45.2" fill="#8a80fa"/>
<circle cx="366.1" cy="303.2" r="45.2" fill="#b4fcd8"/>
<circle cx="366.1" cy="303.2" r="45.2" fill="#7887fa" clip-path="url(#vb)"/>
<circle cx="329.5" cy="363.7" r="45.0" fill="#e08cda"/>
<circle cx="329.5" cy="363.7" r="45.0" fill="#c87adc" clip-path="url(#vb)"/>
<circle cx="329.5" cy="363.7" r="45.0" fill="#d297c9" clip-path="url(#vg)"/>
<g clip-path="url(#vb)"><circle cx="329.5" cy="363.7" r="45.0" fill="#c284d2" clip-path="url(#vg)"/></g>
<text x="286.6" y="307.5" font-family="Liberation Serif" font-size="10.8" text-anchor="middle" fill="#111">4T1-P VS 4T1-R</text>
<text x="366.3" y="307.4" font-family="Liberation Serif" font-size="10.66" text-anchor="middle" fill="#111">GSE91061</text>
<text x="328.4" y="366.6" font-family="Liberation Serif" font-size="10.85" text-anchor="middle" fill="#111">GSE78220</text>
<line x1="328.4" y1="321.5" x2="379" y2="367.1" stroke="#1a1a1a" stroke-width="1.3"/>
<path d="M377.4 361.4 L379.5 367.5 L373.6 366.4" fill="none" stroke="#1a1a1a" stroke-width="1.4" stroke-linejoin="miter"/>
<text x="383.3" y="364.7" font-family="Liberation Serif" font-size="10.6" font-weight="bold" fill="#ff1a1a">HILPDA</text>
<text x="383.3" y="378.2" font-family="Liberation Serif" font-size="10.6" fill="#111">RAB6B</text>
<text x="383.3" y="391.1" font-family="Liberation Serif" font-size="10.6" fill="#111">TUBB4A</text>
<text x="383.3" y="404" font-family="Liberation Serif" font-size="10.6" fill="#111">TMEM98</text>
<line x1="495.5" y1="286.9" x2="495.5" y2="379.1" stroke="#222" stroke-width="1.25"/>
<line x1="495" y1="378.6" x2="557.5" y2="378.6" stroke="#222" stroke-width="1.25"/>
<line x1="491.5" y1="378.6" x2="495.5" y2="378.6" stroke="#222" stroke-width="1.25"/>
<text x="490.9" y="381.3" font-family="Liberation Serif" font-size="7.8" font-weight="bold" text-anchor="end" fill="#111" stroke="#111" stroke-width="0.2">0</text>
<line x1="491.5" y1="355.8" x2="495.5" y2="355.8" stroke="#222" stroke-width="1.25"/>
<text x="490.9" y="358.5" font-family="Liberation Serif" font-size="7.8" font-weight="bold" text-anchor="end" fill="#111" stroke="#111" stroke-width="0.2">10</text>
<line x1="491.5" y1="333" x2="495.5" y2="333" stroke="#222" stroke-width="1.25"/>
<text x="490.9" y="335.7" font-family="Liberation Serif" font-size="7.8" font-weight="bold" text-anchor="end" fill="#111" stroke="#111" stroke-width="0.2">20</text>
<line x1="491.5" y1="310.2" x2="495.5" y2="310.2" stroke="#222" stroke-width="1.25"/>
<text x="490.9" y="312.9" font-family="Liberation Serif" font-size="7.8" font-weight="bold" text-anchor="end" fill="#111" stroke="#111" stroke-width="0.2">30</text>
<line x1="491.5" y1="287.4" x2="495.5" y2="287.4" stroke="#222" stroke-width="1.25"/>
<text x="490.9" y="290.1" font-family="Liberation Serif" font-size="7.8" font-weight="bold" text-anchor="end" fill="#111" stroke="#111" stroke-width="0.2">40</text>
<rect x="504.6" y="359.4" width="17.8" height="19.2" fill="#ede0c0" stroke="#777" stroke-width="0.5"/>
<line x1="513.5" y1="372.2" x2="513.5" y2="345.8" stroke="#666" stroke-width="0.75"/>
<line x1="509.5" y1="372.2" x2="517.5" y2="372.2" stroke="#666" stroke-width="0.75"/>
<line x1="509.5" y1="345.8" x2="517.5" y2="345.8" stroke="#666" stroke-width="0.75"/>
<line x1="513.5" y1="378.6" x2="513.5" y2="382.8" stroke="#222" stroke-width="1.25"/>
<rect x="531.2" y="348" width="17.5" height="30.6" fill="#c47e84" stroke="#777" stroke-width="0.5"/>
<line x1="540" y1="367.3" x2="540" y2="328.2" stroke="#666" stroke-width="0.75"/>
<line x1="536" y1="367.3" x2="544" y2="367.3" stroke="#666" stroke-width="0.75"/>
<line x1="536" y1="328.2" x2="544" y2="328.2" stroke="#666" stroke-width="0.75"/>
<line x1="540" y1="378.6" x2="540" y2="382.8" stroke="#222" stroke-width="1.25"/>
<text x="526.6" y="266.4" font-family="Liberation Serif" font-size="7.9" font-weight="bold" text-anchor="middle" fill="#111" stroke="#111" stroke-width="0.2">GSE78220</text>
<line x1="513.3" y1="293.4" x2="540.3" y2="293.4" stroke="#222" stroke-width="1.0"/>
<text x="526.6" y="292.1" font-family="Liberation Serif" font-size="8" font-weight="bold" text-anchor="middle">*</text>
<text x="469.5" y="331.7" font-family="Liberation Serif" font-size="7.9" font-weight="bold" text-anchor="middle" fill="#111" stroke="#111" stroke-width="0.2" transform="rotate(-90 469.5 331.7)">mRNA expression of HILPDA</text>
<text x="515.5" y="388.5" font-family="Liberation Serif" font-size="7.6" font-weight="bold" text-anchor="end" fill="#111" stroke="#111" stroke-width="0.2" transform="rotate(-45 515.5 388.5)">Responsive</text>
<text x="542.5" y="388.5" font-family="Liberation Serif" font-size="7.6" font-weight="bold" text-anchor="end" fill="#111" stroke="#111" stroke-width="0.2" transform="rotate(-45 542.5 388.5)">Resistant</text>
<line x1="600.6" y1="286.6" x2="600.6" y2="378.3" stroke="#222" stroke-width="1.25"/>
<line x1="600.1" y1="377.8" x2="662" y2="377.8" stroke="#222" stroke-width="1.25"/>
<line x1="596.6" y1="377.8" x2="600.6" y2="377.8" stroke="#222" stroke-width="1.25"/>
<text x="596" y="380.5" font-family="Liberation Serif" font-size="7.8" font-weight="bold" text-anchor="end" fill="#111" stroke="#111" stroke-width="0.2">0</text>
<line x1="596.6" y1="359.7" x2="600.6" y2="359.7" stroke="#222" stroke-width="1.25"/>
<text x="596" y="362.3" font-family="Liberation Serif" font-size="7.8" font-weight="bold" text-anchor="end" fill="#111" stroke="#111" stroke-width="0.2">5</text>
<line x1="596.6" y1="341.5" x2="600.6" y2="341.5" stroke="#222" stroke-width="1.25"/>
<text x="596" y="344.2" font-family="Liberation Serif" font-size="7.8" font-weight="bold" text-anchor="end" fill="#111" stroke="#111" stroke-width="0.2">10</text>
<line x1="596.6" y1="323.4" x2="600.6" y2="323.4" stroke="#222" stroke-width="1.25"/>
<text x="596" y="326" font-family="Liberation Serif" font-size="7.8" font-weight="bold" text-anchor="end" fill="#111" stroke="#111" stroke-width="0.2">15</text>
<line x1="596.6" y1="305.2" x2="600.6" y2="305.2" stroke="#222" stroke-width="1.25"/>
<text x="596" y="307.9" font-family="Liberation Serif" font-size="7.8" font-weight="bold" text-anchor="end" fill="#111" stroke="#111" stroke-width="0.2">20</text>
<line x1="596.6" y1="287.1" x2="600.6" y2="287.1" stroke="#222" stroke-width="1.25"/>
<text x="596" y="289.8" font-family="Liberation Serif" font-size="7.8" font-weight="bold" text-anchor="end" fill="#111" stroke="#111" stroke-width="0.2">25</text>
<rect x="609.7" y="349.6" width="16.6" height="28.2" fill="#ede0c0" stroke="#777" stroke-width="0.5"/>
<line x1="618" y1="366.2" x2="618" y2="333.3" stroke="#666" stroke-width="0.75"/>
<line x1="614" y1="366.2" x2="622" y2="366.2" stroke="#666" stroke-width="0.75"/>
<line x1="614" y1="333.3" x2="622" y2="333.3" stroke="#666" stroke-width="0.75"/>
<line x1="618" y1="377.8" x2="618" y2="382" stroke="#222" stroke-width="1.25"/>
<rect x="635.1" y="343.1" width="17.5" height="34.7" fill="#c47e84" stroke="#777" stroke-width="0.5"/>
<line x1="643.9" y1="359.6" x2="643.9" y2="326.5" stroke="#666" stroke-width="0.75"/>
<line x1="639.9" y1="359.6" x2="647.9" y2="359.6" stroke="#666" stroke-width="0.75"/>
<line x1="639.9" y1="326.5" x2="647.9" y2="326.5" stroke="#666" stroke-width="0.75"/>
<line x1="643.9" y1="377.8" x2="643.9" y2="382" stroke="#222" stroke-width="1.25"/>
<text x="630.2" y="265.9" font-family="Liberation Serif" font-size="7.9" font-weight="bold" text-anchor="middle" fill="#111" stroke="#111" stroke-width="0.2">GSE91061</text>
<line x1="617.2" y1="292.7" x2="644.2" y2="292.7" stroke="#444" stroke-width="1.3"/>
<text x="630.7" y="291.2" font-family="Liberation Serif" font-size="8" font-weight="bold" text-anchor="middle">*</text>
<text x="575" y="331.7" font-family="Liberation Serif" font-size="7.9" font-weight="bold" text-anchor="middle" fill="#111" stroke="#111" stroke-width="0.2" transform="rotate(-90 575 331.7)">mRNA expression of HILPDA</text>
<text x="620.5" y="387.7" font-family="Liberation Serif" font-size="7.6" font-weight="bold" text-anchor="end" fill="#111" stroke="#111" stroke-width="0.2" transform="rotate(-45 620.5 387.7)">Responsive</text>
<text x="647.2" y="387.7" font-family="Liberation Serif" font-size="7.6" font-weight="bold" text-anchor="end" fill="#111" stroke="#111" stroke-width="0.2" transform="rotate(-45 647.2 387.7)">Resistant</text>
<rect x="41.5" y="478.1" width="166.6" height="161.1" fill="none" stroke="#777" stroke-width="0.8"/>
<line x1="38.3" y1="633.2" x2="41.5" y2="633.2" stroke="#777" stroke-width="0.7"/>
<text transform="translate(34.7 633.2) rotate(-90) scale(0.93 1)" font-family="Liberation Sans" font-size="9.6" text-anchor="middle" stroke="#000" stroke-width="0.15">0.0</text>
<line x1="38.3" y1="603.3" x2="41.5" y2="603.3" stroke="#777" stroke-width="0.7"/>
<text transform="translate(34.7 603.3) rotate(-90) scale(0.93 1)" font-family="Liberation Sans" font-size="9.6" text-anchor="middle" stroke="#000" stroke-width="0.15">0.2</text>
<line x1="38.3" y1="573.4" x2="41.5" y2="573.4" stroke="#777" stroke-width="0.7"/>
<text transform="translate(34.7 573.4) rotate(-90) scale(0.93 1)" font-family="Liberation Sans" font-size="9.6" text-anchor="middle" stroke="#000" stroke-width="0.15">0.4</text>
<line x1="38.3" y1="543.5" x2="41.5" y2="543.5" stroke="#777" stroke-width="0.7"/>
<text transform="translate(34.7 543.5) rotate(-90) scale(0.93 1)" font-family="Liberation Sans" font-size="9.6" text-anchor="middle" stroke="#000" stroke-width="0.15">0.6</text>
<line x1="38.3" y1="513.6" x2="41.5" y2="513.6" stroke="#777" stroke-width="0.7"/>
<text transform="translate(34.7 513.6) rotate(-90) scale(0.93 1)" font-family="Liberation Sans" font-size="9.6" text-anchor="middle" stroke="#000" stroke-width="0.15">0.8</text>
<line x1="38.3" y1="483.7" x2="41.5" y2="483.7" stroke="#777" stroke-width="0.7"/>
<text transform="translate(34.7 483.7) rotate(-90) scale(0.93 1)" font-family="Liberation Sans" font-size="9.6" text-anchor="middle" stroke="#000" stroke-width="0.15">1.0</text>
<line x1="41.5" y1="639.2" x2="41.5" y2="642.4" stroke="#777" stroke-width="0.7"/>
<text x="41.5" y="649.8" font-family="Liberation Sans" font-size="9.7" text-anchor="middle" stroke="#000" stroke-width="0.18">0</text>
<line x1="69.2" y1="639.2" x2="69.2" y2="642.4" stroke="#777" stroke-width="0.7"/>
<text x="69.2" y="649.8" font-family="Liberation Sans" font-size="9.7" text-anchor="middle" stroke="#000" stroke-width="0.18">20</text>
<line x1="96.9" y1="639.2" x2="96.9" y2="642.4" stroke="#777" stroke-width="0.7"/>
<text x="96.9" y="649.8" font-family="Liberation Sans" font-size="9.7" text-anchor="middle" stroke="#000" stroke-width="0.18">40</text>
<line x1="124.6" y1="639.2" x2="124.6" y2="642.4" stroke="#777" stroke-width="0.7"/>
<text x="124.6" y="649.8" font-family="Liberation Sans" font-size="9.7" text-anchor="middle" stroke="#000" stroke-width="0.18">60</text>
<line x1="152.3" y1="639.2" x2="152.3" y2="642.4" stroke="#777" stroke-width="0.7"/>
<text x="152.3" y="649.8" font-family="Liberation Sans" font-size="9.7" text-anchor="middle" stroke="#000" stroke-width="0.18">80</text>
<line x1="180" y1="639.2" x2="180" y2="642.4" stroke="#777" stroke-width="0.7"/>
<text x="180" y="649.8" font-family="Liberation Sans" font-size="9.7" text-anchor="middle" stroke="#000" stroke-width="0.18">100</text>
<text x="52.9" y="473.2" font-family="Liberation Sans" font-size="9.85" stroke="#000" stroke-width="0.18">Continuous z= 2.84 , p= 0.00446</text>
<text x="124.5" y="662.2" font-family="Liberation Sans" font-size="9.85" text-anchor="middle" stroke="#000" stroke-width="0.18">OS (month)</text>
<text x="22.5" y="558.7" font-family="Liberation Sans" font-size="9.8" text-anchor="middle" stroke="#000" stroke-width="0.18" transform="rotate(-90 22.5 558.7)">Survival Fraction</text>
<path d="M41.5 483.7H52.6V484.7H55.4V485.8H58.1V486.8H60.9V487.9H63.7V488.9H66.4V490H69.2V491H72V492.1H76.1V494.2H80.3V495.2H84.4V497.2H87.2V499.4H90V502.4H92.7V505.2H95.5V507.6H103.8V509.1H108V511.4H112.1V513.6H117.7V515.1H121.8V517.3H124.6V519.6H171.7V528.6H200.2V581.3H200.8V581.3" fill="none" stroke="#2222ee" stroke-width="0.95" stroke-dasharray="2.8 2.2"/>
<path d="M137.6 519.6h3.2M139.2 518v3.2M155.7 519.6h3.2M157.3 518v3.2M163.8 519.6h3.2M165.4 518v3.2M186.3 528.6h3.2M187.9 527v3.2M155.4 519.6h3.2M157 518v3.2M183.2 528.6h3.2M184.8 527v3.2M47.1 483.7h3.2M48.7 482.1v3.2M113.6 513.6h3.2M115.2 512v3.2M186.4 528.6h3.2M188 527v3.2M141.5 519.6h3.2M143.1 518v3.2M179.9 528.6h3.2M181.5 527v3.2M59.9 487.9h3.2M61.5 486.3v3.2M114.1 513.6h3.2M115.7 512v3.2M80.2 495.2h3.2M81.8 493.6v3.2M125.5 519.6h3.2M127.1 518v3.2M130.1 519.6h3.2M131.7 518v3.2M44.7 483.7h3.2M46.3 482.1v3.2M75.7 494.2h3.2M77.3 492.6v3.2M85.2 497.2h3.2M86.8 495.6v3.2M182.3 528.6h3.2M183.9 527v3.2M159.3 519.6h3.2M160.9 518v3.2M67 490h3.2M68.6 488.4v3.2M164.1 519.6h3.2M165.7 518v3.2M63.8 488.9h3.2M65.4 487.3v3.2M136.7 519.6h3.2M138.3 518v3.2M62 487.9h3.2M63.6 486.3v3.2M42.9 483.7h3.2M44.5 482.1v3.2M175.4 528.6h3.2M177 527v3.2M74.6 494.2h3.2M76.2 492.6v3.2M75.5 494.2h3.2M77.1 492.6v3.2M192.3 528.6h3.2M193.9 527v3.2M175.6 528.6h3.2M177.2 527v3.2M86.7 499.4h3.2M88.3 497.8v3.2M189.2 528.6h3.2M190.8 527v3.2M124.8 519.6h3.2M126.4 518v3.2M145.9 519.6h3.2M147.5 518v3.2M73.9 492.1h3.2M75.5 490.5v3.2M186 528.6h3.2M187.6 527v3.2M147.9 519.6h3.2M149.5 518v3.2M189.9 528.6h3.2M191.5 527v3.2M178.8 528.6h3.2M180.4 527v3.2M88.2 499.4h3.2M89.8 497.8v3.2M97.7 507.6h3.2M99.3 506v3.2M68 491h3.2M69.6 489.4v3.2M64.9 490h3.2M66.5 488.4v3.2M52.6 484.7h3.2M54.2 483.1v3.2M88.6 502.4h3.2M90.2 500.8v3.2M134.6 519.6h3.2M136.2 518v3.2M43.2 483.7h3.2M44.8 482.1v3.2M146 519.6h3.2M147.6 518v3.2M94.1 507.6h3.2M95.7 506v3.2M89.9 502.4h3.2M91.5 500.8v3.2M167.4 519.6h3.2M169 518v3.2M115.9 513.6h3.2M117.5 512v3.2M90.8 502.4h3.2M92.4 500.8v3.2M116 513.6h3.2M117.6 512v3.2M150 519.6h3.2M151.6 518v3.2M51.4 484.7h3.2M53 483.1v3.2M191.2 528.6h3.2M192.8 527v3.2M46.2 483.7h3.2M47.8 482.1v3.2" fill="none" stroke="#2222ee" stroke-width="0.8"/>
<path d="M41.5 483.7H52.7V494.2H55.4V505.1H60.3V521.1H91.4V577.1H152.3V577.1" fill="none" stroke="#ff2a2a" stroke-width="1.0"/>
<path d="M44.1 483.7h3.2M45.7 482.1v3.2M46.8 483.7h3.2M48.4 482.1v3.2M49.6 483.7h3.2M51.2 482.1v3.2M55.1 505.1h3.2M56.7 503.5v3.2M60.7 521.1h3.2M62.3 519.5v3.2M85.6 521.1h3.2M87.2 519.5v3.2M150.7 577.1h3.2M152.3 575.5v3.2" fill="none" stroke="#ff2a2a" stroke-width="0.8"/>
<text x="59.5" y="618.7" font-family="Liberation Sans" font-size="9.95" fill="#ff2a2a" stroke="#ff2a2a" stroke-width="0.18">HILPDA Top (n=16)</text>
<text x="59.5" y="630.6" font-family="Liberation Sans" font-size="9.95" fill="#2222ee" stroke="#2222ee" stroke-width="0.18">HILPDA Bottom (n=140)</text>
<rect x="260.7" y="476.4" width="165.6" height="159.8" fill="none" stroke="#777" stroke-width="0.8"/>
<line x1="257.5" y1="630.4" x2="260.7" y2="630.4" stroke="#777" stroke-width="0.7"/>
<text transform="translate(253.9 630.4) rotate(-90) scale(0.93 1)" font-family="Liberation Sans" font-size="9.6" text-anchor="middle" stroke="#000" stroke-width="0.15">0.0</text>
<line x1="257.5" y1="600.6" x2="260.7" y2="600.6" stroke="#777" stroke-width="0.7"/>
<text transform="translate(253.9 600.6) rotate(-90) scale(0.93 1)" font-family="Liberation Sans" font-size="9.6" text-anchor="middle" stroke="#000" stroke-width="0.15">0.2</text>
<line x1="257.5" y1="570.8" x2="260.7" y2="570.8" stroke="#777" stroke-width="0.7"/>
<text transform="translate(253.9 570.8) rotate(-90) scale(0.93 1)" font-family="Liberation Sans" font-size="9.6" text-anchor="middle" stroke="#000" stroke-width="0.15">0.4</text>
<line x1="257.5" y1="541" x2="260.7" y2="541" stroke="#777" stroke-width="0.7"/>
<text transform="translate(253.9 541) rotate(-90) scale(0.93 1)" font-family="Liberation Sans" font-size="9.6" text-anchor="middle" stroke="#000" stroke-width="0.15">0.6</text>
<line x1="257.5" y1="511.2" x2="260.7" y2="511.2" stroke="#777" stroke-width="0.7"/>
<text transform="translate(253.9 511.2) rotate(-90) scale(0.93 1)" font-family="Liberation Sans" font-size="9.6" text-anchor="middle" stroke="#000" stroke-width="0.15">0.8</text>
<line x1="257.5" y1="481.4" x2="260.7" y2="481.4" stroke="#777" stroke-width="0.7"/>
<text transform="translate(253.9 481.4) rotate(-90) scale(0.93 1)" font-family="Liberation Sans" font-size="9.6" text-anchor="middle" stroke="#000" stroke-width="0.15">1.0</text>
<line x1="260.6" y1="636.2" x2="260.6" y2="639.4" stroke="#777" stroke-width="0.7"/>
<text x="260.6" y="646.8" font-family="Liberation Sans" font-size="9.7" text-anchor="middle" stroke="#000" stroke-width="0.18">0</text>
<line x1="288.3" y1="636.2" x2="288.3" y2="639.4" stroke="#777" stroke-width="0.7"/>
<text x="288.3" y="646.8" font-family="Liberation Sans" font-size="9.7" text-anchor="middle" stroke="#000" stroke-width="0.18">20</text>
<line x1="316" y1="636.2" x2="316" y2="639.4" stroke="#777" stroke-width="0.7"/>
<text x="316" y="646.8" font-family="Liberation Sans" font-size="9.7" text-anchor="middle" stroke="#000" stroke-width="0.18">40</text>
<line x1="343.7" y1="636.2" x2="343.7" y2="639.4" stroke="#777" stroke-width="0.7"/>
<text x="343.7" y="646.8" font-family="Liberation Sans" font-size="9.7" text-anchor="middle" stroke="#000" stroke-width="0.18">60</text>
<line x1="371.4" y1="636.2" x2="371.4" y2="639.4" stroke="#777" stroke-width="0.7"/>
<text x="371.4" y="646.8" font-family="Liberation Sans" font-size="9.7" text-anchor="middle" stroke="#000" stroke-width="0.18">80</text>
<line x1="399.1" y1="636.2" x2="399.1" y2="639.4" stroke="#777" stroke-width="0.7"/>
<text x="399.1" y="646.8" font-family="Liberation Sans" font-size="9.7" text-anchor="middle" stroke="#000" stroke-width="0.18">100</text>
<text x="277.8" y="471.4" font-family="Liberation Sans" font-size="9.85" stroke="#000" stroke-width="0.18">Continuous z= 2.16 , p= 0.031</text>
<text x="344" y="659" font-family="Liberation Sans" font-size="9.85" text-anchor="middle" stroke="#000" stroke-width="0.18">OS (month)</text>
<text x="242.4" y="556.3" font-family="Liberation Sans" font-size="9.8" text-anchor="middle" stroke="#000" stroke-width="0.18" transform="rotate(-90 242.4 556.3)">Survival Fraction</text>
<path d="M260.6 481.4H295.2V488.9H313.2V497.8H419.9V497.8" fill="none" stroke="#3333ff" stroke-width="0.95" stroke-dasharray="2.8 2.2"/>
<path d="M274.2 481.4h3.2M275.8 479.8v3.2M277 481.4h3.2M278.6 479.8v3.2M279.8 481.4h3.2M281.4 479.8v3.2M282.5 481.4h3.2M284.1 479.8v3.2M285.3 481.4h3.2M286.9 479.8v3.2M296.4 488.9h3.2M298 487.2v3.2M300.6 488.9h3.2M302.2 487.2v3.2M304.7 488.9h3.2M306.3 487.2v3.2M308.9 488.9h3.2M310.5 487.2v3.2M314.4 497.8h3.2M316 496.2v3.2M318.6 497.8h3.2M320.2 496.2v3.2M328.2 497.8h3.2M329.9 496.2v3.2M332.4 497.8h3.2M334 496.2v3.2M342.1 497.8h3.2M343.7 496.2v3.2M343.5 497.8h3.2M345.1 496.2v3.2M362.9 497.8h3.2M364.5 496.2v3.2M365.6 497.8h3.2M367.2 496.2v3.2M372.6 497.8h3.2M374.2 496.2v3.2M378.1 497.8h3.2M379.7 496.2v3.2M379.5 497.8h3.2M381.1 496.2v3.2M404.4 497.8h3.2M406 496.2v3.2M416.9 497.8h3.2M418.5 496.2v3.2" fill="none" stroke="#3333ff" stroke-width="0.8"/>
<path d="M260.6 481.4H271.7V482.9H274.5V484.4H277.2V485.9H280V487.4H282.8V488.9H284.1V490.3H285.5V493.3H288.3V496.3H291.1V497.8H302.2V500.8H304.9V503.8H307.7V506.7H310.5V509.7H313.2V513.4H327.1V517.2H329.9V519.4H332.6V521.6H338.2V524.6H342.3V527.6H390.8V537.1H418.5V630.4" fill="none" stroke="#ff2a2a" stroke-width="1.2"/>
<path d="M261.8 481.4h3.2M263.4 479.8v3.2M264.5 481.4h3.2M266.1 479.8v3.2M267.3 481.4h3.2M268.9 479.8v3.2M275.6 485.9h3.2M277.2 484.3v3.2M279.8 487.4h3.2M281.4 485.8v3.2M285.3 493.3h3.2M286.9 491.7v3.2M288.1 496.3h3.2M289.7 494.7v3.2M290.9 497.8h3.2M292.5 496.2v3.2M293.6 497.8h3.2M295.2 496.2v3.2M296.4 497.8h3.2M298 496.2v3.2M297.8 497.8h3.2M299.4 496.2v3.2M300.6 500.8h3.2M302.2 499.2v3.2M304.7 503.8h3.2M306.3 502.1v3.2M307.5 506.7h3.2M309.1 505.1v3.2M313 513.4h3.2M314.6 511.8v3.2M317.2 513.4h3.2M318.8 511.8v3.2M319.9 513.4h3.2M321.5 511.8v3.2M324.1 513.4h3.2M325.7 511.8v3.2M329.6 519.4h3.2M331.2 517.8v3.2M333.8 521.6h3.2M335.4 520v3.2M339.3 524.6h3.2M340.9 523v3.2M342.1 527.6h3.2M343.7 526v3.2M344.9 527.6h3.2M346.5 526v3.2M347.6 527.6h3.2M349.2 526v3.2M350.4 527.6h3.2M352 526v3.2M353.2 527.6h3.2M354.8 526v3.2M355.9 527.6h3.2M357.6 526v3.2M357.3 527.6h3.2M358.9 526v3.2M358.7 527.6h3.2M360.3 526v3.2M360.1 527.6h3.2M361.7 526v3.2M362.9 527.6h3.2M364.5 526v3.2M365.6 527.6h3.2M367.2 526v3.2M368.4 527.6h3.2M370 526v3.2M375.3 527.6h3.2M376.9 526v3.2M378.1 527.6h3.2M379.7 526v3.2M392 537.1h3.2M393.6 535.5v3.2M397.5 537.1h3.2M399.1 535.5v3.2M403 537.1h3.2M404.6 535.5v3.2M405.8 537.1h3.2M407.4 535.5v3.2M408.6 537.1h3.2M410.2 535.5v3.2M410 537.1h3.2M411.6 535.5v3.2M411.4 537.1h3.2M413 535.5v3.2" fill="none" stroke="#ff2a2a" stroke-width="0.8"/>
<text x="277.8" y="610" font-family="Liberation Sans" font-size="9.95" fill="#ff2a2a" stroke="#ff2a2a" stroke-width="0.18">HILPDA Top (n=128)</text>
<text x="277.8" y="625.7" font-family="Liberation Sans" font-size="9.95" fill="#3333ff" stroke="#3333ff" stroke-width="0.18">HILPDA Bottom (n=24)</text>
<rect x="476.4" y="474.2" width="167.9" height="162" fill="none" stroke="#777" stroke-width="0.8"/>
<line x1="473.2" y1="630.4" x2="476.4" y2="630.4" stroke="#777" stroke-width="0.7"/>
<text transform="translate(469.6 630.4) rotate(-90) scale(0.93 1)" font-family="Liberation Sans" font-size="9.6" text-anchor="middle" stroke="#000" stroke-width="0.15">0.0</text>
<line x1="473.2" y1="600.4" x2="476.4" y2="600.4" stroke="#777" stroke-width="0.7"/>
<text transform="translate(469.6 600.4) rotate(-90) scale(0.93 1)" font-family="Liberation Sans" font-size="9.6" text-anchor="middle" stroke="#000" stroke-width="0.15">0.2</text>
<line x1="473.2" y1="570.4" x2="476.4" y2="570.4" stroke="#777" stroke-width="0.7"/>
<text transform="translate(469.6 570.4) rotate(-90) scale(0.93 1)" font-family="Liberation Sans" font-size="9.6" text-anchor="middle" stroke="#000" stroke-width="0.15">0.4</text>
<line x1="473.2" y1="540.4" x2="476.4" y2="540.4" stroke="#777" stroke-width="0.7"/>
<text transform="translate(469.6 540.4) rotate(-90) scale(0.93 1)" font-family="Liberation Sans" font-size="9.6" text-anchor="middle" stroke="#000" stroke-width="0.15">0.6</text>
<line x1="473.2" y1="510.4" x2="476.4" y2="510.4" stroke="#777" stroke-width="0.7"/>
<text transform="translate(469.6 510.4) rotate(-90) scale(0.93 1)" font-family="Liberation Sans" font-size="9.6" text-anchor="middle" stroke="#000" stroke-width="0.15">0.8</text>
<line x1="473.2" y1="480.4" x2="476.4" y2="480.4" stroke="#777" stroke-width="0.7"/>
<text transform="translate(469.6 480.4) rotate(-90) scale(0.93 1)" font-family="Liberation Sans" font-size="9.6" text-anchor="middle" stroke="#000" stroke-width="0.15">1.0</text>
<line x1="476.4" y1="636.2" x2="476.4" y2="639.4" stroke="#777" stroke-width="0.7"/>
<text x="476.4" y="646.8" font-family="Liberation Sans" font-size="9.7" text-anchor="middle" stroke="#000" stroke-width="0.18">0</text>
<line x1="507.5" y1="636.2" x2="507.5" y2="639.4" stroke="#777" stroke-width="0.7"/>
<text x="507.5" y="646.8" font-family="Liberation Sans" font-size="9.7" text-anchor="middle" stroke="#000" stroke-width="0.18">1000</text>
<line x1="538.6" y1="636.2" x2="538.6" y2="639.4" stroke="#777" stroke-width="0.7"/>
<text x="538.6" y="646.8" font-family="Liberation Sans" font-size="9.7" text-anchor="middle" stroke="#000" stroke-width="0.18">2000</text>
<line x1="569.7" y1="636.2" x2="569.7" y2="639.4" stroke="#777" stroke-width="0.7"/>
<text x="569.7" y="646.8" font-family="Liberation Sans" font-size="9.7" text-anchor="middle" stroke="#000" stroke-width="0.18">3000</text>
<line x1="600.8" y1="636.2" x2="600.8" y2="639.4" stroke="#777" stroke-width="0.7"/>
<text x="600.8" y="646.8" font-family="Liberation Sans" font-size="9.7" text-anchor="middle" stroke="#000" stroke-width="0.18">4000</text>
<line x1="631.9" y1="636.2" x2="631.9" y2="639.4" stroke="#777" stroke-width="0.7"/>
<text x="631.9" y="646.8" font-family="Liberation Sans" font-size="9.7" text-anchor="middle" stroke="#000" stroke-width="0.18">5000</text>
<text x="490.8" y="468.7" font-family="Liberation Sans" font-size="9.85" stroke="#000" stroke-width="0.18">Continuous z= 2.03 , p= 0.0425</text>
<text x="575.4" y="658.2" text-anchor="middle" font-size="9.85" fill="#000"><tspan font-family="Liberation Sans" stroke="#000" stroke-width="0.18">OS </tspan><tspan font-family="Liberation Serif" font-size="10.8">(days)</tspan></text>
<text x="457.6" y="555.2" font-family="Liberation Sans" font-size="9.8" text-anchor="middle" stroke="#000" stroke-width="0.18" transform="rotate(-90 457.6 555.2)">Survival Fraction</text>
<path d="M476.4 480.4H485.5V481.1H490.4V482.6H495.7V485.9H498.2V487.9H502.2V490.8H505.3V493.9H508.3V497.8H511.5V501.4H515.3V504.8H518.4V505.9H522.3V507.4H526.2V509.6H529.4V511H535.5V511.9H545.1V512.3H548.6V515.4H638.5V515.4" fill="none" stroke="#2a2aff" stroke-width="0.95" stroke-dasharray="2.8 2.2"/>
<path d="M495 485.9h3.2M496.6 484.3v3.2M502.8 490.8h3.2M504.4 489.1v3.2M509 497.8h3.2M510.6 496.2v3.2M515.2 504.8h3.2M516.8 503.2v3.2M518.3 505.9h3.2M519.9 504.3v3.2M521.4 507.4h3.2M523 505.8v3.2M524.6 509.6h3.2M526.2 508v3.2M527.7 509.6h3.2M529.3 508v3.2M530.8 511h3.2M532.4 509.4v3.2M533.9 511.9h3.2M535.5 510.3v3.2M537 511.9h3.2M538.6 510.3v3.2M538.6 511.9h3.2M540.2 510.3v3.2M540.1 511.9h3.2M541.7 510.3v3.2M541.7 511.9h3.2M543.3 510.3v3.2M543.2 511.9h3.2M544.8 510.3v3.2M549.4 515.4h3.2M551 513.8v3.2M552.5 515.4h3.2M554.1 513.8v3.2M554.1 515.4h3.2M555.7 513.8v3.2M555.7 515.4h3.2M557.3 513.8v3.2M557.2 515.4h3.2M558.8 513.8v3.2M558.8 515.4h3.2M560.4 513.8v3.2M561.9 515.4h3.2M563.5 513.8v3.2M565 515.4h3.2M566.6 513.8v3.2M566.5 515.4h3.2M568.1 513.8v3.2M568.1 515.4h3.2M569.7 513.8v3.2M571.2 515.4h3.2M572.8 513.8v3.2M572.8 515.4h3.2M574.4 513.8v3.2M574.3 515.4h3.2M575.9 513.8v3.2M577.4 515.4h3.2M579 513.8v3.2M580.5 515.4h3.2M582.1 513.8v3.2M582.1 515.4h3.2M583.7 513.8v3.2M586.8 515.4h3.2M588.4 513.8v3.2M593 515.4h3.2M594.6 513.8v3.2M594.5 515.4h3.2M596.1 513.8v3.2M602.3 515.4h3.2M603.9 513.8v3.2M608.5 515.4h3.2M610.1 513.8v3.2M611.6 515.4h3.2M613.2 513.8v3.2M617.9 515.4h3.2M619.5 513.8v3.2M624.1 515.4h3.2M625.7 513.8v3.2M627.2 515.4h3.2M628.8 513.8v3.2M636.9 515.4h3.2M638.5 513.8v3.2" fill="none" stroke="#2a2aff" stroke-width="0.8"/>
<path d="M476.4 480.4H481.5V488.2H495.4V496.6H500.4V505.1H502.2V513.5H507.1V521.8H509.2V538.4H520.9V546.5H523.2V554.8H527.2V565.4H619.7V565.4" fill="none" stroke="#ff7070" stroke-width="1.2"/>
<path d="M476.7 480.4h3.2M478.3 478.8v3.2M527.7 565.4h3.2M529.3 563.8v3.2M539.8 565.4h3.2M541.4 563.8v3.2M554.1 565.4h3.2M555.7 563.8v3.2M558.8 565.4h3.2M560.4 563.8v3.2M603.9 565.4h3.2M605.5 563.8v3.2M618.1 565.4h3.2M619.7 563.8v3.2" fill="none" stroke="#ff7070" stroke-width="0.8"/>
<text x="494.7" y="615.7" font-family="Liberation Sans" font-size="9.95" fill="#ff2a2a" stroke="#ff2a2a" stroke-width="0.18">HILPDA Top (n=19)</text>
<text x="494.7" y="627.4" font-family="Liberation Sans" font-size="9.95" fill="#2a2aff" stroke="#2a2aff" stroke-width="0.18">HILPDA Bottom (n=88)</text>
<defs>
<filter id="gb1" x="0" y="0" width="1" height="1" filterUnits="objectBoundingBox"><feTurbulence type="fractalNoise" baseFrequency="0.75" numOctaves="2" seed="3" result="t"/><feColorMatrix in="t" type="matrix" values="0 0 0 0 0.36  0 0 0 0 0.4  0 0 0 0 0.74  9 0 0 0 -5.2"/><feComposite in2="SourceGraphic" operator="in"/></filter>
<filter id="gr1" x="0" y="0" width="1" height="1" filterUnits="objectBoundingBox"><feTurbulence type="fractalNoise" baseFrequency="0.65" numOctaves="2" seed="8" result="t"/><feColorMatrix in="t" type="matrix" values="0 0 0 0 0.62  0 0 0 0 0.5  0 0 0 0 0.42  0 9 0 0 -5.3"/><feComposite in2="SourceGraphic" operator="in"/></filter>
<filter id="gw1" x="0" y="0" width="1" height="1" filterUnits="objectBoundingBox"><feTurbulence type="fractalNoise" baseFrequency="0.8" numOctaves="2" seed="5" result="t"/><feColorMatrix in="t" type="matrix" values="0 0 0 0 1  0 0 0 0 1  0 0 0 0 1  0 0 9 0 -5.0"/><feComposite in2="SourceGraphic" operator="in"/></filter>
<filter id="gb2" x="0" y="0" width="1" height="1" filterUnits="objectBoundingBox"><feTurbulence type="fractalNoise" baseFrequency="0.42" numOctaves="2" seed="13" result="t"/><feColorMatrix in="t" type="matrix" values="0 0 0 0 0.33  0 0 0 0 0.38  0 0 0 0 0.76  9 0 0 0 -5.4"/><feComposite in2="SourceGraphic" operator="in"/></filter>
<filter id="gr2" x="0" y="0" width="1" height="1" filterUnits="objectBoundingBox"><feTurbulence type="fractalNoise" baseFrequency="0.38" numOctaves="2" seed="18" result="t"/><feColorMatrix in="t" type="matrix" values="0 0 0 0 0.64  0 0 0 0 0.52  0 0 0 0 0.44  0 9 0 0 -5.2"/><feComposite in2="SourceGraphic" operator="in"/></filter>
<filter id="gw2" x="0" y="0" width="1" height="1" filterUnits="objectBoundingBox"><feTurbulence type="fractalNoise" baseFrequency="0.45" numOctaves="2" seed="15" result="t"/><feColorMatrix in="t" type="matrix" values="0 0 0 0 1  0 0 0 0 1  0 0 0 0 1  0 0 9 0 -5.0"/><feComposite in2="SourceGraphic" operator="in"/></filter>
</defs>
<defs><clipPath id="ihcj1"><rect x="34.2" y="716.8" width="87.6" height="70.2"/></clipPath><filter id="blj1" x="-20%" y="-20%" width="140%" height="140%"><feGaussianBlur stdDeviation="2.2"/></filter><mask id="mkj1"><rect x="34.2" y="716.8" width="87.6" height="70.2" fill="#aaa"/><g filter="url(#blj1)" fill="#fff"><ellipse cx="60.5" cy="734.3" rx="26.3" ry="14"/><ellipse cx="99.9" cy="751.9" rx="26.3" ry="21.1"/><ellipse cx="73.6" cy="776.5" rx="30.7" ry="10.5"/><ellipse cx="43" cy="765.9" rx="13.1" ry="14"/></g></mask></defs>
<g clip-path="url(#ihcj1)">
<rect x="34.2" y="716.8" width="87.6" height="70.2" fill="#e0dfeb"/>
<g filter="url(#blj1)" fill="#d8d3da"><ellipse cx="60.5" cy="734.3" rx="26.3" ry="14"/><ellipse cx="99.9" cy="751.9" rx="26.3" ry="21.1"/><ellipse cx="73.6" cy="776.5" rx="30.7" ry="10.5"/><ellipse cx="43" cy="765.9" rx="13.1" ry="14"/></g>
<g mask="url(#mkj1)">
<rect x="34.2" y="716.8" width="87.6" height="70.2" fill="#000" filter="url(#gr1)" opacity="0.4"/>
<rect x="34.2" y="716.8" width="87.6" height="70.2" fill="#000" filter="url(#gb1)" opacity="0.8"/>
</g>
<rect x="34.2" y="716.8" width="87.6" height="70.2" fill="#000" filter="url(#gw1)" opacity="0.55"/>
<path d="M120.1 722.5h0M84.2 774.3h0M103.4 743h0M104 758.9h0M91.7 716.8h0M44.2 770.4h0M97.2 721.9h0M95.1 781.7h0M88 744.7h0M41 718h0M112.3 751.2h0M45.9 764.9h0M51.5 771.6h0M121.1 756.5h0M64.4 771.6h0M88.8 760.8h0M103.2 723.5h0M65.5 744.6h0M56.9 756h0M60.9 761.9h0M90 749h0M90.9 773.2h0M96.6 754.1h0M109.5 738.7h0M100.9 778.3h0M66.4 776.3h0M82.5 747.2h0M97.5 763.1h0M64.7 748h0M64.9 730.8h0M45.5 781h0M73.3 725.2h0M65.8 747.3h0M66.9 736.2h0M40.5 742.4h0M76.2 739.6h0M39.7 738.4h0M101.4 747h0M91.5 736.2h0M51.3 760.1h0M91.5 778.2h0M73.2 742.5h0M60.6 725.1h0M93.1 766.1h0M34.5 786.7h0M37.9 749.5h0M105.6 754h0M115.4 725.6h0M103.1 759.4h0M55.9 753.4h0M119.5 747.9h0M52.1 780.2h0M46.4 784.4h0M97.9 756.4h0M77.1 718.9h0M108.8 745.6h0M73.3 742h0M86 770.7h0M66.6 757.5h0M35 777.7h0M91.9 785.6h0M57.8 740.1h0M120 727h0M112.7 736.2h0M97.4 716.8h0M100.7 781.3h0M75.1 723.9h0M43.8 739.6h0M79.3 749.6h0M53.6 721.4h0M45.3 785.8h0M97 748.8h0M47.9 778.2h0M83.9 754.2h0M42.2 734.3h0M53.6 722.8h0M71.1 768.8h0M116.7 733.9h0M71.2 772.3h0M82 748.6h0M73.5 722.5h0M102.5 724.9h0M47.2 723.8h0M60.3 763.1h0M54.3 781.4h0M104.5 736.6h0M87.4 749h0M85.9 781.7h0M92.6 740.6h0M64.3 773.9h0M52 740.3h0M63.6 727.9h0M114.9 770.9h0M59.7 748.9h0M115.3 718.2h0M50.5 785.3h0M87.3 774.7h0M56.7 738.2h0M111.5 774.9h0M64.2 724.1h0M38.4 729.7h0M74.3 786.7h0M56.3 735.6h0M65.4 729h0M113.1 728.4h0M69.9 782.4h0M46.3 762.1h0M73.8 720h0M42.9 722h0M116.3 724h0M106.1 730.9h0M103.7 756.4h0M118.5 718.5h0M71.5 770.5h0M73.2 767.8h0M50.4 777.1h0M114.1 738.9h0M45.1 764.2h0M89.2 745.9h0M118.8 774.5h0M42 759.8h0M39.5 755.8h0M57.9 774.4h0M116.7 722.5h0M117.9 784.6h0M50.1 766.8h0M43.3 728h0M66.7 775.9h0M112.8 772.1h0M87.2 764.3h0M115.9 747.7h0M108.9 718.3h0M36.9 768.5h0M97.1 767.2h0M50 745.9h0M73.1 729.1h0M103.8 748.2h0M65.3 783.8h0M75.9 771.5h0M108.2 746.4h0M45.6 754.6h0M50.9 738.9h0M92.9 781.2h0M72.6 766.1h0M84.2 760.7h0M52 771.8h0M90.1 746.4h0M110.9 744.6h0M106.1 755.7h0M63.4 783.8h0M94.5 779.3h0M43.9 772.7h0M116.8 753.3h0M73 756.2h0M89.6 777.3h0M52.1 777.1h0M98.2 730.6h0M109.9 757.2h0M81.3 717.7h0M116.7 773.2h0M39.5 728.6h0M102.3 748.6h0M36.4 728h0M38.9 739.2h0M48.3 729.3h0M74.3 775.6h0M95.9 767.1h0M103.9 751.9h0M49 736.3h0M86.7 751.8h0M48.9 768.6h0M95.7 726.7h0M104.2 754.6h0M109.7 750.4h0M49 775.5h0M50.9 760.6h0M73.2 738.7h0M121.4 784.3h0M76.8 743.3h0M82 737h0M106.8 755.8h0M52 729.8h0M96 736.9h0M118 782.2h0M53.4 770.5h0M89.6 745.6h0M49.3 759h0M81.7 768.9h0M110.2 781.4h0M65.8 752.2h0M49.6 767.4h0M36.2 744.4h0M39.5 718.4h0M104.7 775.7h0M54 761.6h0M54.4 739.9h0M44 786h0M119.3 765.4h0M43.9 764.6h0M78.7 748.6h0" stroke="#a98466" stroke-width="1.0" stroke-linecap="round" opacity="0.35" fill="none"/>
<path d="M48.6 765.2h0M78.4 733.4h0M98.9 778.2h0M66.5 727.7h0M115.5 748.6h0M85.1 768h0M112 745.6h0M68 786.6h0M42.4 767.2h0M77.3 755.4h0M87.5 755.9h0M49.1 741.2h0M86.5 738.3h0M93.4 779.9h0M102 750.7h0M56.8 737.1h0M80.2 767.9h0M35.1 764.9h0M45.9 723.5h0M45.3 754.6h0M53.4 728.5h0M61.7 719.7h0M100.8 748.3h0M90.7 747.9h0M69.4 732.6h0M97.6 748.8h0M34.8 738.7h0M46.9 755.6h0M116.9 768.9h0M117.9 766.2h0M62.4 734.6h0M93.9 730.8h0M67.4 782.8h0M88.3 736.5h0M58.1 730h0M80.6 720.3h0M63.8 735.7h0M89.1 779.3h0M79 764.4h0M65.9 722.6h0M81.5 774h0M36.6 746.5h0M80 779.6h0M100 762.5h0M121.2 743.3h0M60.1 732.1h0M96.7 732.1h0M91.1 742.6h0M39.3 765.7h0M67 761.5h0M64.5 769.8h0M79.2 732.5h0M85.3 722.9h0M104.2 739.8h0M52 765.9h0M55.4 758.9h0M65.5 771.9h0M112.3 770.9h0M102.2 767.3h0M64.1 763.4h0M104.4 720.5h0M62.7 772.5h0M61.2 724.7h0M54.5 743.1h0M66.1 730.7h0M63.1 729.9h0M73.6 768.5h0M55.8 786.8h0M91.6 747h0M45.5 743.9h0M60.1 748.1h0M68.5 767.9h0M95.7 775.4h0M46 741h0M34.5 740.7h0M42.7 782h0M99.6 768h0M44.8 773.3h0M50.5 737.7h0M40.2 780.8h0M44.4 754.2h0M51.9 733.7h0M82.8 784.9h0M57.1 765.4h0M39.4 742.2h0M49 744.7h0M49.9 724.8h0M56.1 741.9h0M100.9 778.9h0M96.2 735.4h0M46.4 755.2h0M77.2 780.2h0M77.4 746h0M52.3 728.6h0M94.4 775.3h0M67.7 741h0M91.5 718.6h0M119.1 755.5h0M55.6 763.5h0M48.6 754h0M114.6 726.9h0M109 738.8h0M64.7 746.2h0M68 731.4h0M69.9 762.1h0M47.2 778.1h0M76.4 783.2h0M57.5 782.5h0M55.8 749.8h0M63.5 767.9h0M96.5 747.4h0M97.4 751.2h0M109.5 755.5h0" stroke="#6a74c0" stroke-width="0.8" stroke-linecap="round" opacity="0.7" fill="none"/>
<path d="M53.1 772.4h0M54.5 733.1h0M63 751.7h0M76.7 729.9h0M54.8 771.6h0M105.5 771.3h0M120.8 784.3h0M77.2 743.2h0M40.3 740.5h0M99.5 750.4h0M86.9 746.7h0M61.2 754.3h0M86.2 762h0M56.7 745.3h0M73.3 726.7h0M96.4 755.4h0M34.9 749.4h0M49.6 766.7h0M113.1 737.5h0M117.3 723.7h0M98.5 784.7h0M80.3 756.2h0M119.8 741.7h0M43.6 722.1h0M41.7 750.5h0M112.2 771.5h0M92.7 777.1h0M55.7 781.2h0M90.4 764.7h0M35.9 752h0M95.6 733.7h0M42.5 738.5h0M66.6 726.3h0M82.5 732.6h0M115.2 778.8h0M100.7 730h0M87.3 760.3h0M39.3 719.4h0M91.4 727.9h0M81.4 745.5h0M52.9 719.6h0M77.5 728.2h0M113.6 764.5h0M113.3 754.2h0M68.4 782.9h0M35.2 741.5h0M100.4 762.2h0M81.2 778.7h0M82.8 771.2h0M92.5 731.6h0M55.2 746.6h0M67.3 751.2h0M85.6 773.2h0M92.4 757.6h0M51.5 732.8h0M76.5 720.7h0M78 749.2h0M86.6 765.5h0M67 734.4h0M112.2 722.2h0M47 775.1h0M111.3 762.8h0M86.3 748h0M90.5 748.7h0M38.4 729.9h0M108.4 732.3h0M84.7 774.2h0M35 738h0M94.7 760.9h0M51.7 719h0M63.7 763.6h0M94.8 750.5h0M108.3 727h0M119.7 728.5h0M58.1 735.5h0M77.9 766.1h0M38.5 761.5h0M89 738.7h0M89.6 774.3h0M49.4 757h0M108.4 760.4h0M53.2 744.6h0M114.6 749.2h0M50.6 760h0M76.8 780.6h0M61.3 726.7h0M72.8 757.1h0M61.7 735.2h0M107.5 763h0M94.3 738.9h0M81 769.6h0M80.5 780.3h0M57.4 769.5h0M56 734.8h0M89.3 724.9h0M52 754.6h0M71.9 746.3h0M59.8 743.3h0M121.1 782.2h0M71.7 720.8h0M54.7 729.8h0M54 770.9h0M97.4 764.1h0M108.5 750.6h0M37.9 728.4h0M90.6 748.2h0M64.2 764h0M67.6 762.6h0M69.4 769.6h0M43.1 744.8h0M103.9 746.8h0M102.3 743.5h0M113.4 730.1h0M100.5 736.7h0M42.1 736h0M117.1 749.8h0M63.1 732.8h0M89.3 754h0M104.6 744.8h0M86.7 758.8h0M115.4 736.5h0M96 766.6h0M57.8 760.9h0M61.1 767.3h0M49 719.4h0M119.9 735h0M103.7 741.1h0M56.2 750.9h0M76 762.3h0M90.6 763h0M108.5 740.7h0M57.6 753.9h0M35 759.3h0M47.9 764h0M107 753.2h0M105.4 752.7h0M40.9 778.9h0" stroke="#6a74c0" stroke-width="1.1" stroke-linecap="round" opacity="0.45" fill="none"/>
</g>
<defs><clipPath id="ihcj2"><rect x="125.6" y="716.2" width="88.4" height="70.8"/></clipPath><filter id="blj2" x="-20%" y="-20%" width="140%" height="140%"><feGaussianBlur stdDeviation="2.2"/></filter><mask id="mkj2"><rect x="125.6" y="716.2" width="88.4" height="70.8" fill="#888"/><g filter="url(#blj2)" fill="#fff"><ellipse cx="152.1" cy="755.1" rx="30.9" ry="21.2"/><ellipse cx="196.3" cy="733.9" rx="22.1" ry="14.2"/><ellipse cx="187.5" cy="769.3" rx="17.7" ry="14.2"/></g></mask></defs>
<g clip-path="url(#ihcj2)">
<rect x="125.6" y="716.2" width="88.4" height="70.8" fill="#e0e0ee"/>
<g filter="url(#blj2)" fill="#dcd6dc"><ellipse cx="152.1" cy="755.1" rx="30.9" ry="21.2"/><ellipse cx="196.3" cy="733.9" rx="22.1" ry="14.2"/><ellipse cx="187.5" cy="769.3" rx="17.7" ry="14.2"/></g>
<g mask="url(#mkj2)">
<rect x="125.6" y="716.2" width="88.4" height="70.8" fill="#000" filter="url(#gr2)" opacity="0.4"/>
<rect x="125.6" y="716.2" width="88.4" height="70.8" fill="#000" filter="url(#gb2)" opacity="0.55"/>
</g>
<rect x="125.6" y="716.2" width="88.4" height="70.8" fill="#000" filter="url(#gw2)" opacity="0.65"/>
<path d="M128.5 750h0M158.2 768.8h0M150 784.7h0M126.8 760h0M149 738.7h0M156.2 742.8h0M143.1 725.7h0M187.5 729.9h0M132.9 745h0M178.7 762h0M187.1 772.9h0M125.7 782.1h0M213.4 770.2h0M179.3 764.1h0M210.3 769.2h0M176 739.3h0M179.9 785.8h0M196.7 782.2h0M204.9 717.2h0M127.7 728.8h0M175.3 747h0M192.4 721.5h0M150.3 773.9h0M199.7 777.5h0M175 775.8h0M197.9 778.5h0M133.3 760.4h0M206.3 739.4h0M175.9 746.9h0M169.5 745.5h0M148.3 747.1h0M211.4 767.9h0M158.7 762.9h0M127.2 743.6h0M194.1 763.4h0M204.9 745.1h0M134.3 721.2h0M132.9 766.1h0M163.8 762.8h0M151.4 748.3h0M176.8 758h0M185.8 776.7h0M180.3 737h0M188.3 729.9h0M139.3 746.9h0M144 774h0M149.2 748.3h0M181.7 780.2h0M211.3 736.7h0M187.1 731.4h0M169.8 750.9h0M141 724.2h0M138.9 762.3h0M178.5 732.4h0M210 741.6h0M173.6 779.6h0M194.7 750.9h0M149.6 755.9h0M128.7 763.7h0M182.5 766.9h0M183.3 762.3h0M185.1 765.3h0M200.5 741.5h0M142.6 719.3h0M174.1 776.8h0M140.2 786.5h0M146.8 760.3h0M183.1 775.6h0M148 735.6h0M180.4 773.9h0M187.1 780.4h0M159.2 779.5h0M198.4 722.2h0M134.7 756.1h0M179.3 728h0M169.4 738.3h0M192.6 729.9h0M181.9 775.9h0M199.1 769.5h0M192.6 744.1h0M152.2 759.1h0M163.1 756.9h0M135.9 742.3h0M149.1 743.4h0M197.1 732.2h0M166.2 752h0M127.2 743.3h0M179.6 735h0M183.8 759.2h0M203.6 737.8h0M204.4 720.2h0M202.3 744.7h0M168.5 776h0M183.7 766.3h0M182.7 735.1h0M190.2 725.3h0M178.7 758h0M180.2 726.8h0M125.8 738.7h0M178.2 723.1h0M171.4 771.9h0M130.6 781.9h0M198.1 769.2h0M140.3 750.1h0M185.5 760h0M133 746.3h0M140.3 748.7h0M181.6 758.1h0M175.8 772.4h0M199.2 784.9h0M169 778.9h0M171.3 729.5h0M194.4 748.5h0M143.7 747.3h0M128.5 783.3h0M170.2 737.2h0M180.4 729h0M199.3 748.2h0M161.8 739.7h0M162.6 749.3h0M182.9 733.9h0M158.7 753.8h0M186.5 760.8h0M198.4 777.8h0M201.5 784.5h0M211.9 726.2h0M127.3 754h0M169.1 729.5h0M184.7 733.1h0M151 742.9h0M177 757.2h0M149.6 764.4h0M133.9 756.3h0M150.1 785.8h0M197.4 754.7h0M163.3 720.6h0M185.8 768.8h0M152.3 752.5h0M163.9 745.9h0M195.6 721.4h0M143.6 742.9h0M209.6 718.7h0M162.7 776.3h0M200.1 729.1h0M172.4 768.8h0M135.1 718.5h0M150.6 762.3h0M206.1 762.1h0M176.3 776.1h0M184.4 761.5h0M144.4 759.4h0M195.3 774.7h0M187.5 780.8h0M201.1 736.1h0M146.1 744.6h0M193.9 737.6h0M204.9 744h0M151.5 744h0M153.8 721.8h0M196 729.2h0M205.5 740.9h0M180.8 783.3h0M189.8 773.7h0M207.1 785.1h0M140.3 723.8h0M155.8 772.8h0M145.8 764.4h0M153.2 749.4h0M171.3 728.5h0M177.3 736.7h0M177.5 770.7h0M163.2 786.9h0M179.1 725.4h0M143.9 743.9h0M141.4 764.2h0M134.4 768.2h0M173.3 772.7h0M157.6 774.5h0M156.3 779h0M204.4 773h0M136.9 722h0M154.2 776.8h0M202.3 774.7h0M175.6 764.1h0M128.8 777.9h0M183.1 752.3h0M210.7 731h0M151.5 734.9h0M162.2 757.2h0M130.4 743.7h0M198.3 771.5h0M160.6 771.3h0M150.7 763.7h0M148.6 720.7h0M190.2 745.3h0M169.4 723.7h0M161.4 733.7h0M153.5 782.1h0M186 746.6h0M140.1 756.2h0M171.7 749h0M152 730.2h0M159.1 744.4h0M196.1 737.1h0M129.1 763.2h0M196.1 752.4h0M157.4 751.2h0M168.7 769.1h0M180.6 745.7h0M193.7 724h0M144.9 732.6h0M175.5 748.3h0M193.6 724.6h0M194.8 734.3h0M201.3 716.3h0M188.5 739.9h0M150.9 736.7h0M155.9 755h0M212.6 746.1h0M179.9 753.6h0" stroke="#b08e70" stroke-width="1.2" stroke-linecap="round" opacity="0.35" fill="none"/>
<path d="M179.7 734.5h0M142 719.7h0M207.4 752h0M184 781.1h0M163.9 763.9h0M213.7 741.4h0M207.8 783.6h0M156.5 739.4h0M143.4 765.3h0M156.7 724.6h0M202.2 729h0M207.4 775.3h0M200.6 718.5h0M159.4 769.3h0M147.6 732.5h0M130.6 751.5h0M200.4 732.7h0M170.9 729.5h0M197.9 785.1h0M142.8 727.7h0M146.5 752.9h0M186.3 773.3h0M154 736.1h0M207.4 737.3h0M134.7 747.7h0M171.1 731.6h0M170.2 721.1h0M157.5 736.4h0M139.3 748.3h0M167.4 761.2h0M207 757.6h0M186.5 782.2h0M176.9 732.3h0M188.7 732.7h0M183 734.7h0M139.8 723.3h0M141.1 722.2h0M155.2 746.7h0M196.6 745.1h0M206.9 748.2h0M180.3 776.7h0M179.8 772.4h0M153.5 775.1h0M190.4 742.2h0M145.2 729.6h0M172 778.8h0M198.9 724.6h0M145.8 741.1h0M183.7 733.3h0M163.6 770.4h0M157 766.2h0M152.5 744h0M208 732.3h0M137.6 752.6h0M146.5 755.5h0M170.5 757.3h0M196.4 742.9h0M199.3 723.1h0M201.7 739.3h0M194.6 732.8h0M194.5 722.4h0M178.3 758.3h0M210 766.2h0M150.3 743.7h0M166.9 719.8h0M144.6 753.2h0M145.9 757.1h0M165.3 773.1h0M145.6 741.6h0M195 747.8h0M178.4 755.8h0M181.4 742.9h0M135 746.4h0M140.8 751.8h0M170.4 753.7h0M204.6 753.6h0M213.6 734.8h0M194.1 736.9h0M193.9 784.7h0M126.4 764.3h0M129.7 771.2h0M168.6 739.2h0M164.7 750.4h0M148.8 768.1h0M137.8 729.6h0M172.9 775.1h0M187.8 716.9h0M151.9 749.9h0M181.5 727.4h0M135.6 771.9h0M212.3 751.5h0M207.6 732.2h0M172.8 747.8h0M175.2 782.8h0M180.8 774.4h0M173.6 771.9h0M205.7 773.9h0M140.7 739.5h0M147.3 761.2h0M183.1 754.5h0M210.1 758.3h0M137.4 725.1h0M127.3 751.3h0M161 743.2h0M142.8 746.6h0M191 777.4h0M181.5 761h0M149.7 718.7h0M135.1 717.4h0M202.1 765.4h0M138.7 766.5h0" stroke="#4a58b0" stroke-width="1.3" stroke-linecap="round" opacity="0.75" fill="none"/>
<path d="M210.3 726.1h0M156.2 779.2h0M153.8 758.8h0M207.3 766.3h0M177.7 738.2h0M177.1 737.3h0M134.1 779.6h0M128.9 754.1h0M198.8 781.4h0M169.7 753.3h0M182.5 741.2h0M179.4 782.9h0M181.7 740.3h0M164 735.2h0M167.1 730.9h0M184.5 727.4h0M202.9 770.1h0M174.9 777.4h0M131.5 728.8h0M206 745.4h0M189.9 780h0M167.7 745.6h0M152.7 754.5h0M153 726h0M198.1 724.2h0M206.4 757.5h0M129.9 764.8h0M174.8 728.6h0M174.8 774.5h0M194.8 732.2h0M176.2 758.8h0M156.9 772.7h0M152.8 771.2h0M197.1 727.4h0M164.9 748.1h0M130.1 724.9h0M186.6 754.3h0M127.3 724.2h0M195.8 760.9h0M205 736.1h0M136.4 737.1h0M144.3 727.2h0M177.3 724.1h0M195.1 750.7h0M129.6 727.4h0M136.8 758.4h0M202.7 743.8h0M133.9 737.1h0M212.1 735.3h0M211 772.4h0M192.8 768.9h0M158.7 774.1h0M169.3 764.7h0M173.8 764.6h0M193.1 742.6h0M127.2 763h0M191.9 752.7h0M137 721.6h0M153.1 777.3h0M190.9 777.4h0M142.9 752.7h0M153.1 732.3h0M180.9 760.6h0M137.1 744.8h0M172.5 722.8h0M170.1 769.3h0M177.2 747.3h0M175.7 771.9h0M190.9 739.6h0M188.9 729.2h0M194.2 765.9h0M144.1 750.2h0M188.8 737.4h0M172.6 772.9h0M140.2 750.4h0M160.6 776.3h0M128.3 759.6h0M154.4 747h0M180.7 775.2h0M165.1 736.7h0M195.8 719.3h0M202.4 740.9h0M150.6 745.5h0M200.1 728.7h0M182.7 763.5h0M159.9 736h0M207.6 769.8h0M147.2 764.4h0M191.6 777h0M201.4 775.8h0M195 727.2h0M203.3 769.4h0M151.4 777.8h0M130.2 727.3h0M126.2 720.1h0M194.2 773.3h0M148.4 766.3h0M164.7 767.4h0M193.2 739.4h0M208.7 733.7h0M139.6 724.6h0M154.7 760h0M174.8 725.2h0M170.4 751.1h0M175.3 785.3h0M171.6 768.6h0M135.7 745.7h0M144.8 743.6h0M128.1 736.3h0M203.5 749h0M182.6 762.7h0M184.2 763.5h0M189.3 716.9h0M194.5 738.4h0M142.7 752.8h0M128.3 755.7h0M138.5 755h0M164.9 767.1h0M202.1 773.6h0M204.4 786.5h0M176.8 746.8h0M168.2 744h0M142.4 737.9h0M158.9 735h0M173 767.5h0M134.9 762.7h0M162.7 775.4h0M163.2 745.8h0M146.9 750.6h0" stroke="#4a58b0" stroke-width="1.7" stroke-linecap="round" opacity="0.5" fill="none"/>
</g>
<defs><clipPath id="ihcj3"><rect x="34.2" y="790.4" width="87.6" height="70.2"/></clipPath><filter id="blj3" x="-20%" y="-20%" width="140%" height="140%"><feGaussianBlur stdDeviation="2.2"/></filter><mask id="mkj3"><rect x="34.2" y="790.4" width="87.6" height="70.2" fill="#aaa"/><g filter="url(#blj3)" fill="#fff"><ellipse cx="51.7" cy="811.5" rx="26.3" ry="24.6"/><ellipse cx="99.9" cy="850.1" rx="26.3" ry="17.6"/><ellipse cx="86.8" cy="811.5" rx="17.5" ry="14"/></g></mask></defs>
<g clip-path="url(#ihcj3)">
<rect x="34.2" y="790.4" width="87.6" height="70.2" fill="#dddeef"/>
<g filter="url(#blj3)" fill="#cdd0ea"><ellipse cx="51.7" cy="811.5" rx="26.3" ry="24.6"/><ellipse cx="99.9" cy="850.1" rx="26.3" ry="17.6"/><ellipse cx="86.8" cy="811.5" rx="17.5" ry="14"/></g>
<g mask="url(#mkj3)">
<rect x="34.2" y="790.4" width="87.6" height="70.2" fill="#000" filter="url(#gr1)" opacity="0.15"/>
<rect x="34.2" y="790.4" width="87.6" height="70.2" fill="#000" filter="url(#gb1)" opacity="1.0"/>
</g>
<rect x="34.2" y="790.4" width="87.6" height="70.2" fill="#000" filter="url(#gw1)" opacity="0.5"/>
<path d="M55.5 824.7h0M110.5 845.7h0M84.9 810.2h0M98.9 847.8h0M85.1 814.7h0M59.9 811h0M53.2 826.2h0M115.2 843.6h0M67 801.4h0M91.3 822.9h0M81.4 805.3h0M87.8 799.6h0M44.5 825.3h0M67 833.7h0M42 826.6h0M60.4 817.1h0M90.5 853.4h0M65.9 851.7h0M41.5 794.9h0M48.1 816.5h0M55.8 831.1h0M62.1 800.5h0M72.1 795.9h0M89 855.1h0M70.9 810.6h0M41.9 818.5h0M45.7 822.2h0M118.7 803.4h0M79.8 818.9h0M117.7 849h0" stroke="#b48c6e" stroke-width="1.2" stroke-linecap="round" opacity="0.4" fill="none"/>
<path d="M115.2 857h0M86.1 820.1h0M51 821.6h0M36.4 796.4h0M79.1 841.9h0M66.5 830.6h0M73.4 835.5h0M62.5 847.7h0M106.1 813.6h0M60.9 845h0M81.4 859.8h0M119.6 816.9h0M53.1 797.7h0M81.8 847.5h0M105.5 853.2h0M94.9 848.7h0M63.3 829.7h0M54.8 829.8h0M49.4 821.9h0M59.7 812.8h0M118.3 814.4h0M105.7 823.9h0M58.6 796.7h0M108.9 825.7h0M50.2 791.7h0M86 813.3h0M109.3 804.9h0M120.2 859.4h0M102 848.7h0M97.6 843.6h0M69.8 794.5h0M106.3 831.8h0M61.8 837.5h0M114.7 859.3h0M39.7 849.4h0M99.1 840.2h0M79.3 828.5h0M75.7 800.6h0M51.5 814.8h0M118 834.8h0M40.4 848h0M89.9 800.2h0M70.5 850.3h0M45.4 826.1h0M74.5 801.6h0M90 843.7h0M74.9 845.1h0M71.7 824.1h0M92.6 816.8h0M86.8 818.7h0M35.2 814h0M92.5 849.9h0M87.6 806.4h0M94.4 859.3h0M98.2 842.8h0M44.4 794.7h0M72.3 851.2h0M101 853.7h0M85.6 843.7h0M80 802.5h0M103.4 798.5h0M50 848.8h0M90.1 811h0M49.7 803.9h0M81.5 805.3h0M66.7 842.2h0M62.8 824.4h0M45.8 797h0M38.2 793.6h0M108.1 847.9h0M103.8 849.6h0M53.8 807.3h0M53.8 820.2h0M83.9 794h0M98.9 857.6h0M54.6 805.7h0M105.5 822h0M109.2 857.9h0M110.7 791.5h0M111.5 834h0M66.9 806.1h0M47.4 811.9h0M86.4 819h0M35.4 799h0M94.9 801h0M54.5 798.6h0M99.9 847h0M86 815.8h0M92.6 815.8h0M70.4 852.5h0M106.7 843.6h0M66.9 831.7h0M72.7 840.4h0M91 826.6h0M69.4 820.4h0M40.3 805.9h0M65.7 816.9h0M54.6 821.8h0M77.3 844h0M73.4 853.2h0M74.5 803.3h0M60.5 796.6h0M38.1 823.3h0M55 836.7h0M81.3 809h0M110 799.9h0M40 799.5h0M63.2 813h0M35.9 809.7h0M78.4 806.7h0M78.9 841.3h0M105.9 852.5h0M89.1 823.4h0M109.1 812h0M39.3 852.5h0M76.5 832.8h0M68.9 842h0M42.6 810.1h0M94.2 793.9h0M63.4 822.5h0M108.5 859.6h0M64.8 854.3h0M62.2 813.6h0M79.2 828.3h0M105.3 827.9h0M57.4 821.4h0M97 798.5h0M75.8 858.7h0M63.8 836.7h0M45.3 811.2h0M101.3 800.8h0M103.8 845.6h0M47.2 848.4h0M47.2 826.6h0M69.8 854.6h0M75.3 838h0M74.9 828.8h0M81.3 795.7h0M118.8 847.7h0M48.2 818.4h0M114.1 799.2h0M119.4 840h0M119.5 813.8h0M85.3 840.9h0M67.6 812.9h0M91.3 857.6h0M117.7 859.7h0M109.7 851.1h0M76.1 826.7h0M76.2 791.7h0M83.2 794.6h0M112.2 855.7h0M35.6 825.4h0M82.5 830.8h0M116.1 800.4h0M53.2 813.7h0M65.8 843.5h0M115.3 818.9h0M116.1 799.4h0M78.3 849h0M78.4 844h0M109.2 808.3h0M41.8 826.7h0M39.7 845.7h0M61.1 814.5h0M50.4 791.2h0M49.7 801.3h0M85 848.9h0M83 825.8h0M87.3 801.1h0M34.3 850.4h0M119.9 811.7h0M86.1 801.7h0M81.9 839.7h0M115.3 793.6h0M66.5 859.3h0M52 823.6h0M83.1 834.4h0M55.4 811.3h0M76.8 817.6h0M76.2 815.1h0M76.2 801.3h0M41.7 831.5h0M53.8 824.1h0M117.8 820.3h0M91.2 843.8h0M120.3 813.5h0M92.9 857.3h0M115.3 790.6h0M83.4 836.7h0M85.3 845.3h0M119.4 837.4h0M56 811.7h0M81.7 836.3h0M121.3 808.3h0M68.9 801.6h0M105.8 791.2h0M38.7 823.6h0M68.8 836.7h0M84.4 845.9h0M61.6 812.6h0M101.6 821.8h0M87.3 820.7h0M79.4 791.5h0M92.3 814.3h0M93.1 856.5h0M70.1 812.1h0M89.3 850.2h0M58.7 842.4h0M91.5 819h0M76.6 851.7h0M93 836.7h0M113.8 853.5h0M35 797.9h0M106.2 854.9h0M63.5 793.6h0M46 838.6h0M91.9 800.2h0M92.5 812.5h0M40.4 846.3h0M107.4 843.8h0M70.6 809.2h0M45.1 801.3h0M39.3 832.3h0M93.6 798.9h0M88.1 792.9h0M84.1 844.8h0M39.3 828.1h0M97.5 851.5h0M50.9 803.5h0M49.5 854.1h0M109.3 795.4h0M41.7 836.3h0M119.3 794.1h0M49.6 859.6h0M120.8 837.4h0M70 842.9h0M87.5 799.3h0M65.3 812.1h0M63.1 812.7h0M79.4 846.5h0M83.8 815.7h0M44.4 811.7h0M81.3 855.5h0M76.7 846.1h0M67.2 842.4h0M107.9 830.5h0M59.8 814.8h0M88.3 812.7h0M51.8 858.1h0M47.5 801.3h0M81.6 805.7h0M71.4 807.6h0M74.8 791.8h0M45.4 794.1h0M43.5 839.4h0M102.1 828h0M103.9 853.2h0M60.2 802.8h0M67 827.6h0M47.3 825.2h0M83.1 825.4h0M79.5 817.8h0M50.6 794.7h0M99.7 811.4h0M87.9 811.1h0M35.7 819.2h0M53 814h0M109.7 823.7h0M62 836.8h0M40.3 841h0M78.5 849.7h0M74.6 852.2h0M116.9 803.9h0" stroke="#6670c6" stroke-width="0.8" stroke-linecap="round" opacity="0.7" fill="none"/>
<path d="M102.8 831.8h0M41.7 823.7h0M42.8 793.1h0M106.8 807.1h0M86.1 856.8h0M39.1 819.6h0M94.4 858.8h0M75 804.2h0M113.1 821.6h0M60.1 819.2h0M82.4 848.4h0M117.6 795.9h0M97.1 790.7h0M46.6 851.3h0M95.5 824.1h0M82.9 827.3h0M77.8 844.9h0M44.8 830.1h0M56.9 850.1h0M58.3 815.8h0M42.1 842.2h0M59.9 795.9h0M84.1 844.5h0M72.4 815.8h0M81.2 834.1h0M39.2 792.8h0M49 832.7h0M88.6 843.1h0M59.1 825h0M60.1 858h0M84.1 853.7h0M117.2 837.2h0M41.1 796.1h0M84.4 860.1h0M39.6 836.9h0M46.7 800.2h0M88 820.4h0M80 828.1h0M104.3 849.3h0M106.3 840.8h0M42.9 807.8h0M102.2 842.1h0M111.3 856.7h0M102.4 839h0M46.8 811.3h0M117.7 835h0M76.7 815h0M111.8 807.7h0M94.9 808.4h0M38.7 816.7h0M92.9 813.8h0M74.1 841.9h0M78.4 844.6h0M108.1 848.3h0M38 823.9h0M108.5 821.2h0M91.8 803.8h0M34.3 818.9h0M55.9 800.2h0M80.5 825.3h0M34.3 818.6h0M119.6 834.1h0M110.4 818.3h0M113.3 805.8h0M37 847h0M56.9 802h0M97.9 792.1h0M114.6 831.2h0M80.3 814.5h0M56 813.7h0M76.9 848h0M72 830.6h0M49.9 833.6h0M98.6 796.6h0M36 820.8h0M68.3 854.2h0M64.3 817.2h0M65.2 791.7h0M58.1 807h0M58.8 798.5h0M93.8 836.4h0M115.6 841h0M51.4 833.7h0M110.1 836.3h0M108 793.1h0M68.5 853.6h0M88.6 819.3h0M74.8 810.5h0M63.3 794.2h0M38.1 806.5h0M63.2 860.4h0M62.4 853.2h0M46.2 818.1h0M71.9 853.9h0M120.5 841.1h0M117 832.2h0M76.5 801h0M108.2 853.8h0M119.8 825.6h0M73.6 821.3h0M59.4 821h0M111 794.8h0M52.3 831.4h0M48.4 810.7h0M36 807.4h0M36.4 805.4h0M47.1 812.2h0M48.6 817.6h0M106 800.7h0M49.7 802.8h0M75.9 822.6h0M68.8 815.1h0M48.7 832.4h0M96.5 827.6h0M43.7 792.7h0M37 857.1h0M49.6 844.8h0M37 802.4h0M77.4 823.6h0M84 831.5h0M106.4 842.9h0M35.9 860h0M119 825.9h0M49 830.4h0M43.9 793.2h0M58.1 824.1h0M75.7 834.5h0M58.1 805.8h0M101.8 836.8h0M45.6 800.6h0M74.9 828.3h0M60 803.9h0M45.4 814.1h0M86.1 815.6h0M47.8 796.5h0M69.3 854.5h0M34.4 857.9h0M85.9 839.3h0M34.5 817.6h0M100.8 859.8h0M72.3 826.7h0M108.5 791.3h0M54.8 803.9h0M92.7 860.1h0M87.2 802.7h0M36.5 855.1h0M61.1 840.6h0M50 806.4h0M64.4 811.8h0M43.9 792.3h0M61.4 818.5h0M55.3 852.1h0M49.3 795.8h0M77.7 814.6h0M101.7 792.8h0M79.5 838.4h0M56.2 802.8h0M98.8 845.7h0M75.4 822.3h0M43.9 832.7h0M44.7 826.7h0M48.8 847.5h0M79.2 824h0M92 827.4h0M56.9 826.9h0M90.2 859.3h0M52.3 819.2h0M65.9 814.3h0M94.1 799.8h0M50.4 797.9h0M65.4 794.4h0M92.5 833.1h0M92.3 836h0M70.6 816.5h0M49.9 808.6h0M106.2 790.7h0M95.9 848.5h0M63.3 828.5h0M104.7 802.9h0M72.2 841.6h0M70.2 809.4h0M105.3 827.9h0M54 828.9h0M55.8 809.1h0M104.6 815h0M85.3 831.6h0M34.3 802.7h0M74.1 821.3h0M39.5 791.9h0M37.6 852.4h0M37.4 815.2h0M79.4 798.6h0M102.4 814.4h0M54.6 840.1h0M48 844.2h0M93 810.8h0M82.5 803.7h0M112.9 814h0M47.4 825.9h0M107.9 835.7h0M44.1 858.2h0M94.5 820.4h0M77.7 790.5h0M38 791.9h0M104.4 858.4h0M105.3 837h0M41.5 845.6h0M78.2 822h0M49 805.8h0M50.1 846.4h0M36.7 859.4h0M49.4 813.3h0M58.3 840h0M95.7 800.2h0M44.8 805.6h0M116.7 804.9h0M109.7 846.3h0M42.4 834.4h0M44.7 792.5h0M88.5 796.6h0M79.9 819.7h0M121 812.7h0M50.5 793.9h0M48.4 811.7h0M108.7 824.2h0M49.8 839.4h0M36 812h0M76.8 843h0M113.7 807h0M35.3 832.7h0M103 851.1h0M35.3 797.9h0M37 791.6h0M62.3 831.7h0M43.8 823.3h0M45.4 794h0M39.5 824h0M56.5 794h0M65.6 836.2h0M111.6 837.5h0M76.1 819.7h0M72.8 805.9h0M93.4 796.5h0M110.6 811.9h0M103.6 847.8h0M47.4 859.3h0M100.7 814.3h0M47 802.2h0M53.9 797.2h0M107.8 847.3h0M91 852.3h0M106.1 852.4h0M92.5 804.1h0M47.5 830.3h0M67.4 798.9h0M56.1 809.1h0M60.3 829.6h0M43.4 858.4h0M118.7 853.6h0M73.9 837.8h0M46.2 797.8h0M65.1 830.6h0M71.1 834.8h0M107 823.8h0M108 857.1h0M70.5 806.9h0M52.4 842.6h0M98.4 834.7h0M104.3 858.2h0M77.4 856.7h0M80 795.5h0M104.2 852.7h0M93.3 843.6h0M76.4 852.1h0M53.6 806.5h0M40.7 816.4h0" stroke="#6670c6" stroke-width="1.1" stroke-linecap="round" opacity="0.45" fill="none"/>
</g>
<defs><clipPath id="ihcj4"><rect x="125.6" y="790.4" width="88.4" height="70.2"/></clipPath><filter id="blj4" x="-20%" y="-20%" width="140%" height="140%"><feGaussianBlur stdDeviation="2.2"/></filter><mask id="mkj4"><rect x="125.6" y="790.4" width="88.4" height="70.2" fill="#999"/><g filter="url(#blj4)" fill="#fff"><ellipse cx="152.1" cy="836" rx="30.9" ry="24.6"/><ellipse cx="196.3" cy="846.6" rx="22.1" ry="17.6"/><ellipse cx="178.6" cy="804.4" rx="17.7" ry="14"/></g></mask></defs>
<g clip-path="url(#ihcj4)">
<rect x="125.6" y="790.4" width="88.4" height="70.2" fill="#dfe0f0"/>
<g filter="url(#blj4)" fill="#cdd0ec"><ellipse cx="152.1" cy="836" rx="30.9" ry="24.6"/><ellipse cx="196.3" cy="846.6" rx="22.1" ry="17.6"/><ellipse cx="178.6" cy="804.4" rx="17.7" ry="14"/></g>
<g mask="url(#mkj4)">
<rect x="125.6" y="790.4" width="88.4" height="70.2" fill="#000" filter="url(#gr1)" opacity="0.15"/>
<rect x="125.6" y="790.4" width="88.4" height="70.2" fill="#000" filter="url(#gb1)" opacity="0.8"/>
</g>
<rect x="125.6" y="790.4" width="88.4" height="70.2" fill="#000" filter="url(#gw1)" opacity="0.55"/>
<path d="M169.8 793.4h0M133.8 832.9h0M202.2 829.9h0M130.1 842.3h0M196.4 848.2h0M189.1 842.8h0M156.2 827.5h0M131.4 848.3h0M157.4 846.3h0M160 813.9h0M140.6 822.3h0M162.8 840h0M193 796.1h0M134.5 854.1h0M161.6 833h0M197.8 809.6h0M161.1 820.4h0M157.5 820.8h0M143.2 824.5h0M132.5 840.2h0M132.7 819.1h0M145.6 836.1h0M146.4 819.9h0M164.6 855.2h0M157.7 829.2h0M127.8 829.3h0M156.3 825.4h0M155.8 843.6h0M164.4 827.8h0M212.5 815.2h0" stroke="#b48c6e" stroke-width="1.2" stroke-linecap="round" opacity="0.4" fill="none"/>
<path d="M164.6 851.2h0M133.1 843.8h0M154.5 811.8h0M149.2 842.5h0M169.3 801.2h0M213.8 844.1h0M160.2 846.2h0M164 851.8h0M130.7 822.1h0M161.8 818.2h0M196.2 835.4h0M153.8 841h0M144.4 821.7h0M195.8 797.7h0M170.2 795.9h0M187.8 808.3h0M200.4 848.9h0M179.4 856.8h0M186.5 801.3h0M197.8 841.8h0M152.8 838.1h0M175.9 855.8h0M197.9 857.3h0M133.1 821.6h0M165.3 830h0M186.3 805.4h0M188.1 801.4h0M138.2 833.3h0M168.4 790.7h0M190.1 849.5h0M182 798.3h0M179 844.2h0M141.1 819.9h0M193.9 833.9h0M136.8 841.2h0M151.2 800h0M200.4 844.4h0M179.8 825.3h0M162.5 827h0M190.5 832.5h0M204 860.1h0M185.7 835.4h0M159.6 855.4h0M177.5 835.6h0M203.6 844.1h0M147.1 821.4h0M156.7 823.5h0M137.3 794.6h0M187.8 848.9h0M174.9 800.4h0M160.3 849.6h0M178.7 808.7h0M132.7 833.1h0M181.2 820.3h0M130.3 835.6h0M158.5 792.7h0M204.1 856.8h0M134 849.3h0M153.4 815.9h0M200 859.9h0M159.2 827.5h0M183.8 802.6h0M173.3 814h0M133.7 824.4h0M138.4 796h0M208.7 801.7h0M168.1 801.4h0M157.5 848.6h0M177.9 856h0M149 843.7h0M160.8 814.9h0M153.8 852.5h0M130.7 824.7h0M202.9 857.4h0M193.7 831.7h0M180 844.7h0M133.3 793.8h0M147.8 808.6h0M166.1 849.6h0M151.7 808.4h0M141.7 818h0M149.4 837.7h0M184.1 824.8h0M169.9 807.1h0M133 793.5h0M152.4 853.8h0M209.5 845.5h0M159.2 854.4h0M149.1 814.6h0M154.9 858.3h0M170.2 856.4h0M213.1 798.7h0M158 843.3h0M162.2 821.8h0M183 860.5h0M174.3 856h0M179 859.9h0M180.6 802.3h0M144.9 828.3h0M159.4 821.5h0M164.1 856.5h0M157.6 850.6h0M200.6 828.6h0M190.5 798.8h0M145.7 793.7h0M195.3 802.4h0M160.3 832.7h0M132.8 826.5h0M163.5 832.1h0M140.4 858.2h0M179.2 829.5h0M181.4 820.6h0M203.6 851.8h0M182.3 797.1h0M158.2 829.8h0M139.8 858.8h0M153.1 832.1h0M136.8 810.7h0M171.1 800.7h0M181.1 820h0M136 836.2h0M181.4 793.7h0M174.2 830.8h0M208 831.2h0M191.8 846.3h0M136.6 806.2h0M163.5 819.2h0M133.5 819.8h0M145.8 830.4h0M182.6 800.1h0M146.2 804.4h0M148.9 798.2h0M165.3 815h0M170.2 859.6h0M131.8 846.4h0M127.8 854.4h0M133.4 852h0M155.1 836.7h0M169 826.1h0M141.1 829h0M133 823.7h0M192.2 831.9h0M210 811.8h0M142.8 837.5h0M168.3 828.4h0M153.2 860.4h0M143.9 821.8h0M198.5 795.7h0M139.7 801.4h0M181.8 826.2h0M211.7 860.4h0M136.7 857.9h0M140 794.3h0M180 806.6h0M177.2 841.5h0M166.7 848h0M150.9 839.5h0M174.7 791.2h0M199.6 843.7h0M210.2 835.3h0M137.7 825.4h0M166.3 826.9h0M135.1 818.6h0M144.9 849h0M196.8 838.9h0M128.2 827.7h0M156.9 801.8h0M156.9 806.4h0M188.9 859.7h0M198.9 819.4h0M161 828.1h0M157.7 813.6h0M173.2 833.2h0M150.7 803.8h0M148.4 796.6h0M192.5 807.6h0M198.5 845.6h0M130 857.8h0M182.3 802.7h0M174.7 829.3h0M194.2 831h0M189.7 827.9h0M175.1 829.6h0M188.5 827.8h0M208 841.1h0M174 832.6h0M202.1 814.5h0M136.8 844.4h0M173.7 854.7h0M168.4 851.4h0M191.4 832h0M129.5 837.8h0M168.4 855.3h0M140.7 848.9h0M128 814h0M140.7 856h0M161.8 835.9h0M166.8 840.7h0M184.4 855.8h0M140.3 846.1h0M126.4 816.3h0M197 853.2h0M180 813.8h0M188.3 850.1h0M149.2 795.5h0M163.6 828.1h0M181.1 819.7h0M152.8 826.5h0M170 838.5h0M180 801.1h0M146.2 795.6h0M149.8 811.5h0M129.7 826.1h0M148.7 836.8h0M184.1 802.8h0M138.5 839.7h0M143 842.5h0M204.8 851.1h0M184.1 853.5h0M209.2 855h0M146.9 814.1h0M142.3 828.4h0M134.7 809h0M173.9 796.2h0M168.5 810.6h0M132.6 858.2h0M178.5 858.4h0M193.6 825.1h0M175.6 809.7h0M169.1 838.8h0M213.9 822.1h0M165.9 831.7h0M173 814.9h0M201.6 819.5h0M172.5 849.9h0M144.3 791.7h0M140.2 818h0M173.2 815.2h0M170.6 794.7h0M183 850.5h0M185.2 835.9h0M151 816.6h0M184.9 798.1h0M161.7 826.1h0M212.5 854.5h0M150.8 850.7h0M157.3 856.8h0M186.4 819.2h0M209.2 839h0M209.7 836.3h0M138.8 850.2h0M199.8 790.9h0M177.2 809.4h0M134.2 856.6h0M175.3 832.3h0M151.9 849.3h0M211.8 845.7h0M178 835.7h0M140.5 806.3h0M205.7 832.8h0M158.2 806.6h0M188.8 815.3h0M154.5 831h0M158.8 824.4h0M138.8 822.2h0M133.8 831h0M150.9 843.1h0M199.1 844.4h0M137.8 815.6h0M153.4 823.7h0M213.2 808.7h0M203.9 799.6h0M186.3 811.1h0M125.8 851.6h0M136.7 848.7h0M184.8 836.6h0M188.8 831.6h0M180.3 798.9h0M210.1 809.4h0M200.3 816.1h0M197.2 790.4h0M169.7 847.3h0M139.5 849h0M141.7 806.3h0M196.9 809.3h0M188.2 844.8h0M130.1 824.8h0M177.1 809.6h0M134.8 793.5h0M161.8 804.6h0M187.7 835.6h0M208.8 803.3h0M176.6 802.1h0M183.8 803.5h0M146.1 852.1h0M128.2 791.1h0M206.1 846.8h0M186.8 839.6h0M163.7 819.2h0M175.2 850.9h0M162.8 823.5h0M187 856.2h0M190 859h0M166.4 850.9h0M151.2 845.3h0M127 833h0M207.8 859.8h0M204.6 846h0M164.4 821.7h0M202.1 851.6h0M202.6 858h0M193.5 814.6h0M142.8 817.4h0M202.9 814.2h0M143.8 806.2h0M185.6 810.9h0M127 793.2h0M201.9 826.4h0M194.5 816.7h0M134.1 838.1h0M143.1 803.6h0M166.2 856.5h0M182.5 845.4h0M174.2 801.4h0M178.1 794.6h0M199.4 847.9h0M184.3 814.3h0M193 848.7h0M177.7 854h0M152.7 810h0M155.1 824.7h0M138.7 830.2h0M134.8 817h0M155 839.9h0M198 807.2h0M134.7 796.6h0M190.4 832.4h0M132.4 845.8h0M175.3 820h0M204.1 848.9h0M137.3 841h0M174.6 825.1h0M199.6 842.5h0M144.5 860.1h0M180.7 830.9h0M191.6 855.1h0M203.3 819.9h0M179.5 829.4h0M130.1 811.5h0M208.4 843.5h0M169 806.1h0M204.2 796.6h0M197.6 798.1h0M208.8 846.7h0M128.7 835.5h0M205.8 858.7h0M141.4 849.8h0M187.8 801.3h0M190.8 816h0M185.3 854.2h0M180.1 857h0M191.6 841.1h0M186.4 798.2h0M146.2 855.2h0M136.1 843.7h0M165.6 803.5h0M150 851.5h0M200.8 848.6h0M185.7 818.6h0M181 853.4h0M152.2 820.5h0M209.5 851.3h0M160.7 842h0M191.2 825.2h0M176.1 823.1h0M154.9 856h0M142.9 814.1h0M154.7 829.9h0M164 811.4h0M164 820.4h0M139.8 828.1h0M154.2 815.6h0M140.4 841.5h0M160.9 854h0M171.2 791.2h0M178 827.9h0M139.1 825.5h0M187.2 800.7h0M154.1 850.5h0M155.9 825.5h0M130.4 821.5h0M150.4 829.8h0M177.1 807.8h0M200.3 838.2h0M171.7 815.3h0M183.9 853.6h0M168.3 809.1h0M157.1 843.1h0M128.8 853.3h0M191.4 860.3h0M197.1 830.9h0M182.5 795.7h0M182.1 807.7h0M202.1 796.7h0M138.7 833h0M141.2 848.4h0M130.6 837.4h0M141.7 858.8h0M155.3 835.5h0M126.3 846.7h0M203.4 794.7h0M143.6 796.5h0M190.6 814.4h0M184.1 851.9h0M213.6 856.6h0M206.9 817.1h0M203.5 809h0M203 850.6h0M142.2 831h0M133.1 802.3h0M211.5 796.4h0M153 822.8h0M175.1 832.1h0M207.6 846.9h0M157.1 856.8h0M197.9 803.9h0M172.1 845h0M187.1 792.8h0M192.4 838.7h0M197 820.4h0M198.6 855.9h0M147 836.6h0M137.1 843.9h0M141 834.8h0M157.4 833.5h0M158.5 855.5h0M202.9 858.8h0M200 848.8h0M129.1 836.8h0M184.5 794.9h0M199.3 855.9h0M161.3 852.7h0M173.5 790.7h0M188.2 803.4h0M153.8 844.2h0M144.9 800.4h0M134.1 819.6h0M197.6 858.8h0M205.7 837h0M173.2 832.7h0M185.8 815h0M203.7 804.4h0M211.2 828.3h0M163.4 809.7h0M177.8 820.2h0M159.6 817.6h0M137.2 825.9h0M153 840h0M159 793.5h0M196.8 842.1h0M201.8 819.3h0M143.1 817.5h0M202.6 798h0" stroke="#5060c0" stroke-width="1.0" stroke-linecap="round" opacity="0.7" fill="none"/>
<path d="M188.6 849.4h0M142.8 837.5h0M139 840h0M204.6 855.3h0M196.2 847.9h0M184.9 858.8h0M181.4 808.7h0M199.1 808h0M188.5 847.4h0M173.6 839h0M205.6 809.2h0M174.8 839.6h0M150.5 851.5h0M175.4 823.8h0M174.4 856.4h0M152.3 845.5h0M198.8 852.6h0M167.6 817.2h0M152.7 823.4h0M147.2 835.9h0M174.9 825.8h0M190.7 849h0M176.5 802.4h0M183.6 820h0M146 855.4h0M194.1 804.5h0M164 825.8h0M189.2 827h0M125.8 854.6h0M139.6 800.7h0M138.1 830.8h0M148 837.4h0M140.7 852.6h0M136.3 815.4h0M155.2 859.1h0M211 851.1h0M137.1 822.8h0M139.5 835h0M145.7 841.1h0M210.4 838h0M203.1 818.7h0M161 801.9h0M139.3 795h0M191.4 841.2h0M167.9 800.6h0M190.4 839h0M183.4 838.7h0M127.9 832.6h0M177.8 830.3h0M128.6 801.1h0M126.6 808.9h0M195.9 841h0M163.9 844.9h0M184.5 818.5h0M178.2 825.9h0M135.9 834.5h0M210 826.8h0M144.1 808.6h0M182.7 838.3h0M126.3 802.4h0M183.8 836.5h0M146.6 811.4h0M174.8 797.1h0M138.8 854.7h0M194.1 796h0M169.7 798.3h0M177.2 850.6h0M208.4 834.5h0M160 854.7h0M185.6 839.7h0M135.7 803.4h0M173 800.8h0M127.2 816.7h0M169 853.3h0M151.5 816.9h0M206.8 840.3h0M197.1 793.6h0M196.4 839.4h0M150 816.4h0M197.2 816.9h0M212.9 843.9h0M175.8 842.3h0M162.2 820.7h0M166 834.2h0M188.7 811.7h0M164.9 805.1h0M168.2 835.7h0M203.6 836.6h0M163.7 856.1h0M202.6 797.5h0M179.9 843.7h0M190.2 837.2h0M207.8 810.9h0M130.4 840.5h0M199.4 857.8h0M173 839h0M170.1 830.6h0M212.9 791.3h0M158.1 840.9h0M142.9 855.6h0M186.8 803.3h0M147.8 832.9h0M127.4 803.8h0M156 842.8h0M126.5 837.6h0M207.6 796.7h0M197.9 801.5h0M208.5 854.6h0M207.5 857h0M199.4 794.5h0M147.7 792.2h0M179 852.1h0M141.7 792.9h0M177.7 853.5h0M181.1 800.8h0M176 812.4h0M159.2 857.6h0M208.2 821h0M132.6 857.4h0M167.8 826.7h0M186.3 808.7h0M164.7 796.6h0M176.8 826.1h0M162 837h0M200.9 827.8h0M200.6 831.6h0M178.4 851.7h0M156.9 815.4h0M197.5 854.1h0M154.9 851.1h0M187.6 818.4h0M155.4 816.6h0M176 827.8h0M195 818.1h0M161.6 845.8h0M159.2 843.4h0M195.8 791.4h0M128.7 795.5h0M193.4 810.7h0M166.3 853.4h0M148.2 842.4h0M151.6 859.7h0M177.5 844.2h0M194.2 795.3h0M134.3 820.6h0M139 851.4h0M161.7 823.5h0M145.5 840.4h0M205.2 852.1h0M177.7 834.4h0M168.8 807.1h0M177.4 838.4h0M182.3 813.5h0M183.9 824.9h0M209.7 818.3h0M176.9 793.5h0M169.3 844.1h0M210.3 849.6h0M177.2 826.7h0M195.9 796h0M189.1 851.7h0M193.2 855.8h0M164.2 850.3h0M177.3 815.7h0M203.1 842.8h0M194.7 844.9h0M172.9 820.6h0M189.9 859.2h0M200 846.6h0M149.2 837.2h0M154.3 811h0M152.1 849.4h0M150.7 839.7h0M182.8 824.6h0M166.6 793.9h0M174.6 806.7h0M204.9 822.5h0M176.2 800h0M146.8 835.7h0M146.5 814.1h0M183.6 819h0M190.7 832h0M179.1 840.1h0M159.1 799.2h0M141.1 836.4h0M168 840.7h0M171.4 834.7h0M178.2 811.5h0M191.6 850.4h0M212.3 812.5h0M207.2 852.1h0M129.2 819.2h0M178.6 835.3h0M179.4 804.3h0M144.9 824.5h0M129.6 814.7h0M174.4 809.8h0M173.3 800.1h0M173 798.8h0M174.9 808.2h0M184.3 794.4h0M174.7 800.2h0M169.2 817.3h0M193.6 818.9h0M184 838.6h0M133.1 820.4h0M148.4 836.1h0M198.8 842.5h0M131.1 851.5h0M194.3 814.8h0M206.3 820.3h0M142.8 834.8h0M188.1 856.6h0M176.9 830.9h0M155.3 851.3h0M173 797.8h0M134 800.6h0M159.9 824.2h0M193.2 843.5h0M178.9 835.9h0M138.4 813.2h0M193.1 800.1h0M161.2 822h0M181.5 837.2h0M143.1 792h0M184.8 803h0M203.4 816.2h0M128 831.8h0M206.5 847.5h0M141.1 823.1h0M162.3 847.5h0M192.7 842.9h0M209.9 842.7h0M197.4 843.3h0M158.6 857.4h0M164.8 832.8h0M126.4 824h0M150.6 856.8h0M176.4 798.1h0M208.5 812.3h0M199 798.4h0M155.8 852.5h0M143.7 851.2h0M177.8 793.1h0M176.4 841.3h0M138.9 828.9h0M156.6 833.8h0M135.2 833.8h0M170.5 829.1h0M162.1 844.7h0M184.1 826.3h0M170.9 835.9h0M180.6 822.1h0M144.7 811.7h0M197.3 830.1h0M181.1 813.4h0M186.6 859.5h0M168.2 843.8h0M168.6 828.2h0M213.4 822.2h0M198.7 856.2h0M148.7 829.2h0M135.4 819.2h0M162.2 838.3h0M127.4 832.5h0M136.8 838.3h0M169.5 839.7h0M145 826.6h0M176.2 807.1h0M155.2 820.5h0M133.7 794.4h0M208.5 808.9h0M167.7 836.6h0M191.5 819.3h0M167.4 817.1h0M153.2 826.4h0M151.7 802.5h0M161.6 798h0M169.2 832.9h0M196.5 828h0M129.3 836.5h0M179.2 845.8h0M183.7 800h0M187.6 796h0M187.9 842.2h0M142.2 851.2h0M185.2 840.4h0M193.5 802.4h0M184.8 820.2h0M192.3 835.8h0M199.9 841.1h0M132.6 806.3h0M141.2 809.4h0M200.4 837.9h0M180.5 817.4h0M208.4 821.7h0M130.9 818.9h0M171.9 830.9h0M191.5 841.5h0M178.3 819.7h0M126.8 810.6h0M141.5 798.7h0M211 801.2h0M149.2 822.9h0M148.5 824.6h0M213.9 852.7h0M154.2 852h0M165.2 835.1h0M142.2 816h0M160.5 818.2h0M137.6 853.5h0M144 853.4h0M195.1 813.5h0M187.6 832.1h0M141.3 842.5h0M136 849.8h0M187.7 850.3h0M155.5 818.5h0M203.4 831.1h0M155.5 811.6h0M212.1 806.3h0M167.5 838.8h0M128.7 807.6h0M180.1 839.4h0M184.1 848.3h0M183.9 843.1h0M170.4 829h0M212.7 808.1h0M144.2 809.3h0M173.5 842.3h0M184.6 853.3h0M196.7 858h0M198.7 833.5h0M168.7 842.4h0M154.6 831.7h0M126.8 813.2h0M134.6 836.9h0M152.7 833.4h0M177.8 834.8h0M126.9 821h0M211.6 833.9h0M141.7 802.3h0M179.9 843.8h0M161.2 829.9h0M147.7 858.6h0M211.9 815.7h0M189.6 807.7h0M133.6 814.6h0M143.5 790.8h0M171.1 841.6h0M155.6 841.4h0M130.3 858.8h0M171.2 810.3h0M194.4 855.9h0M139.2 822.3h0M187.3 818.6h0M184.4 799.5h0M212.5 850h0M146.8 827h0M210.1 851.2h0M193.5 807.3h0M163 817.2h0M198.7 840.6h0M179.7 791.3h0M212 849.9h0M162 843.6h0M174.2 801.8h0M206.9 858.4h0M134.3 833.6h0M146.5 820.3h0M158.8 814.9h0M133.6 804.6h0M182.2 813.4h0M144 850h0M209.2 853.9h0M209.8 809.7h0M155.1 804.3h0M171.5 794.1h0M180.8 792.2h0M142 826h0M175 805.9h0M196.2 821.7h0M170.1 840.3h0M166.6 841.4h0M164.6 839.9h0M180.8 812.2h0M187.2 794.9h0M161.4 839.3h0M136.2 832.8h0M202.3 852.7h0M173.6 823.1h0M196.6 847.5h0M182.9 820.5h0M182.3 817.8h0M206.1 859.3h0M140.5 856.1h0M201.4 852.2h0M169.8 836.1h0M169.4 821.2h0M132.8 840.6h0M169.8 794h0M138.1 823.7h0M157.7 831.3h0M182.6 808.6h0M197.8 845h0M130.8 800.6h0M187.8 842.5h0M182.5 818.2h0M172 796.1h0M151.5 810.8h0M165.4 806.3h0M181.1 798.4h0M134.6 836.9h0M150.7 824.9h0M159.4 798.5h0M134.2 806h0M203.5 832.5h0M144.4 804.5h0M165.9 845.9h0M163.4 859h0M156.8 849.8h0M126.8 858.1h0M170.7 852.9h0M181 854.2h0M163.7 839.9h0M144 833.2h0M196.5 795.7h0M155.5 818.9h0M134.9 822.6h0M164.1 848.9h0M144.6 827.3h0M179.3 843.7h0M155.2 855.6h0M154.4 833.6h0M137.5 801.7h0M199.6 856.1h0M209.5 857.1h0M156 810.3h0M174.9 796.7h0M212.4 839.4h0M157 853h0M184.1 837.3h0M136 837.4h0M165.4 797.5h0M152.8 814.7h0M134.7 846.9h0M158.7 816.5h0M189.3 836.4h0M182.1 802.5h0M169.2 856.5h0M155.1 824.9h0M207.9 854.4h0M129 804.5h0M198 806.5h0M185.8 797.6h0M165.4 850.5h0M206 839.1h0M185.8 795.6h0M162.8 854.6h0M194.4 800.6h0M210.6 821.7h0M202.9 811.9h0M190.3 814.2h0M193.4 814.5h0M211.3 855.9h0M167.7 809.7h0M182.6 852.4h0M185 801h0M188 858.7h0M170.9 811.4h0M208.7 838h0M137.8 831.9h0M145.3 795.8h0M151.1 840.7h0M151.4 847.8h0M144.8 809.4h0M190.6 846.8h0M136.5 794.7h0M188.5 794h0M158 823.5h0M180.5 857.3h0M159.7 844.4h0M175.2 812.4h0M165.4 811.1h0M141.5 844.4h0M131.8 831.9h0M154.2 829.8h0" stroke="#5060c0" stroke-width="1.4" stroke-linecap="round" opacity="0.5" fill="none"/>
</g>
<rect x="62.6" y="743.3" width="29.8" height="25.1" fill="none" stroke="#2a2a2a" stroke-width="0.8"/>
<line x1="92.4" y1="743.3" x2="121.8" y2="717" stroke="#2a2a2a" stroke-width="0.8"/>
<line x1="92.4" y1="768.4" x2="121.8" y2="787" stroke="#2a2a2a" stroke-width="0.8"/>
<rect x="62.6" y="817.3" width="29.8" height="25.3" fill="none" stroke="#2a2a2a" stroke-width="0.8"/>
<line x1="92.4" y1="817.3" x2="121.6" y2="790.6" stroke="#2a2a2a" stroke-width="0.8"/>
<line x1="92.4" y1="842.6" x2="121.6" y2="860.6" stroke="#2a2a2a" stroke-width="0.8"/>
<line x1="27.5" y1="720.8" x2="27.5" y2="858.5" stroke="#9a9a9a" stroke-width="0.9"/>
<text x="17.6" y="754" font-family="Liberation Serif" font-size="14.8" font-weight="bold" text-anchor="middle" fill="#111" stroke="#111" stroke-width="0.15" transform="rotate(-90 17.6 754)">Tumor</text>
<text x="17.6" y="826.4" font-family="Liberation Serif" font-size="13.3" font-weight="bold" text-anchor="middle" fill="#111" stroke="#111" stroke-width="0.15" transform="rotate(-90 17.6 826.4)">Normal</text>
<text x="78.3" y="707.6" font-family="Liberation Serif" font-size="16.1" text-anchor="middle" fill="#111" stroke="#111" stroke-width="0.15">200×</text>
<text x="172.2" y="707.6" font-family="Liberation Serif" font-size="16.1" text-anchor="middle" fill="#111" stroke="#111" stroke-width="0.15">400×</text>
<line x1="264.7" y1="727.1" x2="264.7" y2="841.6" stroke="#222" stroke-width="1.25"/>
<line x1="264.2" y1="841.1" x2="341.2" y2="841.1" stroke="#222" stroke-width="1.25"/>
<line x1="260.2" y1="841.1" x2="264.7" y2="841.1" stroke="#222" stroke-width="1.25"/>
<text x="259.6" y="844.3" font-family="Liberation Serif" font-size="9.4" font-weight="bold" text-anchor="end" fill="#111" stroke="#111" stroke-width="0.15">0</text>
<line x1="260.2" y1="803.3" x2="264.7" y2="803.3" stroke="#222" stroke-width="1.25"/>
<text x="259.6" y="806.5" font-family="Liberation Serif" font-size="9.4" font-weight="bold" text-anchor="end" fill="#111" stroke="#111" stroke-width="0.15">5</text>
<line x1="260.2" y1="765.4" x2="264.7" y2="765.4" stroke="#222" stroke-width="1.25"/>
<text x="259.6" y="768.6" font-family="Liberation Serif" font-size="9.4" font-weight="bold" text-anchor="end" fill="#111" stroke="#111" stroke-width="0.15">10</text>
<line x1="260.2" y1="727.6" x2="264.7" y2="727.6" stroke="#222" stroke-width="1.25"/>
<text x="259.6" y="730.8" font-family="Liberation Serif" font-size="9.4" font-weight="bold" text-anchor="end" fill="#111" stroke="#111" stroke-width="0.15">15</text>
<rect x="275.4" y="804.1" width="21.2" height="37" fill="#ede0c0" stroke="#777" stroke-width="0.5"/>
<line x1="286" y1="820.6" x2="286" y2="787.4" stroke="#666" stroke-width="0.75"/>
<line x1="280.7" y1="820.6" x2="291.3" y2="820.6" stroke="#666" stroke-width="0.75"/>
<line x1="280.7" y1="787.4" x2="291.3" y2="787.4" stroke="#666" stroke-width="0.75"/>
<line x1="286" y1="841.1" x2="286" y2="845.3" stroke="#222" stroke-width="1.25"/>
<rect x="308" y="775.6" width="21.4" height="65.5" fill="#c47e84" stroke="#777" stroke-width="0.5"/>
<line x1="318.7" y1="796.5" x2="318.7" y2="755.5" stroke="#666" stroke-width="0.75"/>
<line x1="313.4" y1="796.5" x2="324" y2="796.5" stroke="#666" stroke-width="0.75"/>
<line x1="313.4" y1="755.5" x2="324" y2="755.5" stroke="#666" stroke-width="0.75"/>
<line x1="318.7" y1="841.1" x2="318.7" y2="845.3" stroke="#222" stroke-width="1.25"/>
<line x1="285.8" y1="735.2" x2="319.4" y2="735.2" stroke="#111" stroke-width="1.1"/>
<text x="302.3" y="734.3" font-family="Liberation Serif" font-size="10" font-weight="bold" text-anchor="middle">***</text>
<text x="232.6" y="783.6" font-family="Liberation Serif" font-size="9.55" font-weight="bold" text-anchor="middle" fill="#111" stroke="#111" stroke-width="0.15" transform="rotate(-90 232.6 783.6)">Relative HILPDA SCORE</text>
<text x="285.7" y="855.7" font-family="Liberation Serif" font-size="9.7" font-weight="bold" text-anchor="middle" fill="#111" stroke="#111" stroke-width="0.15">Normal</text>
<text x="318" y="855.7" font-family="Liberation Serif" font-size="9.7" font-weight="bold" text-anchor="middle" fill="#111" stroke="#111" stroke-width="0.15">Tumor</text>
<defs><clipPath id="ihck1"><rect x="373.2" y="718.3" width="88.6" height="70.5"/></clipPath><filter id="blk1" x="-20%" y="-20%" width="140%" height="140%"><feGaussianBlur stdDeviation="2.2"/></filter><mask id="mkk1"><rect x="373.2" y="718.3" width="88.6" height="70.5" fill="#444"/><g filter="url(#blk1)" fill="#fff"><ellipse cx="399.8" cy="760.6" rx="28.4" ry="31.7"/><ellipse cx="421.9" cy="750" rx="26.6" ry="24.7"/><ellipse cx="448.5" cy="771.2" rx="17.7" ry="21.1"/><ellipse cx="404.2" cy="732.4" rx="17.7" ry="10.6"/></g></mask></defs>
<g clip-path="url(#ihck1)">
<rect x="373.2" y="718.3" width="88.6" height="70.5" fill="#e4e4ef"/>
<g filter="url(#blk1)" fill="#d3cdd4"><ellipse cx="399.8" cy="760.6" rx="28.4" ry="31.7"/><ellipse cx="421.9" cy="750" rx="26.6" ry="24.7"/><ellipse cx="448.5" cy="771.2" rx="17.7" ry="21.1"/><ellipse cx="404.2" cy="732.4" rx="17.7" ry="10.6"/></g>
<g mask="url(#mkk1)">
<rect x="373.2" y="718.3" width="88.6" height="70.5" fill="#000" filter="url(#gr1)" opacity="0.7"/>
<rect x="373.2" y="718.3" width="88.6" height="70.5" fill="#000" filter="url(#gb1)" opacity="0.85"/>
</g>
<rect x="373.2" y="718.3" width="88.6" height="70.5" fill="#000" filter="url(#gw1)" opacity="0.45"/>
<path d="M389.4 737h0M391.8 757.9h0M458.2 764.2h0M392.2 770.3h0M417.7 718.7h0M403.8 763.8h0M390.9 744.6h0M423.1 737.7h0M382.3 747.9h0M445.3 742.6h0M409 744.7h0M375.8 746.5h0M414.9 758.4h0M424.1 739.4h0M408.9 757.8h0M413.5 750.5h0M390.3 764.3h0M457.9 728.3h0M459.8 725.9h0M448.3 772.4h0M404.1 758.6h0M389.4 748.8h0M453 765.1h0M409.9 724.6h0M400.5 780.6h0M430.8 769.1h0M403.2 741.7h0M459.6 766.8h0M431.9 750.5h0M446.8 776h0M404.9 769.8h0M428.8 786.5h0M390.9 756h0M381.8 755.4h0M414.8 732.6h0M415.2 781.9h0M378 763.8h0M412.6 763.7h0M454.5 778.3h0M436.2 764.3h0M394.8 729.8h0M417 743.9h0M447.4 769.3h0M397.7 737.7h0M447.9 765.3h0M389.2 762.6h0M427.3 771.6h0M444.3 788h0M422.7 730.4h0M447.9 761h0M431.2 769.1h0M449.1 725.2h0M400.9 777.9h0M435.7 753.9h0M404 766.2h0M438.9 772h0M427.7 744.8h0M398.3 774.2h0M452.7 756.5h0M390.7 746.5h0M442.7 752h0M384.2 759.7h0M377.9 768.7h0M398.9 729h0M374.5 724.6h0M415.3 737.9h0M457.3 776.3h0M425.6 764.9h0M373.2 740.2h0M429.4 767.3h0M433 753.9h0M400 741.5h0M449.1 748.5h0M407.5 772.9h0M443.3 780h0M405.5 770.3h0M440.9 755.4h0M438.7 780.6h0M415 758.6h0M387.3 733.2h0M396.4 785.5h0M441.2 774.9h0M440.3 744.8h0M395.7 773.9h0M392.2 757.4h0M409.6 760.2h0M415.6 741.7h0M406.2 785.5h0M419.4 747.7h0M382.2 780.1h0M390.8 785h0M388.9 735.5h0M394.2 762h0M424.2 777.6h0M431.6 757.3h0M406.3 750.9h0M400.4 724.8h0M377.8 763.4h0M397.8 738.1h0M422.3 724.7h0M378.1 773.8h0M426.2 787.4h0M378.4 763.4h0M459.6 760.5h0M386.4 748.2h0M402.7 754.7h0M441.4 737.4h0M417 778.5h0M432 777.2h0M456.4 770.6h0M429.3 742.4h0M411.6 776.6h0M433 737.1h0M434.6 752.2h0M397.4 752.8h0M439.1 744.5h0M413.7 733.4h0M438.9 758.7h0M453.4 737.4h0M412.4 724.2h0M381.3 778.5h0M437.6 737.8h0M422.9 751.2h0M412.5 774.6h0M434.8 764h0M386.6 770.9h0M429.6 727.6h0M457.7 748.7h0M459.6 748.6h0M379.7 750.1h0M405.2 767.1h0M386.4 763.2h0M460.1 770.5h0M383.5 736.6h0M435.1 782h0M415.6 765.4h0M387 755.7h0M406.4 747.3h0M452.9 764.4h0M438.5 770.2h0M437.6 776.6h0M393.7 784.5h0M451.8 785h0M449 753h0M413.2 741.1h0M432.7 747.7h0M431.2 770h0M453.8 772h0M446.1 764.7h0M415.2 755h0" stroke="#a89078" stroke-width="1.0" stroke-linecap="round" opacity="0.35" fill="none"/>
<path d="M433.8 728.1h0M412.9 747.4h0M457.7 777.4h0M421.6 765.9h0M454.8 760.7h0M390.6 750.4h0M443.1 757.9h0M460.3 726.7h0M436.4 778.5h0M429.6 721h0M395.8 772.3h0M374.2 744.8h0M377.6 761.6h0M445.9 739.4h0M434.8 755.3h0M387.9 778.4h0M385.7 745.1h0M405.4 746.6h0M405.8 772.7h0M397.8 731.1h0M399.5 751.7h0M424.5 746.7h0M401.5 725.1h0M419.2 778.8h0M433.2 757.4h0M401.9 787.6h0M395.2 753h0M377.4 740.3h0M420.9 749.4h0M444.3 749.3h0M437.6 742.2h0M376.6 769.8h0M450.4 779.7h0M393.5 742.3h0M403.6 731.4h0M445.6 779.6h0M403 753.5h0M429.6 738.7h0M445.1 778.1h0M379.7 747.5h0M399.6 776.2h0M418.8 729.7h0M435.7 781.7h0M450.3 761h0M409.8 768.9h0M431.7 752.9h0M414.5 768.8h0M423.4 787.5h0M403 775h0M407.9 766.6h0M431.4 760.7h0M456.4 767.3h0M422.5 749.7h0M406.2 780.4h0M379.3 765.6h0M380.9 723.5h0M445.6 788.5h0M426.8 735.9h0M434.4 746h0M426.7 746.2h0M436.2 733.1h0M438.2 742h0M391.9 749.4h0M406.2 785.3h0M400.5 747h0M427.4 770.6h0M446.6 770.7h0M461.4 752.6h0M410.3 787.7h0M402.2 769.7h0M418.4 769.2h0M432.8 760.6h0M389.3 770h0M459.4 773.8h0M405.7 734.6h0M397.2 785h0M451.9 755.8h0M382.9 768.6h0M455.4 780h0M396.4 739.2h0M404.2 754.3h0M453.2 786.2h0M377.1 747.4h0M441 762h0M389.8 739.8h0M453.9 778.9h0M425.7 769.9h0M412.9 759.9h0M411.7 784.5h0M394.8 775.8h0M427.8 786.3h0M447.4 726.7h0M441.8 753.1h0M444.2 747.2h0M450.2 729.5h0M402.5 781.6h0M445.1 748.7h0M417.1 770.2h0M434.9 735.3h0M443.5 771.4h0M414.6 725.4h0M409.7 734.7h0M386.5 777.6h0M455.3 759.3h0M387.6 771.7h0M390.6 785.4h0M400.6 733.9h0M429.7 749.1h0M433.2 752.4h0M387.4 738h0M410.7 780.7h0M447.4 788.2h0M412.3 752.7h0M375.4 720h0M380.4 747.6h0M397.3 730.5h0M461.7 769.3h0M383.2 764.3h0M401 746.3h0M418.2 756.2h0M412.2 781.8h0M389.4 731.6h0M457.2 778.3h0M410 781.2h0M416 757.6h0M440.4 738.4h0M406.6 776.5h0M377.5 755.1h0M449.3 766.3h0M395.1 739.6h0M425 778.4h0M402.5 779h0M439.4 769.7h0M413.4 723.6h0M460.5 766.7h0M444.4 761.5h0M425.2 754.1h0M446.6 774.8h0M406.5 727.2h0M411.3 781.7h0M421.1 771.3h0M452.8 772.7h0M381.2 765.5h0M394.4 729.4h0M450.8 753.5h0M452.6 783.9h0M381.6 767.6h0M436.8 783.2h0M432.8 761.2h0M456.9 756.2h0M404 739.7h0M428.6 786.9h0M421.2 776.1h0M417.7 737.4h0M441.8 781.7h0M395.7 728.9h0M430.3 725.5h0M424.3 737.5h0M389 786.6h0M407.9 734.9h0M432 757.4h0M416.8 778.6h0M445.4 760.8h0M429.6 734.1h0M452.1 776.4h0M438.1 748.2h0M449.1 775.4h0M373.3 753.2h0M421.7 747.5h0M404.4 735.5h0M439.8 757.6h0M438.8 766.6h0M420 773.7h0M435 763h0M452.2 761.3h0M451.2 727.4h0M385.7 785.1h0M440.9 731h0M407.7 771.8h0M424.1 755.9h0M402.7 759.7h0M447.7 732.6h0M440 750.3h0M452.9 774.8h0M377.8 775.5h0M403 731.7h0M456.3 769.9h0M440.2 719.2h0M407.5 743.9h0M441 741.9h0M434.1 754.2h0M399.1 759h0M424.7 765.3h0M417.6 764.4h0M444.4 779.4h0M454.1 774.1h0M451.8 723.3h0M438.7 770.5h0M428.3 764.2h0M428.2 743.8h0M400.6 780h0M426.5 785.6h0M426.3 769.9h0M376.8 728.8h0M391.4 753.6h0M384.3 747.7h0M394.9 783h0M391 756.1h0M426.1 759.5h0M400.4 726.1h0M445.1 783.1h0M415.8 738.2h0M428.7 721.4h0M413.6 779h0M423.7 747.6h0M402.4 769.5h0M402 740.3h0M437.7 785.2h0M446.8 762h0M443.3 760.7h0M405.4 772.9h0M413.5 785.3h0M451.3 730.8h0M455.1 775.5h0M439.3 720.7h0M384.2 743h0M381.8 753.4h0M458.7 737.3h0M452.6 784.3h0M404.4 747.8h0M453.5 753.7h0M430.6 750.4h0M451.3 744.8h0M411.9 784.3h0M382.7 751.6h0M434 719h0M440.5 758.8h0M392.9 751.9h0M441.3 783.7h0M458.9 762.7h0M378.3 774.6h0M458.6 762.7h0" stroke="#6a72c0" stroke-width="0.8" stroke-linecap="round" opacity="0.7" fill="none"/>
<path d="M390.8 741.6h0M391.8 733.6h0M447.3 788h0M450.1 764.2h0M402.8 746.2h0M443.2 739.9h0M408.6 782.5h0M443.1 737.9h0M437.4 767.2h0M419.6 768.9h0M414.6 727.7h0M439.2 784.8h0M436.2 756.5h0M438.3 776.6h0M452.5 736.5h0M390.8 733.4h0M428.6 752.1h0M406.8 771.7h0M406.3 756.5h0M410.2 784.9h0M445.6 770.1h0M442.7 750.3h0M401 737.5h0M382.8 773.7h0M411.5 723.8h0M421.2 752.6h0M401 778h0M383.8 768.1h0M451.5 757.2h0M396.6 756.7h0M386.4 786.7h0M389.2 750.8h0M404.7 745.7h0M385.3 778.8h0M438.6 760h0M455 758.3h0M414.6 744.1h0M380.3 760.2h0M442 751h0M459.8 784.8h0M397.9 750.2h0M388.3 742.2h0M412.1 736.2h0M407 779.5h0M446.8 738.7h0M434.1 734.3h0M445.5 767.4h0M454.6 758.6h0M395.6 742.5h0M439.2 732.4h0M389.8 782.4h0M432.5 746.3h0M428.9 748.2h0M395.7 728.3h0M444.7 757.7h0M435.3 718.3h0M459.4 756.8h0M390.8 738.4h0M438 757.7h0M445.8 767.1h0M384.6 720.1h0M385.2 755.9h0M395 768.9h0M398.4 782.2h0M424 775h0M426.1 727.9h0M406.5 737.3h0M452.7 784.6h0M398.1 786.3h0M409.3 766.7h0M377.8 765.3h0M418.1 731.1h0M412.3 751.3h0M418.7 742.7h0M449.4 761.3h0M405.2 787.2h0M381.5 756.3h0M407.4 745.4h0M383.8 749.5h0M442.8 784.7h0M427 786.4h0M461.8 780h0M399.3 788.6h0M406.4 741.5h0M410.1 785.9h0M436.4 769.7h0M391.9 745.7h0M386.6 736.4h0M415 785.2h0M400.5 757.2h0M444.1 786.7h0M416.1 726.6h0M385.6 778.1h0M411.3 736.3h0M400 749.5h0M451.1 753.9h0M389.1 777.3h0M453.7 765.9h0M455 787.5h0M427.9 767.5h0M402.1 766.7h0M415 783.3h0M420.4 757.8h0M403.2 728.7h0M453.2 785.4h0M409 739.7h0M380.5 726.5h0M456.2 772.5h0M390.7 756.7h0M401.2 763.4h0M420.5 744.1h0M433.4 729.2h0M411 731.5h0M438.4 759.6h0M406.8 762.4h0M424.2 728.3h0M392.5 776.7h0M406.7 752.2h0M402.7 745.3h0M413.9 757.1h0M438.5 742.3h0M453.2 758h0M395.2 759.6h0M452 779.4h0M436.7 731.3h0M438 780.3h0M399.5 776.3h0M436.3 736.7h0M409.9 777.4h0M429.1 782.4h0M439.6 771.1h0M423.6 751.8h0M452.3 779.6h0M451.6 785.1h0M404.2 761.1h0M452.9 767h0M395.7 729h0M447.6 787.1h0M408.4 788.7h0M420.3 775.2h0M445.5 745.5h0M384.9 756h0M376.8 759.8h0M403.5 722.8h0M412.9 726.3h0M377.8 782.6h0M446.2 786.5h0M415.1 761.4h0M394.7 772.5h0M400.6 754.9h0M400.1 768.9h0M457.3 760.8h0M410.2 740.5h0M410.2 739.7h0M384.4 765.6h0M426.2 753.7h0M414.6 758.5h0M389 780h0M387.2 774.5h0M442.7 783h0M388.2 770.9h0M409.3 738h0M429.1 771.8h0M446.5 760.6h0M399.7 740.4h0M412 764.8h0M396.1 746.6h0M441.7 755.8h0M425 767.4h0M432.4 774.6h0M394.5 779.4h0M383.6 749.4h0M405.1 738.6h0M429.2 754.3h0M396.7 767.7h0M436.6 749.7h0M395.2 741.7h0M439.8 741.4h0M413.3 766.1h0M380.1 732h0M415.2 754.1h0M408.9 773h0M396.8 740.9h0M395.1 728.6h0M390.2 746.8h0M445.7 762.1h0M442.5 739.5h0M424.5 773.9h0M426.4 736.5h0M419.7 772.9h0M416.1 733.2h0M399.6 788h0M457.1 773.8h0M406.2 768h0M401 754.1h0M451.7 734.9h0M406.8 772.7h0M441.6 749.5h0M444 784.1h0M436.9 769.4h0M434.5 766.6h0M378.3 747.2h0M400.9 771.7h0M432.3 770.2h0M437.2 739h0M434.6 755.8h0M383.9 777.5h0M406.3 783.5h0" stroke="#6a72c0" stroke-width="1.1" stroke-linecap="round" opacity="0.45" fill="none"/>
</g>
<defs><clipPath id="ihck2"><rect x="465.2" y="717.9" width="90" height="70.8"/></clipPath><filter id="blk2" x="-20%" y="-20%" width="140%" height="140%"><feGaussianBlur stdDeviation="2.2"/></filter><mask id="mkk2"><rect x="465.2" y="717.9" width="90" height="70.8" fill="#999"/><g filter="url(#blk2)" fill="#fff"><ellipse cx="510.2" cy="753.3" rx="54" ry="42.5"/></g></mask></defs>
<g clip-path="url(#ihck2)">
<rect x="465.2" y="717.9" width="90" height="70.8" fill="#e2dee3"/>
<g filter="url(#blk2)" fill="#dcd4d6"><ellipse cx="510.2" cy="753.3" rx="54" ry="42.5"/></g>
<g mask="url(#mkk2)">
<rect x="465.2" y="717.9" width="90" height="70.8" fill="#000" filter="url(#gr2)" opacity="0.6"/>
<rect x="465.2" y="717.9" width="90" height="70.8" fill="#000" filter="url(#gb2)" opacity="0.45"/>
</g>
<rect x="465.2" y="717.9" width="90" height="70.8" fill="#000" filter="url(#gw2)" opacity="0.5"/>
<path d="M539.5 752.3h0M514.2 778.1h0M553.5 728.4h0M543.8 750.8h0M475.4 748h0M511.7 783.2h0M530 724.2h0M482.7 760.6h0M543 752.4h0M530.1 740.3h0M524.5 784.1h0M516.7 724.1h0M510.8 769.5h0M510.5 784.4h0M539 722.7h0M514.3 762.8h0M542.5 747h0M547.7 763.5h0M531.4 773.9h0M474.2 754h0M489.9 743.8h0M533.6 753.8h0M510.9 738.6h0M486.9 723.8h0M527 736.6h0M490.7 770.1h0M482.4 729.6h0M555 765.6h0M467.6 783.9h0M552.2 761.7h0M509.2 744.6h0M546.2 750.1h0M476 778.7h0M480.1 758.1h0M516.2 760h0M518.6 748.5h0M488 758.9h0M479.1 769.7h0M538.8 786.6h0M510 761.3h0M475.9 739.6h0M471.1 748.1h0M477 779.1h0M484.9 775.4h0M538.4 765.1h0M473.2 771h0M482.3 776.7h0M528.2 736.4h0M535 742.3h0M519.9 766.2h0M538.7 769.6h0M513.4 727.6h0M484.3 770.9h0M489.8 738.7h0M532.2 736.4h0M548.8 727.8h0M518.2 774.6h0M466.3 768.7h0M481.5 748h0M542 755h0M551.5 746.4h0M477.7 745h0M481.9 750.4h0M512.7 748.2h0M474.9 723.3h0M489.8 725.1h0M540.4 743.6h0M528.8 736.2h0M483.1 768h0M542.1 722.2h0M498.5 746.1h0M509.9 752.9h0M531.8 752.8h0M496.8 734h0M478.6 733.6h0M479.5 731.3h0M475.5 779h0M537.1 753h0M516.2 783.8h0M503.3 727.4h0M477.6 776.8h0M499.5 719.6h0M493.1 785.8h0M494.6 745.6h0M516 782h0M495 780.9h0M491 736.3h0M513.3 780.8h0M539.7 743.9h0M485.4 732.2h0M482.3 739.5h0M491.7 776.4h0M514.4 757.5h0M511.6 725.1h0M543 774.3h0M475.5 734.7h0M544.3 783.3h0M528.8 751.7h0M497.5 760.8h0M528.8 779h0M551.3 738.3h0M476.7 767.4h0M487.5 726.7h0M503.9 782.4h0M472.8 746.9h0M504 728.4h0M489 738.2h0M521.9 781h0M509.6 734.7h0M514.5 761.5h0M491.8 732h0M548.6 734h0M494.7 724.7h0M490.4 785.5h0M497.1 754.1h0M492.6 726.6h0M545.7 783h0M550.6 746.1h0M531 719.8h0M542 738.8h0M505.4 742.8h0M535.4 782.6h0M525.4 753.1h0M501.6 748.3h0M505.3 736.3h0M488.4 750.4h0M548.5 726.8h0M531.5 756h0M508.9 764.2h0M528.7 739.9h0M468 745.6h0M553.4 783.9h0M485.6 722.7h0M476.3 787.1h0M536 740.7h0M493.1 784.7h0M515 783.5h0M507.7 754.6h0M469.1 726.9h0M503.8 733h0M520.1 720h0M538.9 728.7h0M503.7 767.2h0M484.9 778.6h0M527.5 754.4h0M506.2 780.3h0M480 742.2h0M502.6 765.9h0M498.1 780.5h0M551.9 731.3h0M467.3 761.7h0M522.8 718.4h0M499.6 720.4h0M467.7 780.2h0M549.9 756.2h0M491.4 786.5h0M522 771h0M481 750.7h0M540.6 723.7h0M499.3 768.7h0M500.6 732h0M538.7 777.1h0M531.6 766.4h0M551.7 771.8h0M511 749.4h0M478.5 749.4h0M522.4 770.7h0M521.2 719.9h0M476.4 745.3h0M486.9 754.5h0M500.1 737.1h0M470.8 741h0M543.7 729.8h0M550 784.4h0M488 737.4h0M491.6 764.5h0M493.1 770.1h0M532.3 766h0M521.5 757h0M510.6 744.3h0M498.6 752.2h0M525.1 757.7h0M528.5 741.8h0M511.9 754.9h0M539.8 721.8h0M529.7 784.1h0M544.9 725.2h0M477.4 768.9h0M502.9 788.7h0M546 734h0M513.2 762.8h0M495.1 778.9h0M540.3 737.9h0M522.7 740.8h0M548.5 741.6h0M513.7 749.4h0M531.6 773.1h0M480.1 740.6h0M489.4 752.1h0M505.8 739.6h0" stroke="#bca48e" stroke-width="1.5" stroke-linecap="round" opacity="0.3" fill="none"/>
<path d="M498.6 718h0M551 732.2h0M553.2 725.8h0M469.6 720.6h0M518 734.1h0M501.3 787.8h0M473.4 722.3h0M492.4 745.1h0M512.5 753.9h0M519.6 776.1h0M518.6 786.5h0M552.2 783.2h0M493.9 729.7h0M517.8 752.1h0M530.1 765.7h0M476.8 737.4h0M494.2 786.1h0M476.3 755.5h0M527.2 718.1h0M537.1 760.9h0M553.6 739.3h0M507.7 719.2h0M546.9 742.7h0M519.3 765.1h0M526.5 779.6h0M480.8 762.3h0M521.2 729.8h0M504.8 757.3h0M540.4 769.7h0M532.4 778.3h0M515.2 765.4h0M476.2 731.9h0M472.8 754.6h0M482.3 720h0M474.3 748.1h0M525 785.6h0M533.8 740.9h0M528.5 736.9h0M468.9 736.2h0M478.7 746.2h0M469.1 721.4h0M525.6 722.3h0M489.5 724.2h0M486.2 762.8h0M550.5 768.1h0M519.5 786h0M473 760.3h0M474.4 762.6h0M507.4 774.1h0M465.9 761.6h0M515.7 772.5h0M535.8 735.1h0M492.9 746.1h0M515.4 774.9h0M523.7 781.5h0M527.6 757.4h0M545.7 785.1h0M499.4 752.4h0M491.2 754.2h0M539.2 748.3h0M546.6 774.9h0M478.2 748.9h0M528.7 741.1h0M531.3 762.9h0M527.2 778.1h0M502.4 733.3h0M478 720.5h0M520.7 783.8h0M525.7 786.5h0M493.5 754.7h0M467.3 760h0M535.4 767.9h0M498.2 784.8h0M520.3 775h0M519 767.3h0M540.2 746.5h0M534.9 778.9h0M533.9 781h0M516.2 782.7h0M497.7 740.2h0M524.6 734.7h0M537 780.3h0M533.4 776.7h0M475.6 736.7h0M475 721.5h0M478.8 736.5h0M486.6 766h0M522.1 755.4h0M466.8 746.6h0M479.4 754.9h0M475 739.7h0M518.7 763.8h0M520.7 762.4h0M547 763.3h0M481.8 741.9h0M495.3 744.7h0M472.4 774.3h0M483.6 775.5h0M552.4 734.4h0M484.9 745.6h0M505 729.1h0M525.9 766h0M495.9 773h0M485.1 736.4h0M551.8 763.1h0M554.5 726.2h0M549.8 769.1h0M487.7 751.5h0M494.8 760h0M501.8 718.9h0M511.5 747.2h0M495.1 757.1h0M476.3 735.9h0M496.9 726.3h0M504.3 769.8h0M467.3 740.4h0M486.2 768.1h0M469.8 720.5h0M467.6 758.1h0M526.6 775.9h0M507.6 782.5h0M482.3 776.6h0M553.2 737.6h0M532.1 746.6h0M482.1 776.4h0M513.8 756.6h0M495.3 724.3h0M470.4 739.3h0M530.5 780.6h0M473.4 750.2h0M520 785h0M532.6 760.5h0M504.6 759.1h0M508.1 762.2h0M546.2 763.4h0M469.5 755.3h0M533.7 722.8h0M552.2 765.5h0M517.5 768.5h0M502.2 764.1h0M493.4 730.6h0M512.2 785.8h0M519.9 765.8h0M529.1 776h0M537.7 756.7h0M467.2 764.4h0M495.5 771.2h0M478.4 748.1h0M485.8 767.9h0M540.6 725.7h0M533 718.1h0M538.4 735.6h0M502.8 765.9h0M521.8 768.1h0M480.9 767h0M479.3 780.4h0M482.5 766.1h0M492.3 785.7h0M489.4 758.6h0M489 765.1h0M521.2 762.3h0M521.7 786.8h0M545.5 761.3h0M522 786h0M495.2 735.2h0M527.8 784.2h0M501.7 747.9h0M483.2 782.3h0M478.8 757h0M494.2 721.4h0M503.5 744.2h0M490 743h0M516.4 745.7h0M477.4 725.9h0M473 757.6h0M555 730h0M544.9 752.2h0M533.7 720.7h0M511.5 773.2h0M492.5 742.2h0M530 755.1h0M532.4 746.2h0M538.2 721.3h0M526.6 776.3h0M482.4 751.2h0M487.7 771.6h0M487.5 737.7h0M511.4 764.6h0M521.7 753.5h0M543.7 776.7h0M542 742.1h0M500.7 787.4h0M550.7 772.5h0M523.2 723h0M496.6 718.8h0M540.5 740.6h0M517.6 785h0M500.4 729.7h0M488.7 727.3h0M503.2 723.1h0M544.9 772.7h0M468.2 780.5h0M505 783.3h0M516.5 757.9h0M530 747.6h0M510.6 758.8h0M484.3 783.6h0M487.7 743.4h0M503.1 770h0M481.2 726.5h0M539.5 759.3h0M535.2 779.2h0M512.3 743h0M526.5 786.3h0M515.3 738.1h0M554.1 775.9h0M546.6 754.3h0M537.2 726.4h0M489 723.9h0M485.5 739.4h0M477.7 720.7h0M537 757.7h0M479.2 719.2h0" stroke="#6270c6" stroke-width="1.8" stroke-linecap="round" opacity="0.55" fill="none"/>
<path d="M472.2 733h0M509.9 768.9h0M541.1 754.9h0M466 769.6h0M493.1 783.7h0M531.7 758.2h0M508.1 775.4h0M465.8 785.3h0M509.5 785.5h0M530.3 731.7h0M487.5 718h0M529.4 787.3h0M475.5 740.4h0M485.9 749.2h0M465.7 776.6h0M510.5 786.7h0M471.9 759.6h0M553.1 735.4h0M510.9 731h0M498.1 719.5h0M481.2 724.1h0M499.1 751.4h0M473.1 745.6h0M479.1 758.4h0M488.2 783.2h0M536 747.7h0M500.6 778.8h0M519.3 773.6h0M514.4 737.4h0M540.9 737.9h0M520.7 742.6h0M541.8 768h0M514.4 788h0M474.4 727.9h0M486.8 770.1h0M482.7 749.1h0M483.2 767.4h0M520.4 720.9h0M478.5 772.7h0M518.9 759.3h0M491.7 750.2h0M471.4 757.4h0M520.3 735.2h0M511 730.3h0M528.4 780.3h0M478.2 735.6h0M527.3 720.2h0M546.3 763.9h0M495.3 722.2h0M497.4 782.4h0M541.1 785.6h0M521.5 772.4h0M490.5 761.7h0M548.7 771.7h0M534.2 788.4h0M520.4 731.4h0M497.4 765.8h0M551.4 748.4h0M538.8 760h0M516.4 763.1h0M478.5 733.6h0M553.8 732.1h0M539.9 762.2h0M471.6 730.6h0M497.7 776.2h0M502.6 760.8h0M550 722.8h0M495 738h0M507 773.5h0M529.7 761.1h0M532.7 748.2h0M538.7 774h0M483.8 752.3h0M500 745.4h0M506.1 719.7h0M504.6 718.8h0M495.9 732.4h0M510.5 765.4h0M470 746.1h0M476.7 772.3h0M545.1 778.7h0M496.1 775h0M520.4 760.4h0M486.4 743.8h0M503.6 753.1h0M505.9 751.1h0M497 751.2h0M498 761.9h0M483.2 740.1h0M535 725.2h0M517.8 765.2h0M506.2 724.2h0M530.4 774h0M552.1 766.8h0M514.9 735.2h0M546.6 772.6h0M476.3 721.2h0M518.9 731.1h0M534.8 733.3h0M537.7 728.1h0M487.1 771.7h0M496.9 747.1h0M508 736.4h0M500.9 733h0M551.9 784.7h0M495.6 719.9h0M488.1 770.9h0M467 768.8h0M482.3 760.7h0M538.5 770.4h0M492.3 734.1h0M488.7 726.5h0M484.9 786.2h0M498.8 773.3h0M553.9 726.3h0M539.1 779.2h0M490.5 756.8h0M499.2 779.3h0M465.3 745.6h0M486.4 754.3h0M521.5 755.6h0M491.7 736.1h0M474.9 787.8h0M549.1 788.1h0M514.4 782.5h0M527.7 752h0M474.2 787.7h0M524.4 763.5h0M470.1 732.4h0M548.8 745.1h0M510.1 737.5h0M469.8 775.2h0M512.7 736.6h0M495.2 721.5h0M484.9 718.4h0M549.7 719.2h0M522.9 768h0M539.6 739.6h0M524.5 729.2h0M469.6 730.1h0M465.2 769.2h0M509.5 729.1h0M467.3 738.7h0M541.3 768.2h0M518.3 787.9h0M520.2 730.9h0M534.7 785.3h0M503.8 753.6h0M533.2 749h0M542.8 770.7h0M477.9 783.5h0M476 767.5h0M547.7 770.3h0M488.9 787.6h0M496.6 737.2h0M471 784.8h0M517.4 749.6h0M514.8 748.1h0M466.2 783.8h0M544.2 781h0M518.2 729.3h0M540.9 734.2h0M523.2 768.5h0M544.5 774.8h0M513.3 732h0M542.8 754.4h0M552.4 745.9h0M540.2 738.1h0M491.4 733.7h0M553.3 759.1h0M551.3 776.6h0M475.3 760.5h0M554.7 772.2h0M523.6 784.7h0M499.8 787.9h0M536.9 729.6h0M526.4 740.1h0M511.6 747.6h0M552.5 732.1h0M519.9 724.6h0M466.5 753.2h0M509.5 746.5h0M474.7 776.3h0M533.4 775h0M536.5 779.4h0M490.9 751.5h0M492.1 752.3h0M537.2 736h0M526.1 773.4h0M532.7 767.6h0M523.7 724.6h0M502.1 753h0M504.1 758.1h0M531.4 734.1h0M503 727.2h0M510.2 785.1h0M510.2 782.8h0" stroke="#6270c6" stroke-width="2.3" stroke-linecap="round" opacity="0.4" fill="none"/>
</g>
<defs><clipPath id="ihck3"><rect x="373.2" y="790.7" width="88.6" height="72.3"/></clipPath><filter id="blk3" x="-20%" y="-20%" width="140%" height="140%"><feGaussianBlur stdDeviation="2.2"/></filter><mask id="mkk3"><rect x="373.2" y="790.7" width="88.6" height="72.3" fill="#444"/><g filter="url(#blk3)" fill="#fff"><ellipse cx="426.4" cy="823.2" rx="24.8" ry="25.3"/><ellipse cx="386.5" cy="854.3" rx="26.6" ry="10.8"/><ellipse cx="404.2" cy="801.5" rx="26.6" ry="10.8"/><ellipse cx="444.1" cy="855.8" rx="17.7" ry="7.2"/></g></mask></defs>
<g clip-path="url(#ihck3)">
<rect x="373.2" y="790.7" width="88.6" height="72.3" fill="#e6e6f0"/>
<g filter="url(#blk3)" fill="#d4d4e6"><ellipse cx="426.4" cy="823.2" rx="24.8" ry="25.3"/><ellipse cx="386.5" cy="854.3" rx="26.6" ry="10.8"/><ellipse cx="404.2" cy="801.5" rx="26.6" ry="10.8"/><ellipse cx="444.1" cy="855.8" rx="17.7" ry="7.2"/></g>
<path d="M379 812 q10 6 14 24" stroke="#f4f4f8" stroke-width="4" fill="none"/>
<path d="M440 810 q8 0 14 14" stroke="#f4f4f8" stroke-width="3" fill="none"/>
<path d="M426 840 q10 4 20 18" stroke="#f2f2f6" stroke-width="3" fill="none"/>
<g mask="url(#mkk3)">
<rect x="373.2" y="790.7" width="88.6" height="72.3" fill="#000" filter="url(#gr1)" opacity="0.3"/>
<rect x="373.2" y="790.7" width="88.6" height="72.3" fill="#000" filter="url(#gb1)" opacity="0.8"/>
</g>
<rect x="373.2" y="790.7" width="88.6" height="72.3" fill="#000" filter="url(#gw1)" opacity="0.5"/>
<path d="M446.1 860.8h0M419.1 844.8h0M444.9 793.3h0M389.4 845.3h0M438.2 803.7h0M376.8 824.8h0M397.3 845.4h0M432.4 842.7h0M445.3 860h0M442 850h0M407.8 825.9h0M393.5 854.1h0M416.6 838h0M408.2 810h0M441 858.6h0M410.3 828.2h0M394 797.1h0M403.1 802.7h0M414 796.4h0M432.1 848.8h0M446.2 857.5h0M461.4 836.3h0M441.8 803.8h0M415.2 791.8h0M434.7 813.8h0M402.7 851.6h0M450.6 847.5h0M418.2 824.7h0M431.7 840.9h0M435.3 807.8h0M379.4 858.8h0M381.6 797.3h0M374.5 859.4h0M418 859.3h0M433.9 817.1h0M438.8 826.4h0M435.4 851.8h0M428.5 831.9h0M421.1 806.4h0M394.9 861.5h0M413.8 838.9h0M426 836.6h0M373.6 856.9h0M403.7 803.5h0M385.8 854.2h0M409.8 857.6h0M431.6 791.7h0M415.4 804.2h0M408 857.2h0M419.9 842.9h0M404.7 808.1h0M376.6 856.6h0M378 809.9h0M447.9 837.2h0M383.2 802.3h0M408.9 795.1h0M389.9 858.4h0M409 812.2h0M427.7 856.1h0M402.6 821.6h0" stroke="#b48c6e" stroke-width="1.2" stroke-linecap="round" opacity="0.4" fill="none"/>
<path d="M423.7 836.4h0M431 855.1h0M422.4 840h0M400.2 819.2h0M384.2 801.5h0M378.3 810.6h0M431.1 823.8h0M421 847.5h0M415.8 818.1h0M396.3 854.1h0M437.1 807.2h0M424.9 832.1h0M445.3 800.7h0M442.4 847.9h0M428 814.3h0M403.2 826.5h0M380.5 805.4h0M414 836.9h0M398.2 843.1h0M387.3 861.4h0M402.6 849.3h0M443.6 828h0M389.9 805.1h0M444.2 822.8h0M441.3 802.1h0M450.4 858.2h0M446.5 814.4h0M376 842.5h0M404.7 809.1h0M432.6 809.4h0M406.2 812.5h0M425.4 813.2h0M387.9 835.9h0M374.2 836.4h0M440.4 826.4h0M406.6 828.4h0M404.3 838.2h0M422.7 835.1h0M392.9 798.9h0M375.3 856.7h0M455.1 853.6h0M406.7 835.4h0M393 840.2h0M450.7 832.9h0M444.9 819.8h0M454.5 855h0M412.2 813.8h0M384.9 862.3h0M437.7 803.2h0M417.2 819.5h0M375.4 855.6h0M406.5 857h0M403.1 798.3h0M377 858.8h0M442.8 858.5h0M409.1 811.2h0M436.5 795.7h0M407 793.8h0M414.4 823.2h0M400 846.5h0M402.4 813h0M457.6 848.1h0M392.6 830.1h0M375.7 851.1h0M430.7 855.6h0M395.9 792.5h0M431.6 809.9h0M397.6 850.4h0M452.8 833.8h0M403.6 810.9h0M380.6 852.8h0M456.4 844.9h0M408.2 832.4h0M414.9 795h0M396.7 801.7h0M424.6 827.7h0M396.2 846.2h0M440.4 806.6h0M392.4 806.9h0M403.7 819.1h0M428.8 840.8h0M387.3 809.4h0M459.8 792.5h0M433.2 817.2h0M435 834.3h0M398.3 852.7h0M447.7 838.1h0M435.2 822.2h0M439.5 791.7h0M428.3 817.4h0M426.1 821h0M432.5 848.2h0M407.2 819.7h0M458.7 843.6h0M417.2 832.9h0M435.5 853.8h0M395.4 815.6h0M438.6 816h0M411.6 804.8h0M387.7 833.5h0M392 801.1h0M417.3 812.3h0M412.9 813.8h0M383.3 818.1h0M387.6 806.6h0M446.7 821.8h0M383.8 857h0M460.4 820.1h0M390.1 857.1h0M394.5 851.3h0M413.2 834.2h0M401.8 793.9h0M408.7 823.4h0M413.5 799.7h0M452.4 853.6h0M432.2 842.4h0M415.4 824.6h0M453.6 809.8h0M416.1 830.9h0M420 801.9h0M444.8 828.6h0M450.1 831.3h0M404.4 799.3h0M445.1 852.9h0M397.5 805.9h0M428.4 837.9h0M403.8 855.2h0M460.2 808.9h0M449.2 852.2h0M431.4 828.3h0M412.8 817.1h0M405.7 847.9h0M429 826.9h0M437.4 854.4h0M420.4 805h0M415.5 806.3h0M415.8 810.2h0M451.6 851.9h0M447.8 832h0M420.2 834.2h0M426.2 810.4h0M431.5 812.1h0M408.7 797.6h0M398.8 847.4h0M403.3 846.7h0M428.6 809.6h0M446.5 856.9h0M399.4 811.5h0M458.1 852.8h0M380.7 838h0M430.7 816.5h0M378.8 850.2h0M415.1 822.3h0M445.4 834.4h0M449.7 851.4h0M416.7 820.6h0M452.6 860.3h0M399.9 808.4h0M404.7 839.5h0M401.1 849.5h0M396.6 861.9h0M399.5 812h0M402.8 808.9h0M386.9 825.3h0M404.6 823h0M432.1 812h0M409 806.4h0M414 810.1h0M454.9 853.1h0M432.5 856.6h0M399.9 815.1h0M423.8 829.6h0M407.9 817.8h0M386.3 849.8h0M434.5 861.3h0" stroke="#6a74c0" stroke-width="0.8" stroke-linecap="round" opacity="0.7" fill="none"/>
<path d="M430.9 835.3h0M420 822.9h0M460 811.3h0M394.7 810.4h0M376.1 853.8h0M412.5 813.5h0M437.8 824.2h0M402 798.3h0M428.3 811.4h0M444.9 857.6h0M425.2 827.7h0M441.6 832.2h0M373.8 858.6h0M405.7 848.5h0M409.9 800.1h0M445.2 811.2h0M428.7 807.7h0M381.8 800.5h0M454.5 831.8h0M407.1 833.1h0M416.9 827.3h0M421.4 811.2h0M394.1 809.1h0M400.1 850.5h0M398 850.3h0M398.8 799h0M401.2 856h0M411.4 814.8h0M436.6 800.2h0M420.6 832.9h0M420.4 805.2h0M437.3 860.5h0M403.9 858.7h0M408.6 836.2h0M406.9 848.7h0M451.1 855.5h0M417.3 811.6h0M405 805.9h0M391.5 800.8h0M408 809.2h0M420.3 803.3h0M416.9 796.5h0M406.1 805.6h0M400.6 794.8h0M449.1 850h0M447.3 795.7h0M439.6 809.3h0M375.8 847.4h0M373.3 835.4h0M456 802.9h0M414.2 832.7h0M407.2 831.3h0M380.8 815.2h0M388.2 848.1h0M461.1 856.9h0M441.8 818.2h0M428.8 845.6h0M426.5 847.1h0M407.8 820.6h0M392.9 809.7h0M397.6 803.8h0M383.9 861h0M394.3 850.5h0M433.5 852.4h0M411.8 801.5h0M397.7 806.4h0M446.3 814.7h0M388.5 855.9h0M420.7 850.9h0M419.6 812.7h0M382.1 850.5h0M405.2 849.2h0M388.2 826.6h0M430.9 826.8h0M427.7 809.3h0M418.9 840h0M403.1 808.7h0M443.9 829.4h0M406.3 830.1h0M429.3 803.9h0M445.1 831.5h0M414.9 832.4h0M442.9 831.1h0M400.7 807h0M428.8 813.8h0M450.6 847.2h0M432.3 806h0M374.5 806h0M375.4 857.8h0M406 808.5h0M381.4 857.9h0M416 792.4h0M441.8 837.3h0M437.1 807.2h0M424.1 838.8h0M445.2 813.7h0M411.3 823.9h0M387.9 819.7h0M412.6 838.6h0M429.1 814.7h0M409.6 811.6h0M439.1 804.4h0M396.3 819.4h0M430.4 835.5h0M425.3 823.7h0M438.2 834.3h0M402.8 818.2h0M381.1 860.1h0M375.5 820.3h0M396.4 852.5h0M417.5 825.9h0M422.3 802.8h0M402.7 826.9h0M383.8 847.7h0M453.1 845.8h0M374 798.6h0M384 846.7h0M387.9 862.6h0M456.7 801.3h0M388.8 798.1h0M420.4 793h0M460.9 817.7h0M413.9 804.6h0M386 832.6h0M413.6 847h0M412.6 795.7h0M406.2 833.3h0M430.3 830.9h0M379.9 856.6h0M435 817.6h0M413.5 814.6h0M412.3 800.6h0M459.6 796.2h0M424.3 809.5h0M431.8 860.4h0M445.5 850.9h0M431.8 810.6h0M390.2 804.8h0M392.5 806h0M375.1 838.9h0M376.6 807.1h0M452.8 823.3h0M440.9 836.5h0M420.7 822.8h0M429.7 794.5h0M425.4 820.6h0M424.1 797.9h0M374.4 837.9h0M412.7 828.8h0M399.3 799.3h0M383.4 851.8h0M376.1 853.7h0M401.9 810.4h0M391.9 861.3h0M432.7 839.8h0M451.4 848.1h0M402.5 852.9h0M405.6 810.8h0M446 806.7h0M446.5 827.5h0M395.4 827.6h0M393.6 846.4h0M425.2 818.8h0M455.1 861.1h0M437.6 803.6h0M409 835.4h0M418.3 823.9h0M461.8 828.9h0M426.1 821.1h0M425.3 810.8h0M420.5 816.8h0M395.4 854.9h0M383.6 846.9h0M453.7 814.3h0M396.3 857.2h0" stroke="#6a74c0" stroke-width="1.1" stroke-linecap="round" opacity="0.45" fill="none"/>
</g>
<defs><clipPath id="ihck4"><rect x="465.2" y="790.4" width="90" height="72.6"/></clipPath><filter id="blk4" x="-20%" y="-20%" width="140%" height="140%"><feGaussianBlur stdDeviation="2.2"/></filter><mask id="mkk4"><rect x="465.2" y="790.4" width="90" height="72.6" fill="#444"/><g filter="url(#blk4)" fill="#fff"><ellipse cx="526.4" cy="823.1" rx="28.8" ry="25.4"/><ellipse cx="492.2" cy="859.4" rx="27" ry="14.5"/><ellipse cx="546.2" cy="855.7" rx="13.5" ry="10.9"/></g></mask></defs>
<g clip-path="url(#ihck4)">
<rect x="465.2" y="790.4" width="90" height="72.6" fill="#e4e5f0"/>
<g filter="url(#blk4)" fill="#d4d6ea"><ellipse cx="526.4" cy="823.1" rx="28.8" ry="25.4"/><ellipse cx="492.2" cy="859.4" rx="27" ry="14.5"/><ellipse cx="546.2" cy="855.7" rx="13.5" ry="10.9"/></g>
<path d="M466 838 q8 10 14 25 l-14 0z" fill="#f6f6fa"/>
<path d="M530 828 q10 -2 25 -8" stroke="#f2f2f8" stroke-width="4" fill="none"/>
<path d="M470 800 q20 8 30 0" stroke="#ececf4" stroke-width="3" fill="none"/>
<g mask="url(#mkk4)">
<rect x="465.2" y="790.4" width="90" height="72.6" fill="#000" filter="url(#gr2)" opacity="0.15"/>
<rect x="465.2" y="790.4" width="90" height="72.6" fill="#000" filter="url(#gb2)" opacity="0.5"/>
</g>
<rect x="465.2" y="790.4" width="90" height="72.6" fill="#000" filter="url(#gw2)" opacity="0.5"/>
<path d="M514.4 793.4h0M468.7 817.4h0M512.2 826h0M518.1 798.9h0M505.7 860.4h0M531.3 811h0M513.9 817.2h0M512.7 855.1h0M554 847.3h0M540.5 828.5h0M489.8 849.8h0M537 812h0M519.8 828.2h0M544.3 846.4h0M521.6 811.1h0M512.6 841.1h0M528.5 811.3h0M520.3 814.1h0M509.1 836.2h0M517.8 833.4h0M474 857.1h0M535.7 823.1h0M483.1 842.4h0M510.7 822.3h0M506.2 859.2h0M516.2 816h0M529.3 810.4h0M545.5 858.9h0M476.3 839.1h0M490.8 857.6h0M545.8 821.7h0M519.6 828.6h0M512.1 801.4h0M503.4 853.7h0M523.3 831.3h0M521.5 829.9h0M512.1 842.6h0M545.9 851.5h0M509 856h0M498.5 809.7h0" stroke="#b48c6e" stroke-width="1.2" stroke-linecap="round" opacity="0.4" fill="none"/>
<path d="M544.6 816.9h0M535.1 845h0M513.4 834.5h0M553.4 820.9h0M532 815.2h0M479.1 858.1h0M538.5 862.2h0M542.7 834.3h0M501.8 824h0M492.7 861.7h0M484.8 854.2h0M525.4 845.1h0M512 860.7h0M480.6 827h0M504.3 834.6h0M526.5 806.5h0M498.5 852.4h0M475.3 857.8h0M538.2 839h0M477.9 808.7h0M505.3 810.3h0M533.2 832.6h0M511.7 833.4h0M523.5 829.6h0M537.4 844.6h0M501.9 848.2h0M521.7 807.2h0M487.5 858.2h0M528.1 830.5h0M474.4 853.6h0M537.4 807.2h0M547.1 860.7h0M507 813.4h0M502.2 814.5h0M528.7 806.2h0M517.6 857.6h0M511.7 806.5h0M518.7 843.4h0M508.3 813.7h0M547.2 840.1h0M547.6 827.3h0M543.4 820h0M507.7 804.9h0M511.5 855.3h0M515.7 837.5h0M488.1 857.9h0M528.3 816.2h0M545.9 862.7h0M483.8 834h0M488.1 809.4h0M467.4 860.3h0M504.4 829.4h0M549.5 851.4h0M517.4 859.5h0M477.9 793.6h0M519 815.2h0M527.9 841.4h0M466.3 809.8h0M499.8 852.5h0M541.2 821h0M488.4 856.2h0M477.9 823.7h0M537.6 826.9h0M531.5 812.9h0M546.2 821.9h0M524.4 805.5h0M496.5 850.7h0M513.8 860.3h0M497.5 841.3h0M498.5 803.9h0M499.7 849.6h0M484.6 862.6h0M501.5 806.2h0M490.3 860.2h0M525.6 840.9h0M511.4 821.2h0M508.3 836.5h0M502.2 851.1h0M542.8 836.5h0M545.4 808h0M534.5 824.1h0M528.2 830.6h0M530.9 824h0M528.5 830.3h0M476.6 814.6h0M505.2 837.1h0M551.4 821.6h0M471.9 796h0M535.2 810.1h0M525.9 852.6h0M493 857.8h0M523.8 812.5h0M528.2 805.7h0M522.8 791.1h0M528.5 831.9h0M528 812.3h0M539.1 796.7h0M507.4 854.8h0M495.6 857.1h0M516.4 820.8h0M507.5 860.5h0M511.7 857.5h0M471 817.4h0M529.7 815.9h0M475.7 790.7h0M520.5 820.9h0M517.4 826.8h0M519.1 816.9h0M493 853.3h0M525.6 843h0M531.2 806.6h0M480.1 827.9h0M549.5 827.8h0M515.3 842h0M465.5 797.9h0M538.2 836.9h0M515.8 827.5h0M517.6 832.4h0M542.4 813.1h0M537.6 841.3h0M477.9 850.7h0M516.4 817.3h0M546.9 848.4h0M507.3 795.2h0M493.4 859.1h0M535.6 835.7h0M475.7 861.9h0M539.3 857.5h0M512.7 854.7h0M536 820.5h0M515.9 842.7h0M494.3 850.7h0M498 858.7h0M515.8 837.3h0" stroke="#6270c6" stroke-width="1.7" stroke-linecap="round" opacity="0.6" fill="none"/>
<path d="M512.8 832.9h0M537.2 858.2h0M546.8 847.9h0M496 853.2h0M471.4 812.1h0M549.3 835h0M552.7 852.7h0M532.9 841.5h0M525.6 810.8h0M508.8 852.5h0M535.4 812h0M474.1 853.2h0M554.5 844.8h0M513 839.4h0M482.1 806.7h0M542.6 832.7h0M497 807.5h0M529.1 810.2h0M491.9 851.3h0M549.6 857.9h0M526.7 839.1h0M489.5 860.2h0M512.4 854.1h0M496.9 837.7h0M551.8 849.9h0M536.6 808.8h0M491.3 846.8h0M500.3 857.8h0M481.7 792.6h0M511.5 811.9h0M503.3 813h0M527.5 835.1h0M504.3 862.3h0M551.4 858.4h0M517.7 822.7h0M539.6 816.7h0M531.9 838.7h0M548 843h0M548 826.5h0M548.9 807.7h0M505.9 851.9h0M480.2 842.1h0M510.8 835.3h0M493.7 861.5h0M544.5 857.9h0M519.2 823.5h0M540.6 815.2h0M550.6 860.5h0M539.4 832.8h0M536 858.7h0M506.8 848.5h0M511.5 811.1h0M491.4 855.7h0M492.5 813.5h0M518.8 851.2h0M513.5 829.9h0M497.8 834.6h0M527.9 843.5h0M522.6 794.7h0M467.5 829.8h0M537.3 857.8h0M509.9 835.4h0M491.9 851.7h0M489.7 857h0M531.1 820.4h0M546.8 836.1h0M512.4 839.5h0M537.1 830.6h0M512.1 809.3h0M507.2 831.1h0M486.8 835.5h0M549.5 854.6h0M537.5 829.8h0M543.5 839.7h0M499.5 859.6h0M535.7 811.1h0M553.2 794.5h0M491.8 861.7h0M505.2 826.3h0M528.9 839h0M550.6 844.9h0M550.3 852h0M543.4 832h0M510.8 853.8h0M546 862.1h0M530.3 826.9h0M530.2 836.3h0M478.8 852.4h0M513.5 845.2h0M526.4 823.2h0M551.1 828.6h0M509 813.1h0M507.9 841.7h0M506.4 825.8h0M510.7 806.8h0M546 826.5h0M499.9 860.9h0M527.1 807.9h0M487.7 859.1h0M549 820.5h0M496.2 857.7h0M517.9 859.6h0M540.8 813.1h0M486.7 858.3h0M549.6 859.2h0M467.7 829.5h0M542.5 815.1h0M545.4 850.7h0M509.1 855.7h0M538.8 805.9h0M470.3 851.5h0M524.7 839.3h0M555.1 853.4h0M527.5 846.9h0M532.5 816.3h0M528.3 834.1h0M520.8 835.8h0M525 820h0M486.5 858.5h0M513 804.6h0M530.3 807h0M520.1 833.9h0M486.3 858.6h0M541.1 824.8h0M533.4 838.2h0M473.9 791.5h0M543.8 828.2h0M552.6 854.2h0M493.6 806.9h0M510.8 861.1h0M523.6 840.2h0M537 818.7h0M479.1 850h0M520.4 827h0M525.5 801.2h0M476.1 844.4h0M491.7 849.1h0M543.4 831.2h0M523.8 822.2h0M529.6 822.5h0M478.7 827.2h0M475.6 809.1h0M533.9 838.6h0M493.5 837.9h0M523.6 836.4h0M523.6 797.7h0M517.3 838.1h0M490.3 840.9h0M501.4 820.8h0M510.8 805.8h0M503 834h0M549.3 818.4h0M541.2 802.1h0M514.2 831.4h0M553.5 803.2h0M529.7 829.8h0M525.1 834.2h0M522.8 837.4h0M538.7 817.4h0M486.8 848.1h0M492.7 848.5h0M497.8 854.4h0M497.7 860.6h0M496.4 817.5h0M531.1 839.2h0M519.7 809.3h0" stroke="#6270c6" stroke-width="2.2" stroke-linecap="round" opacity="0.45" fill="none"/>
</g>
<rect x="402.6" y="744.3" width="30.4" height="25.6" fill="none" stroke="#2a2a2a" stroke-width="0.8"/>
<line x1="433" y1="744.3" x2="461.8" y2="718.5" stroke="#2a2a2a" stroke-width="0.8"/>
<line x1="433" y1="769.9" x2="461.8" y2="788.8" stroke="#2a2a2a" stroke-width="0.8"/>
<rect x="384.2" y="814.5" width="30.2" height="24.8" fill="none" stroke="#2a2a2a" stroke-width="0.8"/>
<line x1="414.4" y1="814.5" x2="461.8" y2="791.3" stroke="#2a2a2a" stroke-width="0.8"/>
<line x1="414.4" y1="839.3" x2="461.8" y2="861.5" stroke="#2a2a2a" stroke-width="0.8"/>
<line x1="368.8" y1="720.8" x2="368.8" y2="856.8" stroke="#9a9a9a" stroke-width="0.9"/>
<text x="360.2" y="759.8" font-family="Liberation Serif" font-size="13.2" font-weight="bold" text-anchor="middle" fill="#111" stroke="#111" stroke-width="0.15" transform="rotate(-90 360.2 759.8)">PD</text>
<text x="360.2" y="824.1" font-family="Liberation Serif" font-size="13.2" font-weight="bold" text-anchor="middle" fill="#111" stroke="#111" stroke-width="0.15" transform="rotate(-90 360.2 824.1)">PR</text>
<text x="420.2" y="710.7" font-family="Liberation Serif" font-size="16.1" text-anchor="middle" fill="#111" stroke="#111" stroke-width="0.15">200×</text>
<text x="509.1" y="710.5" font-family="Liberation Serif" font-size="16.1" text-anchor="middle" fill="#111" stroke="#111" stroke-width="0.15">400×</text>
<line x1="604.3" y1="728.6" x2="604.3" y2="843.7" stroke="#222" stroke-width="1.25"/>
<line x1="603.8" y1="843.2" x2="681.4" y2="843.2" stroke="#222" stroke-width="1.25"/>
<line x1="599.8" y1="843.2" x2="604.3" y2="843.2" stroke="#222" stroke-width="1.25"/>
<text x="599.2" y="846.4" font-family="Liberation Serif" font-size="9.4" font-weight="bold" text-anchor="end" fill="#111" stroke="#111" stroke-width="0.15">0</text>
<line x1="599.8" y1="805.2" x2="604.3" y2="805.2" stroke="#222" stroke-width="1.25"/>
<text x="599.2" y="808.4" font-family="Liberation Serif" font-size="9.4" font-weight="bold" text-anchor="end" fill="#111" stroke="#111" stroke-width="0.15">5</text>
<line x1="599.8" y1="767.1" x2="604.3" y2="767.1" stroke="#222" stroke-width="1.25"/>
<text x="599.2" y="770.3" font-family="Liberation Serif" font-size="9.4" font-weight="bold" text-anchor="end" fill="#111" stroke="#111" stroke-width="0.15">10</text>
<line x1="599.8" y1="729.1" x2="604.3" y2="729.1" stroke="#222" stroke-width="1.25"/>
<text x="599.2" y="732.3" font-family="Liberation Serif" font-size="9.4" font-weight="bold" text-anchor="end" fill="#111" stroke="#111" stroke-width="0.15">15</text>
<rect x="615.3" y="819.1" width="22.3" height="24.1" fill="#ede0c0" stroke="#777" stroke-width="0.5"/>
<line x1="626.5" y1="831.3" x2="626.5" y2="806.3" stroke="#666" stroke-width="0.75"/>
<line x1="621.2" y1="831.3" x2="631.8" y2="831.3" stroke="#666" stroke-width="0.75"/>
<line x1="621.2" y1="806.3" x2="631.8" y2="806.3" stroke="#666" stroke-width="0.75"/>
<line x1="626.5" y1="843.2" x2="626.5" y2="847.4" stroke="#222" stroke-width="1.25"/>
<rect x="648.5" y="768.4" width="21" height="74.8" fill="#c47e84" stroke="#777" stroke-width="0.5"/>
<line x1="659" y1="789.3" x2="659" y2="746.5" stroke="#666" stroke-width="0.75"/>
<line x1="653.7" y1="789.3" x2="664.3" y2="789.3" stroke="#666" stroke-width="0.75"/>
<line x1="653.7" y1="746.5" x2="664.3" y2="746.5" stroke="#666" stroke-width="0.75"/>
<line x1="659" y1="843.2" x2="659" y2="847.4" stroke="#222" stroke-width="1.25"/>
<line x1="625.7" y1="737.3" x2="660" y2="737.3" stroke="#111" stroke-width="1.1"/>
<text x="642.5" y="735.6" font-family="Liberation Serif" font-size="10" font-weight="bold" text-anchor="middle">***</text>
<text x="572.6" y="785" font-family="Liberation Serif" font-size="9.55" font-weight="bold" text-anchor="middle" fill="#111" stroke="#111" stroke-width="0.15" transform="rotate(-90 572.6 785)">Relative HILPDA SCORE</text>
<text x="626.6" y="856.9" font-family="Liberation Serif" font-size="9.7" font-weight="bold" text-anchor="middle" fill="#111" stroke="#111" stroke-width="0.15">PR</text>
<text x="659.5" y="856.9" font-family="Liberation Serif" font-size="9.7" font-weight="bold" text-anchor="middle" fill="#111" stroke="#111" stroke-width="0.15">PD</text>
</svg></body></html>
